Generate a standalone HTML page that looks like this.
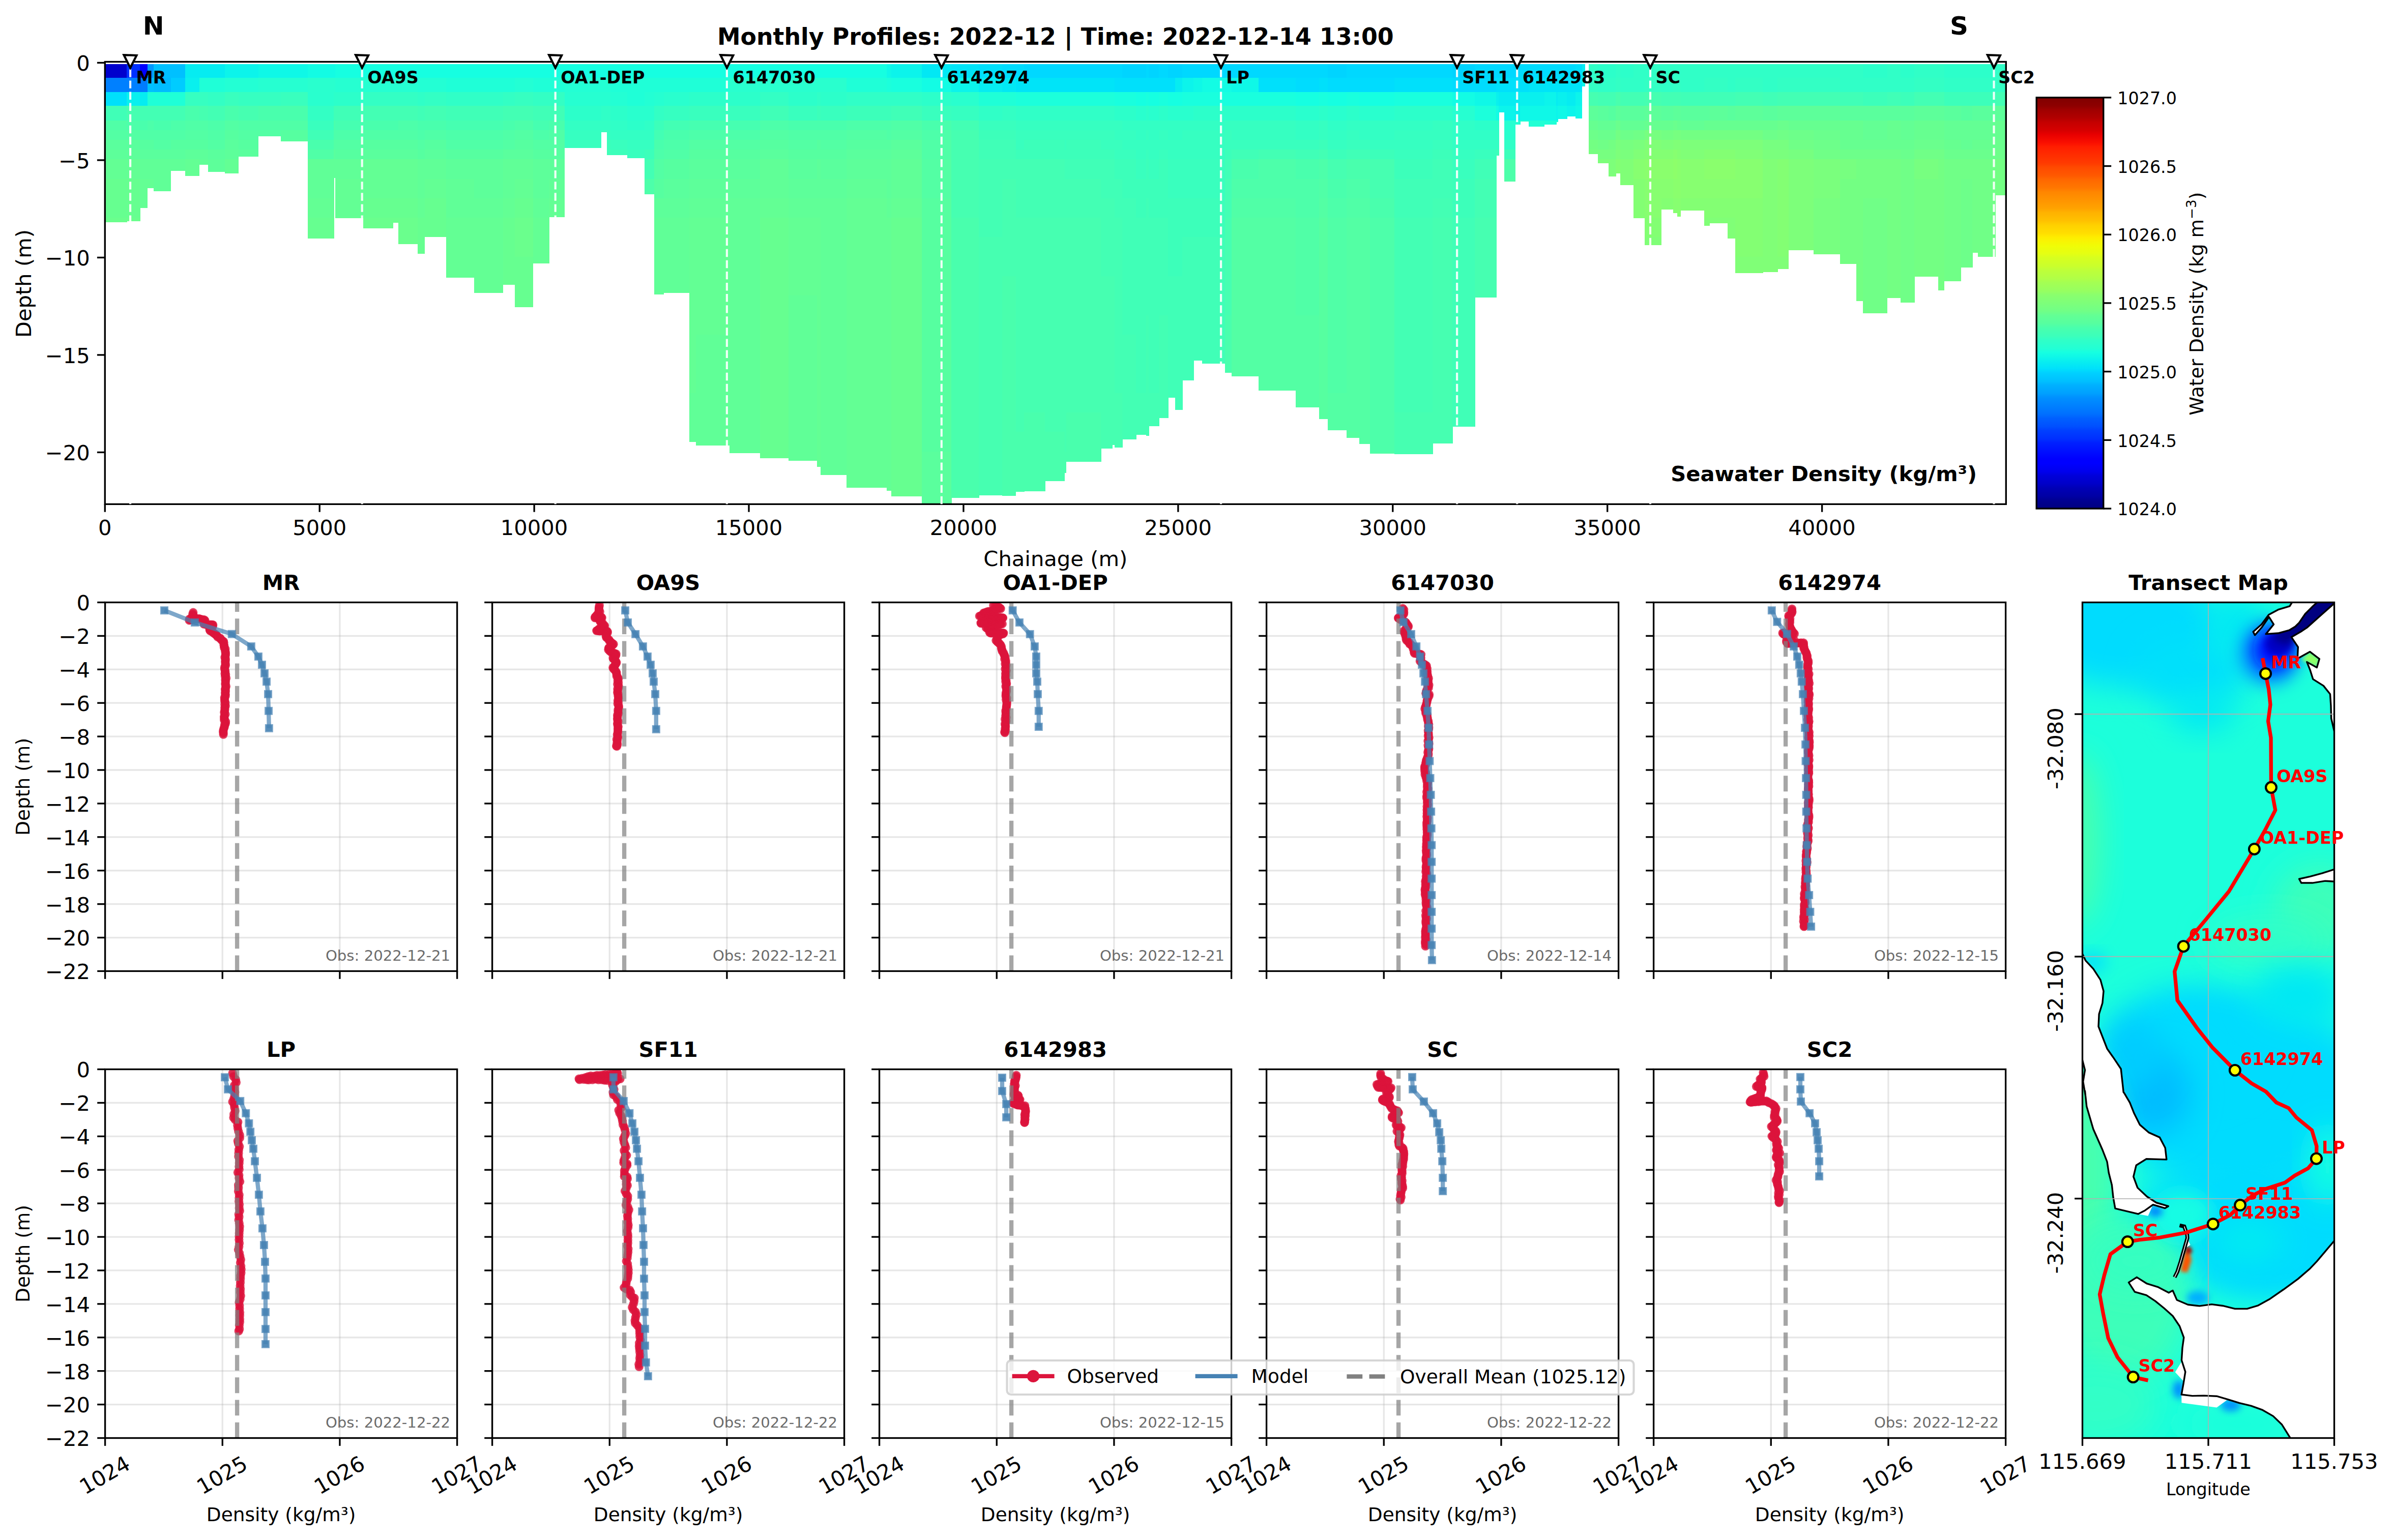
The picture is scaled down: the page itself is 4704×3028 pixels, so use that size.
<!DOCTYPE html>
<html lang="en"><head><meta charset="utf-8"><title>Monthly Profiles: 2022-12</title>
<style>
html,body{margin:0;padding:0;background:#fff;width:4704px;height:3028px;overflow:hidden}
svg{display:block}
text{font-family:"DejaVu Sans","Liberation Sans",sans-serif;white-space:pre}
</style></head><body>
<svg xmlns="http://www.w3.org/2000/svg" width="4704" height="3028" viewBox="0 0 4704 3028">
<rect x="0" y="0" width="4704" height="3028" fill="#fff"/>
<g shape-rendering="crispEdges">
<rect x="207.67" y="125.9" width="42.15" height="27.6" fill="#0000cd" stroke="none" stroke-width="0" />
<rect x="207.67" y="152.9" width="42.15" height="28.4" fill="#0080ff" stroke="none" stroke-width="0" />
<rect x="207.67" y="180.7" width="42.15" height="28.1" fill="#00e0fb" stroke="none" stroke-width="0" />
<rect x="207.67" y="208.2" width="42.15" height="29" fill="#40ffb7" stroke="none" stroke-width="0" />
<rect x="207.67" y="236.6" width="42.15" height="19.7" fill="#50ffa7" stroke="none" stroke-width="0" />
<rect x="207.67" y="255.7" width="42.15" height="19.8" fill="#53ffa4" stroke="none" stroke-width="0" />
<rect x="207.67" y="274.9" width="42.15" height="19.7" fill="#5aff9d" stroke="none" stroke-width="0" />
<rect x="207.67" y="294" width="42.15" height="19.8" fill="#5dff9a" stroke="none" stroke-width="0" />
<rect x="207.67" y="313.2" width="42.15" height="38.9" fill="#63ff94" stroke="none" stroke-width="0" />
<rect x="207.67" y="351.5" width="42.15" height="77.2" fill="#66ff90" stroke="none" stroke-width="0" />
<rect x="207.67" y="428.1" width="42.15" height="8.54" fill="#6aff8d" stroke="none" stroke-width="0" />
<rect x="249.22" y="125.9" width="26.43" height="27.6" fill="#0030ff" stroke="none" stroke-width="0" />
<rect x="249.22" y="152.9" width="26.43" height="28.4" fill="#0080ff" stroke="none" stroke-width="0" />
<rect x="249.22" y="180.7" width="26.43" height="28.1" fill="#09f0ee" stroke="none" stroke-width="0" />
<rect x="249.22" y="208.2" width="26.43" height="29" fill="#46ffb1" stroke="none" stroke-width="0" />
<rect x="249.22" y="236.6" width="26.43" height="19.7" fill="#4dffaa" stroke="none" stroke-width="0" />
<rect x="249.22" y="255.7" width="26.43" height="19.8" fill="#53ffa4" stroke="none" stroke-width="0" />
<rect x="249.22" y="274.9" width="26.43" height="19.7" fill="#5aff9d" stroke="none" stroke-width="0" />
<rect x="249.22" y="294" width="26.43" height="19.8" fill="#5dff9a" stroke="none" stroke-width="0" />
<rect x="249.22" y="313.2" width="26.43" height="38.9" fill="#63ff94" stroke="none" stroke-width="0" />
<rect x="249.22" y="351.5" width="26.43" height="77.2" fill="#66ff90" stroke="none" stroke-width="0" />
<rect x="249.22" y="428.1" width="26.43" height="6.51" fill="#6aff8d" stroke="none" stroke-width="0" />
<rect x="275.05" y="125.9" width="15.29" height="27.6" fill="#0000ff" stroke="none" stroke-width="0" />
<rect x="275.05" y="152.9" width="15.29" height="28.4" fill="#007cff" stroke="none" stroke-width="0" />
<rect x="275.05" y="180.7" width="15.29" height="28.1" fill="#06ecf1" stroke="none" stroke-width="0" />
<rect x="275.05" y="208.2" width="15.29" height="29" fill="#43ffb4" stroke="none" stroke-width="0" />
<rect x="275.05" y="236.6" width="15.29" height="19.7" fill="#49ffad" stroke="none" stroke-width="0" />
<rect x="275.05" y="255.7" width="15.29" height="19.8" fill="#50ffa7" stroke="none" stroke-width="0" />
<rect x="275.05" y="274.9" width="15.29" height="19.7" fill="#56ffa0" stroke="none" stroke-width="0" />
<rect x="275.05" y="294" width="15.29" height="19.8" fill="#5aff9d" stroke="none" stroke-width="0" />
<rect x="275.05" y="313.2" width="15.29" height="38.9" fill="#60ff97" stroke="none" stroke-width="0" />
<rect x="275.05" y="351.5" width="15.29" height="57.28" fill="#63ff94" stroke="none" stroke-width="0" />
<rect x="289.74" y="125.9" width="13.26" height="27.6" fill="#0098ff" stroke="none" stroke-width="0" />
<rect x="289.74" y="152.9" width="13.26" height="28.4" fill="#00c0ff" stroke="none" stroke-width="0" />
<rect x="289.74" y="180.7" width="13.26" height="28.1" fill="#1fffd7" stroke="none" stroke-width="0" />
<rect x="289.74" y="208.2" width="13.26" height="29" fill="#43ffb4" stroke="none" stroke-width="0" />
<rect x="289.74" y="236.6" width="13.26" height="19.7" fill="#4dffaa" stroke="none" stroke-width="0" />
<rect x="289.74" y="255.7" width="13.26" height="19.8" fill="#50ffa7" stroke="none" stroke-width="0" />
<rect x="289.74" y="274.9" width="13.26" height="19.7" fill="#56ffa0" stroke="none" stroke-width="0" />
<rect x="289.74" y="294" width="13.26" height="19.8" fill="#5aff9d" stroke="none" stroke-width="0" />
<rect x="289.74" y="313.2" width="13.26" height="38.9" fill="#60ff97" stroke="none" stroke-width="0" />
<rect x="289.74" y="351.5" width="13.26" height="18.78" fill="#63ff94" stroke="none" stroke-width="0" />
<rect x="302.41" y="125.9" width="34.03" height="27.6" fill="#00c0ff" stroke="none" stroke-width="0" />
<rect x="302.41" y="152.9" width="34.03" height="28.4" fill="#00bcff" stroke="none" stroke-width="0" />
<rect x="302.41" y="180.7" width="34.03" height="28.1" fill="#1fffd7" stroke="none" stroke-width="0" />
<rect x="302.41" y="208.2" width="34.03" height="29" fill="#43ffb4" stroke="none" stroke-width="0" />
<rect x="302.41" y="236.6" width="34.03" height="19.7" fill="#49ffad" stroke="none" stroke-width="0" />
<rect x="302.41" y="255.7" width="34.03" height="19.8" fill="#50ffa7" stroke="none" stroke-width="0" />
<rect x="302.41" y="274.9" width="34.03" height="19.7" fill="#53ffa4" stroke="none" stroke-width="0" />
<rect x="302.41" y="294" width="34.03" height="19.8" fill="#5aff9d" stroke="none" stroke-width="0" />
<rect x="302.41" y="313.2" width="34.03" height="63.16" fill="#60ff97" stroke="none" stroke-width="0" />
<rect x="335.84" y="125.9" width="28.97" height="27.6" fill="#00c0ff" stroke="none" stroke-width="0" />
<rect x="335.84" y="152.9" width="28.97" height="28.4" fill="#00ccff" stroke="none" stroke-width="0" />
<rect x="335.84" y="180.7" width="28.97" height="28.1" fill="#1fffd7" stroke="none" stroke-width="0" />
<rect x="335.84" y="208.2" width="28.97" height="29" fill="#43ffb4" stroke="none" stroke-width="0" />
<rect x="335.84" y="236.6" width="28.97" height="19.7" fill="#4dffaa" stroke="none" stroke-width="0" />
<rect x="335.84" y="255.7" width="28.97" height="19.8" fill="#50ffa7" stroke="none" stroke-width="0" />
<rect x="335.84" y="274.9" width="28.97" height="19.7" fill="#56ffa0" stroke="none" stroke-width="0" />
<rect x="335.84" y="294" width="28.97" height="19.8" fill="#5aff9d" stroke="none" stroke-width="0" />
<rect x="335.84" y="313.2" width="28.97" height="22.64" fill="#60ff97" stroke="none" stroke-width="0" />
<rect x="364.2" y="125.9" width="27.95" height="27.6" fill="#06ecf1" stroke="none" stroke-width="0" />
<rect x="364.2" y="152.9" width="27.95" height="28.4" fill="#09f0ee" stroke="none" stroke-width="0" />
<rect x="364.2" y="180.7" width="27.95" height="28.1" fill="#36ffc1" stroke="none" stroke-width="0" />
<rect x="364.2" y="208.2" width="27.95" height="29" fill="#49ffad" stroke="none" stroke-width="0" />
<rect x="364.2" y="236.6" width="27.95" height="19.7" fill="#50ffa7" stroke="none" stroke-width="0" />
<rect x="364.2" y="255.7" width="27.95" height="19.8" fill="#53ffa4" stroke="none" stroke-width="0" />
<rect x="364.2" y="274.9" width="27.95" height="19.7" fill="#56ffa0" stroke="none" stroke-width="0" />
<rect x="364.2" y="294" width="27.95" height="19.8" fill="#5dff9a" stroke="none" stroke-width="0" />
<rect x="364.2" y="313.2" width="27.95" height="33.28" fill="#63ff94" stroke="none" stroke-width="0" />
<rect x="391.56" y="125.9" width="18.33" height="27.6" fill="#06ecf1" stroke="none" stroke-width="0" />
<rect x="391.56" y="152.9" width="18.33" height="28.4" fill="#1fffd7" stroke="none" stroke-width="0" />
<rect x="391.56" y="180.7" width="18.33" height="28.1" fill="#36ffc1" stroke="none" stroke-width="0" />
<rect x="391.56" y="208.2" width="18.33" height="29" fill="#46ffb1" stroke="none" stroke-width="0" />
<rect x="391.56" y="236.6" width="18.33" height="19.7" fill="#50ffa7" stroke="none" stroke-width="0" />
<rect x="391.56" y="255.7" width="18.33" height="19.8" fill="#53ffa4" stroke="none" stroke-width="0" />
<rect x="391.56" y="274.9" width="18.33" height="19.7" fill="#56ffa0" stroke="none" stroke-width="0" />
<rect x="391.56" y="294" width="18.33" height="19.8" fill="#5dff9a" stroke="none" stroke-width="0" />
<rect x="391.56" y="313.2" width="18.33" height="10.48" fill="#60ff97" stroke="none" stroke-width="0" />
<rect x="409.29" y="125.9" width="33.53" height="27.6" fill="#06ecf1" stroke="none" stroke-width="0" />
<rect x="409.29" y="152.9" width="33.53" height="28.4" fill="#1fffd7" stroke="none" stroke-width="0" />
<rect x="409.29" y="180.7" width="33.53" height="28.1" fill="#33ffc4" stroke="none" stroke-width="0" />
<rect x="409.29" y="208.2" width="33.53" height="29" fill="#43ffb4" stroke="none" stroke-width="0" />
<rect x="409.29" y="236.6" width="33.53" height="19.7" fill="#4dffaa" stroke="none" stroke-width="0" />
<rect x="409.29" y="255.7" width="33.53" height="19.8" fill="#50ffa7" stroke="none" stroke-width="0" />
<rect x="409.29" y="274.9" width="33.53" height="19.7" fill="#53ffa4" stroke="none" stroke-width="0" />
<rect x="409.29" y="294" width="33.53" height="19.8" fill="#5aff9d" stroke="none" stroke-width="0" />
<rect x="409.29" y="313.2" width="33.53" height="25.17" fill="#5dff9a" stroke="none" stroke-width="0" />
<rect x="442.21" y="125.9" width="26.94" height="27.6" fill="#0cf4eb" stroke="none" stroke-width="0" />
<rect x="442.21" y="152.9" width="26.94" height="28.4" fill="#23ffd4" stroke="none" stroke-width="0" />
<rect x="442.21" y="180.7" width="26.94" height="28.1" fill="#39ffbe" stroke="none" stroke-width="0" />
<rect x="442.21" y="208.2" width="26.94" height="29" fill="#49ffad" stroke="none" stroke-width="0" />
<rect x="442.21" y="236.6" width="26.94" height="19.7" fill="#53ffa4" stroke="none" stroke-width="0" />
<rect x="442.21" y="255.7" width="26.94" height="19.8" fill="#56ffa0" stroke="none" stroke-width="0" />
<rect x="442.21" y="274.9" width="26.94" height="19.7" fill="#5aff9d" stroke="none" stroke-width="0" />
<rect x="442.21" y="294" width="26.94" height="19.8" fill="#5dff9a" stroke="none" stroke-width="0" />
<rect x="442.21" y="313.2" width="26.94" height="28.21" fill="#63ff94" stroke="none" stroke-width="0" />
<rect x="468.55" y="125.9" width="39.6" height="27.6" fill="#0cf4eb" stroke="none" stroke-width="0" />
<rect x="468.55" y="152.9" width="39.6" height="28.4" fill="#23ffd4" stroke="none" stroke-width="0" />
<rect x="468.55" y="180.7" width="39.6" height="28.1" fill="#36ffc1" stroke="none" stroke-width="0" />
<rect x="468.55" y="208.2" width="39.6" height="29" fill="#46ffb1" stroke="none" stroke-width="0" />
<rect x="468.55" y="236.6" width="39.6" height="19.7" fill="#50ffa7" stroke="none" stroke-width="0" />
<rect x="468.55" y="255.7" width="39.6" height="19.8" fill="#53ffa4" stroke="none" stroke-width="0" />
<rect x="468.55" y="274.9" width="39.6" height="19.7" fill="#56ffa0" stroke="none" stroke-width="0" />
<rect x="468.55" y="294" width="39.6" height="13.98" fill="#5aff9d" stroke="none" stroke-width="0" />
<rect x="507.56" y="125.9" width="44.67" height="27.6" fill="#0ff8e7" stroke="none" stroke-width="0" />
<rect x="507.56" y="152.9" width="44.67" height="28.4" fill="#26ffd1" stroke="none" stroke-width="0" />
<rect x="507.56" y="180.7" width="44.67" height="28.1" fill="#36ffc1" stroke="none" stroke-width="0" />
<rect x="507.56" y="208.2" width="44.67" height="29" fill="#49ffad" stroke="none" stroke-width="0" />
<rect x="507.56" y="236.6" width="44.67" height="19.7" fill="#50ffa7" stroke="none" stroke-width="0" />
<rect x="507.56" y="255.7" width="44.67" height="12.26" fill="#53ffa4" stroke="none" stroke-width="0" />
<rect x="551.63" y="125.9" width="54.29" height="27.6" fill="#0ff8e7" stroke="none" stroke-width="0" />
<rect x="551.63" y="152.9" width="54.29" height="28.4" fill="#26ffd1" stroke="none" stroke-width="0" />
<rect x="551.63" y="180.7" width="54.29" height="28.1" fill="#39ffbe" stroke="none" stroke-width="0" />
<rect x="551.63" y="208.2" width="54.29" height="29" fill="#49ffad" stroke="none" stroke-width="0" />
<rect x="551.63" y="236.6" width="54.29" height="19.7" fill="#50ffa7" stroke="none" stroke-width="0" />
<rect x="551.63" y="255.7" width="54.29" height="19.8" fill="#56ffa0" stroke="none" stroke-width="0" />
<rect x="551.63" y="274.9" width="54.29" height="2.69" fill="#5aff9d" stroke="none" stroke-width="0" />
<rect x="605.32" y="125.9" width="51.25" height="27.6" fill="#13fce4" stroke="none" stroke-width="0" />
<rect x="605.32" y="152.9" width="51.25" height="55.9" fill="#29ffce" stroke="none" stroke-width="0" />
<rect x="605.32" y="208.2" width="51.25" height="29" fill="#33ffc4" stroke="none" stroke-width="0" />
<rect x="605.32" y="236.6" width="51.25" height="19.7" fill="#39ffbe" stroke="none" stroke-width="0" />
<rect x="605.32" y="255.7" width="51.25" height="19.8" fill="#40ffb7" stroke="none" stroke-width="0" />
<rect x="605.32" y="274.9" width="51.25" height="19.7" fill="#49ffad" stroke="none" stroke-width="0" />
<rect x="605.32" y="294" width="51.25" height="19.8" fill="#50ffa7" stroke="none" stroke-width="0" />
<rect x="605.32" y="313.2" width="51.25" height="77.2" fill="#60ff97" stroke="none" stroke-width="0" />
<rect x="605.32" y="389.8" width="51.25" height="38.9" fill="#63ff94" stroke="none" stroke-width="0" />
<rect x="605.32" y="428.1" width="51.25" height="40.45" fill="#66ff90" stroke="none" stroke-width="0" />
<rect x="655.97" y="125.9" width="3.13" height="27.6" fill="#13fce4" stroke="none" stroke-width="0" />
<rect x="655.97" y="152.9" width="3.13" height="28.4" fill="#29ffce" stroke="none" stroke-width="0" />
<rect x="655.97" y="180.7" width="3.13" height="28.1" fill="#2cffca" stroke="none" stroke-width="0" />
<rect x="655.97" y="208.2" width="3.13" height="29" fill="#40ffb7" stroke="none" stroke-width="0" />
<rect x="655.97" y="236.6" width="3.13" height="19.7" fill="#49ffad" stroke="none" stroke-width="0" />
<rect x="655.97" y="255.7" width="3.13" height="19.8" fill="#4dffaa" stroke="none" stroke-width="0" />
<rect x="655.97" y="274.9" width="3.13" height="19.7" fill="#53ffa4" stroke="none" stroke-width="0" />
<rect x="655.97" y="294" width="3.13" height="19.8" fill="#5aff9d" stroke="none" stroke-width="0" />
<rect x="655.97" y="313.2" width="3.13" height="36.31" fill="#60ff97" stroke="none" stroke-width="0" />
<rect x="658.51" y="125.9" width="56.32" height="27.6" fill="#16ffe1" stroke="none" stroke-width="0" />
<rect x="658.51" y="152.9" width="56.32" height="28.4" fill="#26ffd1" stroke="none" stroke-width="0" />
<rect x="658.51" y="180.7" width="56.32" height="28.1" fill="#2cffca" stroke="none" stroke-width="0" />
<rect x="658.51" y="208.2" width="56.32" height="29" fill="#40ffb7" stroke="none" stroke-width="0" />
<rect x="658.51" y="236.6" width="56.32" height="19.7" fill="#46ffb1" stroke="none" stroke-width="0" />
<rect x="658.51" y="255.7" width="56.32" height="19.8" fill="#4dffaa" stroke="none" stroke-width="0" />
<rect x="658.51" y="274.9" width="56.32" height="19.7" fill="#53ffa4" stroke="none" stroke-width="0" />
<rect x="658.51" y="294" width="56.32" height="19.8" fill="#56ffa0" stroke="none" stroke-width="0" />
<rect x="658.51" y="313.2" width="56.32" height="38.9" fill="#60ff97" stroke="none" stroke-width="0" />
<rect x="658.51" y="351.5" width="56.32" height="77.2" fill="#63ff94" stroke="none" stroke-width="0" />
<rect x="658.51" y="428.1" width="56.32" height="0.44" fill="#66ff90" stroke="none" stroke-width="0" />
<rect x="714.23" y="125.9" width="58.85" height="27.6" fill="#16ffe1" stroke="none" stroke-width="0" />
<rect x="714.23" y="152.9" width="58.85" height="28.4" fill="#26ffd1" stroke="none" stroke-width="0" />
<rect x="714.23" y="180.7" width="58.85" height="28.1" fill="#33ffc4" stroke="none" stroke-width="0" />
<rect x="714.23" y="208.2" width="58.85" height="29" fill="#43ffb4" stroke="none" stroke-width="0" />
<rect x="714.23" y="236.6" width="58.85" height="19.7" fill="#49ffad" stroke="none" stroke-width="0" />
<rect x="714.23" y="255.7" width="58.85" height="19.8" fill="#50ffa7" stroke="none" stroke-width="0" />
<rect x="714.23" y="274.9" width="58.85" height="19.7" fill="#56ffa0" stroke="none" stroke-width="0" />
<rect x="714.23" y="294" width="58.85" height="19.8" fill="#5aff9d" stroke="none" stroke-width="0" />
<rect x="714.23" y="313.2" width="58.85" height="77.2" fill="#63ff94" stroke="none" stroke-width="0" />
<rect x="714.23" y="389.8" width="58.85" height="38.9" fill="#66ff90" stroke="none" stroke-width="0" />
<rect x="714.23" y="428.1" width="58.85" height="21.2" fill="#6aff8d" stroke="none" stroke-width="0" />
<rect x="772.48" y="125.9" width="11.24" height="27.6" fill="#16ffe1" stroke="none" stroke-width="0" />
<rect x="772.48" y="152.9" width="11.24" height="28.4" fill="#26ffd1" stroke="none" stroke-width="0" />
<rect x="772.48" y="180.7" width="11.24" height="28.1" fill="#33ffc4" stroke="none" stroke-width="0" />
<rect x="772.48" y="208.2" width="11.24" height="29" fill="#43ffb4" stroke="none" stroke-width="0" />
<rect x="772.48" y="236.6" width="11.24" height="19.7" fill="#49ffad" stroke="none" stroke-width="0" />
<rect x="772.48" y="255.7" width="11.24" height="19.8" fill="#50ffa7" stroke="none" stroke-width="0" />
<rect x="772.48" y="274.9" width="11.24" height="19.7" fill="#56ffa0" stroke="none" stroke-width="0" />
<rect x="772.48" y="294" width="11.24" height="19.8" fill="#5aff9d" stroke="none" stroke-width="0" />
<rect x="772.48" y="313.2" width="11.24" height="77.2" fill="#63ff94" stroke="none" stroke-width="0" />
<rect x="772.48" y="389.8" width="11.24" height="38.9" fill="#66ff90" stroke="none" stroke-width="0" />
<rect x="772.48" y="428.1" width="11.24" height="9.55" fill="#6aff8d" stroke="none" stroke-width="0" />
<rect x="783.12" y="125.9" width="38.08" height="27.6" fill="#16ffe1" stroke="none" stroke-width="0" />
<rect x="783.12" y="152.9" width="38.08" height="28.4" fill="#26ffd1" stroke="none" stroke-width="0" />
<rect x="783.12" y="180.7" width="38.08" height="28.1" fill="#33ffc4" stroke="none" stroke-width="0" />
<rect x="783.12" y="208.2" width="38.08" height="29" fill="#43ffb4" stroke="none" stroke-width="0" />
<rect x="783.12" y="236.6" width="38.08" height="19.7" fill="#4dffaa" stroke="none" stroke-width="0" />
<rect x="783.12" y="255.7" width="38.08" height="19.8" fill="#50ffa7" stroke="none" stroke-width="0" />
<rect x="783.12" y="274.9" width="38.08" height="19.7" fill="#56ffa0" stroke="none" stroke-width="0" />
<rect x="783.12" y="294" width="38.08" height="19.8" fill="#5aff9d" stroke="none" stroke-width="0" />
<rect x="783.12" y="313.2" width="38.08" height="77.2" fill="#63ff94" stroke="none" stroke-width="0" />
<rect x="783.12" y="389.8" width="38.08" height="38.9" fill="#66ff90" stroke="none" stroke-width="0" />
<rect x="783.12" y="428.1" width="38.08" height="52.1" fill="#6aff8d" stroke="none" stroke-width="0" />
<rect x="820.6" y="125.9" width="14.78" height="27.6" fill="#16ffe1" stroke="none" stroke-width="0" />
<rect x="820.6" y="152.9" width="14.78" height="28.4" fill="#23ffd4" stroke="none" stroke-width="0" />
<rect x="820.6" y="180.7" width="14.78" height="28.1" fill="#30ffc7" stroke="none" stroke-width="0" />
<rect x="820.6" y="208.2" width="14.78" height="29" fill="#40ffb7" stroke="none" stroke-width="0" />
<rect x="820.6" y="236.6" width="14.78" height="19.7" fill="#49ffad" stroke="none" stroke-width="0" />
<rect x="820.6" y="255.7" width="14.78" height="19.8" fill="#4dffaa" stroke="none" stroke-width="0" />
<rect x="820.6" y="274.9" width="14.78" height="19.7" fill="#53ffa4" stroke="none" stroke-width="0" />
<rect x="820.6" y="294" width="14.78" height="19.8" fill="#56ffa0" stroke="none" stroke-width="0" />
<rect x="820.6" y="313.2" width="14.78" height="77.2" fill="#60ff97" stroke="none" stroke-width="0" />
<rect x="820.6" y="389.8" width="14.78" height="38.9" fill="#63ff94" stroke="none" stroke-width="0" />
<rect x="820.6" y="428.1" width="14.78" height="71.35" fill="#66ff90" stroke="none" stroke-width="0" />
<rect x="834.78" y="125.9" width="43.15" height="27.6" fill="#16ffe1" stroke="none" stroke-width="0" />
<rect x="834.78" y="152.9" width="43.15" height="28.4" fill="#23ffd4" stroke="none" stroke-width="0" />
<rect x="834.78" y="180.7" width="43.15" height="28.1" fill="#33ffc4" stroke="none" stroke-width="0" />
<rect x="834.78" y="208.2" width="43.15" height="29" fill="#43ffb4" stroke="none" stroke-width="0" />
<rect x="834.78" y="236.6" width="43.15" height="19.7" fill="#49ffad" stroke="none" stroke-width="0" />
<rect x="834.78" y="255.7" width="43.15" height="19.8" fill="#50ffa7" stroke="none" stroke-width="0" />
<rect x="834.78" y="274.9" width="43.15" height="19.7" fill="#56ffa0" stroke="none" stroke-width="0" />
<rect x="834.78" y="294" width="43.15" height="19.8" fill="#5aff9d" stroke="none" stroke-width="0" />
<rect x="834.78" y="313.2" width="43.15" height="38.9" fill="#60ff97" stroke="none" stroke-width="0" />
<rect x="834.78" y="351.5" width="43.15" height="38.9" fill="#63ff94" stroke="none" stroke-width="0" />
<rect x="834.78" y="389.8" width="43.15" height="75.71" fill="#66ff90" stroke="none" stroke-width="0" />
<rect x="877.33" y="125.9" width="55.31" height="27.6" fill="#16ffe1" stroke="none" stroke-width="0" />
<rect x="877.33" y="152.9" width="55.31" height="28.4" fill="#1fffd7" stroke="none" stroke-width="0" />
<rect x="877.33" y="180.7" width="55.31" height="28.1" fill="#30ffc7" stroke="none" stroke-width="0" />
<rect x="877.33" y="208.2" width="55.31" height="29" fill="#40ffb7" stroke="none" stroke-width="0" />
<rect x="877.33" y="236.6" width="55.31" height="19.7" fill="#46ffb1" stroke="none" stroke-width="0" />
<rect x="877.33" y="255.7" width="55.31" height="19.8" fill="#4dffaa" stroke="none" stroke-width="0" />
<rect x="877.33" y="274.9" width="55.31" height="19.7" fill="#50ffa7" stroke="none" stroke-width="0" />
<rect x="877.33" y="294" width="55.31" height="19.8" fill="#56ffa0" stroke="none" stroke-width="0" />
<rect x="877.33" y="313.2" width="55.31" height="38.9" fill="#5dff9a" stroke="none" stroke-width="0" />
<rect x="877.33" y="351.5" width="55.31" height="77.2" fill="#60ff97" stroke="none" stroke-width="0" />
<rect x="877.33" y="428.1" width="55.31" height="117.45" fill="#63ff94" stroke="none" stroke-width="0" />
<rect x="932.04" y="125.9" width="57.33" height="27.6" fill="#16ffe1" stroke="none" stroke-width="0" />
<rect x="932.04" y="152.9" width="57.33" height="28.4" fill="#1fffd7" stroke="none" stroke-width="0" />
<rect x="932.04" y="180.7" width="57.33" height="28.1" fill="#30ffc7" stroke="none" stroke-width="0" />
<rect x="932.04" y="208.2" width="57.33" height="29" fill="#40ffb7" stroke="none" stroke-width="0" />
<rect x="932.04" y="236.6" width="57.33" height="19.7" fill="#46ffb1" stroke="none" stroke-width="0" />
<rect x="932.04" y="255.7" width="57.33" height="19.8" fill="#4dffaa" stroke="none" stroke-width="0" />
<rect x="932.04" y="274.9" width="57.33" height="19.7" fill="#50ffa7" stroke="none" stroke-width="0" />
<rect x="932.04" y="294" width="57.33" height="19.8" fill="#56ffa0" stroke="none" stroke-width="0" />
<rect x="932.04" y="313.2" width="57.33" height="77.2" fill="#5dff9a" stroke="none" stroke-width="0" />
<rect x="932.04" y="389.8" width="57.33" height="38.9" fill="#60ff97" stroke="none" stroke-width="0" />
<rect x="932.04" y="428.1" width="57.33" height="148.35" fill="#63ff94" stroke="none" stroke-width="0" />
<rect x="988.77" y="125.9" width="23.39" height="27.6" fill="#16ffe1" stroke="none" stroke-width="0" />
<rect x="988.77" y="152.9" width="23.39" height="28.4" fill="#1fffd7" stroke="none" stroke-width="0" />
<rect x="988.77" y="180.7" width="23.39" height="28.1" fill="#33ffc4" stroke="none" stroke-width="0" />
<rect x="988.77" y="208.2" width="23.39" height="29" fill="#43ffb4" stroke="none" stroke-width="0" />
<rect x="988.77" y="236.6" width="23.39" height="19.7" fill="#49ffad" stroke="none" stroke-width="0" />
<rect x="988.77" y="255.7" width="23.39" height="19.8" fill="#50ffa7" stroke="none" stroke-width="0" />
<rect x="988.77" y="274.9" width="23.39" height="19.7" fill="#53ffa4" stroke="none" stroke-width="0" />
<rect x="988.77" y="294" width="23.39" height="19.8" fill="#5aff9d" stroke="none" stroke-width="0" />
<rect x="988.77" y="313.2" width="23.39" height="77.2" fill="#60ff97" stroke="none" stroke-width="0" />
<rect x="988.77" y="389.8" width="23.39" height="38.9" fill="#63ff94" stroke="none" stroke-width="0" />
<rect x="988.77" y="428.1" width="23.39" height="131.63" fill="#66ff90" stroke="none" stroke-width="0" />
<rect x="1011.57" y="125.9" width="36.56" height="27.6" fill="#16ffe1" stroke="none" stroke-width="0" />
<rect x="1011.57" y="152.9" width="36.56" height="28.4" fill="#23ffd4" stroke="none" stroke-width="0" />
<rect x="1011.57" y="180.7" width="36.56" height="28.1" fill="#36ffc1" stroke="none" stroke-width="0" />
<rect x="1011.57" y="208.2" width="36.56" height="29" fill="#43ffb4" stroke="none" stroke-width="0" />
<rect x="1011.57" y="236.6" width="36.56" height="19.7" fill="#4dffaa" stroke="none" stroke-width="0" />
<rect x="1011.57" y="255.7" width="36.56" height="19.8" fill="#53ffa4" stroke="none" stroke-width="0" />
<rect x="1011.57" y="274.9" width="36.56" height="19.7" fill="#56ffa0" stroke="none" stroke-width="0" />
<rect x="1011.57" y="294" width="36.56" height="19.8" fill="#5aff9d" stroke="none" stroke-width="0" />
<rect x="1011.57" y="313.2" width="36.56" height="38.9" fill="#60ff97" stroke="none" stroke-width="0" />
<rect x="1011.57" y="351.5" width="36.56" height="38.9" fill="#63ff94" stroke="none" stroke-width="0" />
<rect x="1011.57" y="389.8" width="36.56" height="38.9" fill="#66ff90" stroke="none" stroke-width="0" />
<rect x="1011.57" y="428.1" width="36.56" height="77.2" fill="#6aff8d" stroke="none" stroke-width="0" />
<rect x="1011.57" y="504.7" width="36.56" height="99.61" fill="#66ff90" stroke="none" stroke-width="0" />
<rect x="1047.53" y="125.9" width="32.01" height="27.6" fill="#16ffe1" stroke="none" stroke-width="0" />
<rect x="1047.53" y="152.9" width="32.01" height="28.4" fill="#1fffd7" stroke="none" stroke-width="0" />
<rect x="1047.53" y="180.7" width="32.01" height="28.1" fill="#33ffc4" stroke="none" stroke-width="0" />
<rect x="1047.53" y="208.2" width="32.01" height="29" fill="#40ffb7" stroke="none" stroke-width="0" />
<rect x="1047.53" y="236.6" width="32.01" height="19.7" fill="#46ffb1" stroke="none" stroke-width="0" />
<rect x="1047.53" y="255.7" width="32.01" height="19.8" fill="#4dffaa" stroke="none" stroke-width="0" />
<rect x="1047.53" y="274.9" width="32.01" height="19.7" fill="#53ffa4" stroke="none" stroke-width="0" />
<rect x="1047.53" y="294" width="32.01" height="19.8" fill="#56ffa0" stroke="none" stroke-width="0" />
<rect x="1047.53" y="313.2" width="32.01" height="77.2" fill="#5dff9a" stroke="none" stroke-width="0" />
<rect x="1047.53" y="389.8" width="32.01" height="38.9" fill="#60ff97" stroke="none" stroke-width="0" />
<rect x="1047.53" y="428.1" width="32.01" height="89.59" fill="#63ff94" stroke="none" stroke-width="0" />
<rect x="1078.94" y="125.9" width="31.5" height="27.6" fill="#16ffe1" stroke="none" stroke-width="0" />
<rect x="1078.94" y="152.9" width="31.5" height="28.4" fill="#1fffd7" stroke="none" stroke-width="0" />
<rect x="1078.94" y="180.7" width="31.5" height="28.1" fill="#33ffc4" stroke="none" stroke-width="0" />
<rect x="1078.94" y="208.2" width="31.5" height="29" fill="#40ffb7" stroke="none" stroke-width="0" />
<rect x="1078.94" y="236.6" width="31.5" height="19.7" fill="#49ffad" stroke="none" stroke-width="0" />
<rect x="1078.94" y="255.7" width="31.5" height="19.8" fill="#50ffa7" stroke="none" stroke-width="0" />
<rect x="1078.94" y="274.9" width="31.5" height="19.7" fill="#53ffa4" stroke="none" stroke-width="0" />
<rect x="1078.94" y="294" width="31.5" height="19.8" fill="#56ffa0" stroke="none" stroke-width="0" />
<rect x="1078.94" y="313.2" width="31.5" height="38.9" fill="#5dff9a" stroke="none" stroke-width="0" />
<rect x="1078.94" y="351.5" width="31.5" height="38.9" fill="#60ff97" stroke="none" stroke-width="0" />
<rect x="1078.94" y="389.8" width="31.5" height="36.71" fill="#63ff94" stroke="none" stroke-width="0" />
<rect x="1109.84" y="125.9" width="72.53" height="27.6" fill="#16ffe1" stroke="none" stroke-width="0" />
<rect x="1109.84" y="152.9" width="72.53" height="28.4" fill="#23ffd4" stroke="none" stroke-width="0" />
<rect x="1109.84" y="180.7" width="72.53" height="28.1" fill="#26ffd1" stroke="none" stroke-width="0" />
<rect x="1109.84" y="208.2" width="72.53" height="29" fill="#2cffca" stroke="none" stroke-width="0" />
<rect x="1109.84" y="236.6" width="72.53" height="19.7" fill="#33ffc4" stroke="none" stroke-width="0" />
<rect x="1109.84" y="255.7" width="72.53" height="19.8" fill="#36ffc1" stroke="none" stroke-width="0" />
<rect x="1109.84" y="274.9" width="72.53" height="15.86" fill="#39ffbe" stroke="none" stroke-width="0" />
<rect x="1181.76" y="125.9" width="11.74" height="27.6" fill="#16ffe1" stroke="none" stroke-width="0" />
<rect x="1181.76" y="152.9" width="11.74" height="28.4" fill="#23ffd4" stroke="none" stroke-width="0" />
<rect x="1181.76" y="180.7" width="11.74" height="28.1" fill="#26ffd1" stroke="none" stroke-width="0" />
<rect x="1181.76" y="208.2" width="11.74" height="29" fill="#30ffc7" stroke="none" stroke-width="0" />
<rect x="1181.76" y="236.6" width="11.74" height="19.7" fill="#33ffc4" stroke="none" stroke-width="0" />
<rect x="1181.76" y="255.7" width="11.74" height="4.16" fill="#39ffbe" stroke="none" stroke-width="0" />
<rect x="1192.91" y="125.9" width="7.69" height="27.6" fill="#16ffe1" stroke="none" stroke-width="0" />
<rect x="1192.91" y="152.9" width="7.69" height="28.4" fill="#23ffd4" stroke="none" stroke-width="0" />
<rect x="1192.91" y="180.7" width="7.69" height="28.1" fill="#26ffd1" stroke="none" stroke-width="0" />
<rect x="1192.91" y="208.2" width="7.69" height="29" fill="#30ffc7" stroke="none" stroke-width="0" />
<rect x="1192.91" y="236.6" width="7.69" height="19.7" fill="#33ffc4" stroke="none" stroke-width="0" />
<rect x="1192.91" y="255.7" width="7.69" height="19.8" fill="#36ffc1" stroke="none" stroke-width="0" />
<rect x="1192.91" y="274.9" width="7.69" height="19.7" fill="#3cffba" stroke="none" stroke-width="0" />
<rect x="1192.91" y="294" width="7.69" height="11.45" fill="#40ffb7" stroke="none" stroke-width="0" />
<rect x="1200" y="125.9" width="33.82" height="27.6" fill="#16ffe1" stroke="none" stroke-width="0" />
<rect x="1200" y="152.9" width="33.82" height="28.4" fill="#1fffd7" stroke="none" stroke-width="0" />
<rect x="1200" y="180.7" width="33.82" height="28.1" fill="#23ffd4" stroke="none" stroke-width="0" />
<rect x="1200" y="208.2" width="33.82" height="29" fill="#2cffca" stroke="none" stroke-width="0" />
<rect x="1200" y="236.6" width="33.82" height="19.7" fill="#30ffc7" stroke="none" stroke-width="0" />
<rect x="1200" y="255.7" width="33.82" height="19.8" fill="#33ffc4" stroke="none" stroke-width="0" />
<rect x="1200" y="274.9" width="33.82" height="19.7" fill="#39ffbe" stroke="none" stroke-width="0" />
<rect x="1200" y="294" width="33.82" height="11.45" fill="#3cffba" stroke="none" stroke-width="0" />
<rect x="1233.22" y="125.9" width="34.54" height="27.6" fill="#16ffe1" stroke="none" stroke-width="0" />
<rect x="1233.22" y="152.9" width="34.54" height="55.9" fill="#1fffd7" stroke="none" stroke-width="0" />
<rect x="1233.22" y="208.2" width="34.54" height="29" fill="#29ffce" stroke="none" stroke-width="0" />
<rect x="1233.22" y="236.6" width="34.54" height="19.7" fill="#2cffca" stroke="none" stroke-width="0" />
<rect x="1233.22" y="255.7" width="34.54" height="19.8" fill="#33ffc4" stroke="none" stroke-width="0" />
<rect x="1233.22" y="274.9" width="34.54" height="19.7" fill="#36ffc1" stroke="none" stroke-width="0" />
<rect x="1233.22" y="294" width="34.54" height="16.51" fill="#39ffbe" stroke="none" stroke-width="0" />
<rect x="1267.16" y="125.9" width="19.34" height="27.6" fill="#16ffe1" stroke="none" stroke-width="0" />
<rect x="1267.16" y="152.9" width="19.34" height="28.4" fill="#1fffd7" stroke="none" stroke-width="0" />
<rect x="1267.16" y="180.7" width="19.34" height="28.1" fill="#23ffd4" stroke="none" stroke-width="0" />
<rect x="1267.16" y="208.2" width="19.34" height="29" fill="#29ffce" stroke="none" stroke-width="0" />
<rect x="1267.16" y="236.6" width="19.34" height="19.7" fill="#30ffc7" stroke="none" stroke-width="0" />
<rect x="1267.16" y="255.7" width="19.34" height="19.8" fill="#33ffc4" stroke="none" stroke-width="0" />
<rect x="1267.16" y="274.9" width="19.34" height="19.7" fill="#36ffc1" stroke="none" stroke-width="0" />
<rect x="1267.16" y="294" width="19.34" height="19.8" fill="#3cffba" stroke="none" stroke-width="0" />
<rect x="1267.16" y="313.2" width="19.34" height="38.9" fill="#43ffb4" stroke="none" stroke-width="0" />
<rect x="1267.16" y="351.5" width="19.34" height="30.94" fill="#4dffaa" stroke="none" stroke-width="0" />
<rect x="1285.9" y="125.9" width="19.34" height="27.6" fill="#16ffe1" stroke="none" stroke-width="0" />
<rect x="1285.9" y="152.9" width="19.34" height="28.4" fill="#1fffd7" stroke="none" stroke-width="0" />
<rect x="1285.9" y="180.7" width="19.34" height="28.1" fill="#26ffd1" stroke="none" stroke-width="0" />
<rect x="1285.9" y="208.2" width="19.34" height="29" fill="#33ffc4" stroke="none" stroke-width="0" />
<rect x="1285.9" y="236.6" width="19.34" height="19.7" fill="#3cffba" stroke="none" stroke-width="0" />
<rect x="1285.9" y="255.7" width="19.34" height="19.8" fill="#43ffb4" stroke="none" stroke-width="0" />
<rect x="1285.9" y="274.9" width="19.34" height="19.7" fill="#49ffad" stroke="none" stroke-width="0" />
<rect x="1285.9" y="294" width="19.34" height="19.8" fill="#4dffaa" stroke="none" stroke-width="0" />
<rect x="1285.9" y="313.2" width="19.34" height="38.9" fill="#53ffa4" stroke="none" stroke-width="0" />
<rect x="1285.9" y="351.5" width="19.34" height="38.9" fill="#56ffa0" stroke="none" stroke-width="0" />
<rect x="1285.9" y="389.8" width="19.34" height="38.9" fill="#5dff9a" stroke="none" stroke-width="0" />
<rect x="1285.9" y="428.1" width="19.34" height="151.39" fill="#60ff97" stroke="none" stroke-width="0" />
<rect x="1304.64" y="125.9" width="50.75" height="27.6" fill="#16ffe1" stroke="none" stroke-width="0" />
<rect x="1304.64" y="152.9" width="50.75" height="28.4" fill="#1fffd7" stroke="none" stroke-width="0" />
<rect x="1304.64" y="180.7" width="50.75" height="28.1" fill="#29ffce" stroke="none" stroke-width="0" />
<rect x="1304.64" y="208.2" width="50.75" height="29" fill="#36ffc1" stroke="none" stroke-width="0" />
<rect x="1304.64" y="236.6" width="50.75" height="19.7" fill="#43ffb4" stroke="none" stroke-width="0" />
<rect x="1304.64" y="255.7" width="50.75" height="19.8" fill="#49ffad" stroke="none" stroke-width="0" />
<rect x="1304.64" y="274.9" width="50.75" height="19.7" fill="#4dffaa" stroke="none" stroke-width="0" />
<rect x="1304.64" y="294" width="50.75" height="19.8" fill="#50ffa7" stroke="none" stroke-width="0" />
<rect x="1304.64" y="313.2" width="50.75" height="38.9" fill="#56ffa0" stroke="none" stroke-width="0" />
<rect x="1304.64" y="351.5" width="50.75" height="38.9" fill="#5aff9d" stroke="none" stroke-width="0" />
<rect x="1304.64" y="389.8" width="50.75" height="38.9" fill="#5dff9a" stroke="none" stroke-width="0" />
<rect x="1304.64" y="428.1" width="50.75" height="148.35" fill="#60ff97" stroke="none" stroke-width="0" />
<rect x="1354.79" y="125.9" width="14.28" height="27.6" fill="#16ffe1" stroke="none" stroke-width="0" />
<rect x="1354.79" y="152.9" width="14.28" height="28.4" fill="#1fffd7" stroke="none" stroke-width="0" />
<rect x="1354.79" y="180.7" width="14.28" height="28.1" fill="#2cffca" stroke="none" stroke-width="0" />
<rect x="1354.79" y="208.2" width="14.28" height="29" fill="#39ffbe" stroke="none" stroke-width="0" />
<rect x="1354.79" y="236.6" width="14.28" height="19.7" fill="#46ffb1" stroke="none" stroke-width="0" />
<rect x="1354.79" y="255.7" width="14.28" height="19.8" fill="#4dffaa" stroke="none" stroke-width="0" />
<rect x="1354.79" y="274.9" width="14.28" height="19.7" fill="#53ffa4" stroke="none" stroke-width="0" />
<rect x="1354.79" y="294" width="14.28" height="19.8" fill="#56ffa0" stroke="none" stroke-width="0" />
<rect x="1354.79" y="313.2" width="14.28" height="38.9" fill="#5aff9d" stroke="none" stroke-width="0" />
<rect x="1354.79" y="351.5" width="14.28" height="38.9" fill="#5dff9a" stroke="none" stroke-width="0" />
<rect x="1354.79" y="389.8" width="14.28" height="38.9" fill="#60ff97" stroke="none" stroke-width="0" />
<rect x="1354.79" y="428.1" width="14.28" height="345.3" fill="#63ff94" stroke="none" stroke-width="0" />
<rect x="1354.79" y="772.8" width="14.28" height="96.17" fill="#60ff97" stroke="none" stroke-width="0" />
<rect x="1368.47" y="125.9" width="66.45" height="27.6" fill="#16ffe1" stroke="none" stroke-width="0" />
<rect x="1368.47" y="152.9" width="66.45" height="28.4" fill="#1fffd7" stroke="none" stroke-width="0" />
<rect x="1368.47" y="180.7" width="66.45" height="28.1" fill="#2cffca" stroke="none" stroke-width="0" />
<rect x="1368.47" y="208.2" width="66.45" height="29" fill="#39ffbe" stroke="none" stroke-width="0" />
<rect x="1368.47" y="236.6" width="66.45" height="19.7" fill="#46ffb1" stroke="none" stroke-width="0" />
<rect x="1368.47" y="255.7" width="66.45" height="19.8" fill="#4dffaa" stroke="none" stroke-width="0" />
<rect x="1368.47" y="274.9" width="66.45" height="19.7" fill="#53ffa4" stroke="none" stroke-width="0" />
<rect x="1368.47" y="294" width="66.45" height="19.8" fill="#56ffa0" stroke="none" stroke-width="0" />
<rect x="1368.47" y="313.2" width="66.45" height="38.9" fill="#5aff9d" stroke="none" stroke-width="0" />
<rect x="1368.47" y="351.5" width="66.45" height="38.9" fill="#5dff9a" stroke="none" stroke-width="0" />
<rect x="1368.47" y="389.8" width="66.45" height="38.9" fill="#60ff97" stroke="none" stroke-width="0" />
<rect x="1368.47" y="428.1" width="66.45" height="230.4" fill="#63ff94" stroke="none" stroke-width="0" />
<rect x="1368.47" y="657.9" width="66.45" height="217.66" fill="#60ff97" stroke="none" stroke-width="0" />
<rect x="1434.32" y="125.9" width="60.37" height="27.6" fill="#16ffe1" stroke="none" stroke-width="0" />
<rect x="1434.32" y="152.9" width="60.37" height="28.4" fill="#29ffce" stroke="none" stroke-width="0" />
<rect x="1434.32" y="180.7" width="60.37" height="28.1" fill="#2cffca" stroke="none" stroke-width="0" />
<rect x="1434.32" y="208.2" width="60.37" height="29" fill="#39ffbe" stroke="none" stroke-width="0" />
<rect x="1434.32" y="236.6" width="60.37" height="19.7" fill="#46ffb1" stroke="none" stroke-width="0" />
<rect x="1434.32" y="255.7" width="60.37" height="19.8" fill="#4dffaa" stroke="none" stroke-width="0" />
<rect x="1434.32" y="274.9" width="60.37" height="19.7" fill="#53ffa4" stroke="none" stroke-width="0" />
<rect x="1434.32" y="294" width="60.37" height="19.8" fill="#56ffa0" stroke="none" stroke-width="0" />
<rect x="1434.32" y="313.2" width="60.37" height="38.9" fill="#5aff9d" stroke="none" stroke-width="0" />
<rect x="1434.32" y="351.5" width="60.37" height="38.9" fill="#5dff9a" stroke="none" stroke-width="0" />
<rect x="1434.32" y="389.8" width="60.37" height="501.46" fill="#60ff97" stroke="none" stroke-width="0" />
<rect x="1494.09" y="125.9" width="56.83" height="27.6" fill="#16ffe1" stroke="none" stroke-width="0" />
<rect x="1494.09" y="152.9" width="56.83" height="28.4" fill="#29ffce" stroke="none" stroke-width="0" />
<rect x="1494.09" y="180.7" width="56.83" height="28.1" fill="#33ffc4" stroke="none" stroke-width="0" />
<rect x="1494.09" y="208.2" width="56.83" height="29" fill="#40ffb7" stroke="none" stroke-width="0" />
<rect x="1494.09" y="236.6" width="56.83" height="19.7" fill="#4dffaa" stroke="none" stroke-width="0" />
<rect x="1494.09" y="255.7" width="56.83" height="19.8" fill="#53ffa4" stroke="none" stroke-width="0" />
<rect x="1494.09" y="274.9" width="56.83" height="19.7" fill="#56ffa0" stroke="none" stroke-width="0" />
<rect x="1494.09" y="294" width="56.83" height="19.8" fill="#5aff9d" stroke="none" stroke-width="0" />
<rect x="1494.09" y="313.2" width="56.83" height="77.2" fill="#60ff97" stroke="none" stroke-width="0" />
<rect x="1494.09" y="389.8" width="56.83" height="38.9" fill="#63ff94" stroke="none" stroke-width="0" />
<rect x="1494.09" y="428.1" width="56.83" height="473.29" fill="#66ff90" stroke="none" stroke-width="0" />
<rect x="1550.32" y="125.9" width="56.32" height="27.6" fill="#16ffe1" stroke="none" stroke-width="0" />
<rect x="1550.32" y="152.9" width="56.32" height="28.4" fill="#29ffce" stroke="none" stroke-width="0" />
<rect x="1550.32" y="180.7" width="56.32" height="28.1" fill="#2cffca" stroke="none" stroke-width="0" />
<rect x="1550.32" y="208.2" width="56.32" height="29" fill="#39ffbe" stroke="none" stroke-width="0" />
<rect x="1550.32" y="236.6" width="56.32" height="19.7" fill="#49ffad" stroke="none" stroke-width="0" />
<rect x="1550.32" y="255.7" width="56.32" height="19.8" fill="#50ffa7" stroke="none" stroke-width="0" />
<rect x="1550.32" y="274.9" width="56.32" height="19.7" fill="#53ffa4" stroke="none" stroke-width="0" />
<rect x="1550.32" y="294" width="56.32" height="19.8" fill="#56ffa0" stroke="none" stroke-width="0" />
<rect x="1550.32" y="313.2" width="56.32" height="38.9" fill="#5aff9d" stroke="none" stroke-width="0" />
<rect x="1550.32" y="351.5" width="56.32" height="38.9" fill="#5dff9a" stroke="none" stroke-width="0" />
<rect x="1550.32" y="389.8" width="56.32" height="38.9" fill="#60ff97" stroke="none" stroke-width="0" />
<rect x="1550.32" y="428.1" width="56.32" height="153.8" fill="#63ff94" stroke="none" stroke-width="0" />
<rect x="1550.32" y="581.3" width="56.32" height="325.16" fill="#60ff97" stroke="none" stroke-width="0" />
<rect x="1606.04" y="125.9" width="7.69" height="27.6" fill="#16ffe1" stroke="none" stroke-width="0" />
<rect x="1606.04" y="152.9" width="7.69" height="28.4" fill="#29ffce" stroke="none" stroke-width="0" />
<rect x="1606.04" y="180.7" width="7.69" height="28.1" fill="#30ffc7" stroke="none" stroke-width="0" />
<rect x="1606.04" y="208.2" width="7.69" height="29" fill="#3cffba" stroke="none" stroke-width="0" />
<rect x="1606.04" y="236.6" width="7.69" height="19.7" fill="#49ffad" stroke="none" stroke-width="0" />
<rect x="1606.04" y="255.7" width="7.69" height="19.8" fill="#50ffa7" stroke="none" stroke-width="0" />
<rect x="1606.04" y="274.9" width="7.69" height="38.9" fill="#56ffa0" stroke="none" stroke-width="0" />
<rect x="1606.04" y="313.2" width="7.69" height="77.2" fill="#5dff9a" stroke="none" stroke-width="0" />
<rect x="1606.04" y="389.8" width="7.69" height="38.9" fill="#60ff97" stroke="none" stroke-width="0" />
<rect x="1606.04" y="428.1" width="7.69" height="489.5" fill="#63ff94" stroke="none" stroke-width="0" />
<rect x="1613.13" y="125.9" width="51.76" height="27.6" fill="#16ffe1" stroke="none" stroke-width="0" />
<rect x="1613.13" y="152.9" width="51.76" height="28.4" fill="#29ffce" stroke="none" stroke-width="0" />
<rect x="1613.13" y="180.7" width="51.76" height="28.1" fill="#2cffca" stroke="none" stroke-width="0" />
<rect x="1613.13" y="208.2" width="51.76" height="29" fill="#39ffbe" stroke="none" stroke-width="0" />
<rect x="1613.13" y="236.6" width="51.76" height="19.7" fill="#49ffad" stroke="none" stroke-width="0" />
<rect x="1613.13" y="255.7" width="51.76" height="19.8" fill="#50ffa7" stroke="none" stroke-width="0" />
<rect x="1613.13" y="274.9" width="51.76" height="19.7" fill="#53ffa4" stroke="none" stroke-width="0" />
<rect x="1613.13" y="294" width="51.76" height="19.8" fill="#56ffa0" stroke="none" stroke-width="0" />
<rect x="1613.13" y="313.2" width="51.76" height="38.9" fill="#5aff9d" stroke="none" stroke-width="0" />
<rect x="1613.13" y="351.5" width="51.76" height="38.9" fill="#5dff9a" stroke="none" stroke-width="0" />
<rect x="1613.13" y="389.8" width="51.76" height="544.52" fill="#60ff97" stroke="none" stroke-width="0" />
<rect x="1664.29" y="125.9" width="79.62" height="27.6" fill="#16ffe1" stroke="none" stroke-width="0" />
<rect x="1664.29" y="152.9" width="79.62" height="28.4" fill="#1fffd7" stroke="none" stroke-width="0" />
<rect x="1664.29" y="180.7" width="79.62" height="28.1" fill="#30ffc7" stroke="none" stroke-width="0" />
<rect x="1664.29" y="208.2" width="79.62" height="29" fill="#3cffba" stroke="none" stroke-width="0" />
<rect x="1664.29" y="236.6" width="79.62" height="19.7" fill="#4dffaa" stroke="none" stroke-width="0" />
<rect x="1664.29" y="255.7" width="79.62" height="19.8" fill="#53ffa4" stroke="none" stroke-width="0" />
<rect x="1664.29" y="274.9" width="79.62" height="19.7" fill="#56ffa0" stroke="none" stroke-width="0" />
<rect x="1664.29" y="294" width="79.62" height="19.8" fill="#5aff9d" stroke="none" stroke-width="0" />
<rect x="1664.29" y="313.2" width="79.62" height="38.9" fill="#5dff9a" stroke="none" stroke-width="0" />
<rect x="1664.29" y="351.5" width="79.62" height="38.9" fill="#60ff97" stroke="none" stroke-width="0" />
<rect x="1664.29" y="389.8" width="79.62" height="569.34" fill="#63ff94" stroke="none" stroke-width="0" />
<rect x="1743.31" y="125.9" width="9.72" height="27.6" fill="#0ff8e7" stroke="none" stroke-width="0" />
<rect x="1743.31" y="152.9" width="9.72" height="28.4" fill="#1cffdb" stroke="none" stroke-width="0" />
<rect x="1743.31" y="180.7" width="9.72" height="28.1" fill="#30ffc7" stroke="none" stroke-width="0" />
<rect x="1743.31" y="208.2" width="9.72" height="29" fill="#3cffba" stroke="none" stroke-width="0" />
<rect x="1743.31" y="236.6" width="9.72" height="19.7" fill="#4dffaa" stroke="none" stroke-width="0" />
<rect x="1743.31" y="255.7" width="9.72" height="19.8" fill="#50ffa7" stroke="none" stroke-width="0" />
<rect x="1743.31" y="274.9" width="9.72" height="19.7" fill="#56ffa0" stroke="none" stroke-width="0" />
<rect x="1743.31" y="294" width="9.72" height="19.8" fill="#5aff9d" stroke="none" stroke-width="0" />
<rect x="1743.31" y="313.2" width="9.72" height="77.2" fill="#5dff9a" stroke="none" stroke-width="0" />
<rect x="1743.31" y="389.8" width="9.72" height="38.9" fill="#60ff97" stroke="none" stroke-width="0" />
<rect x="1743.31" y="428.1" width="9.72" height="536.61" fill="#63ff94" stroke="none" stroke-width="0" />
<rect x="1752.43" y="125.9" width="60.37" height="27.6" fill="#0cf4eb" stroke="none" stroke-width="0" />
<rect x="1752.43" y="152.9" width="60.37" height="28.4" fill="#19ffde" stroke="none" stroke-width="0" />
<rect x="1752.43" y="180.7" width="60.37" height="28.1" fill="#30ffc7" stroke="none" stroke-width="0" />
<rect x="1752.43" y="208.2" width="60.37" height="29" fill="#40ffb7" stroke="none" stroke-width="0" />
<rect x="1752.43" y="236.6" width="60.37" height="19.7" fill="#50ffa7" stroke="none" stroke-width="0" />
<rect x="1752.43" y="255.7" width="60.37" height="19.8" fill="#53ffa4" stroke="none" stroke-width="0" />
<rect x="1752.43" y="274.9" width="60.37" height="19.7" fill="#5aff9d" stroke="none" stroke-width="0" />
<rect x="1752.43" y="294" width="60.37" height="19.8" fill="#5dff9a" stroke="none" stroke-width="0" />
<rect x="1752.43" y="313.2" width="60.37" height="77.2" fill="#60ff97" stroke="none" stroke-width="0" />
<rect x="1752.43" y="389.8" width="60.37" height="38.9" fill="#63ff94" stroke="none" stroke-width="0" />
<rect x="1752.43" y="428.1" width="60.37" height="548.26" fill="#66ff90" stroke="none" stroke-width="0" />
<rect x="1812.2" y="125.9" width="58.35" height="27.6" fill="#02e8f4" stroke="none" stroke-width="0" />
<rect x="1812.2" y="152.9" width="58.35" height="28.4" fill="#13fce4" stroke="none" stroke-width="0" />
<rect x="1812.2" y="180.7" width="58.35" height="28.1" fill="#2cffca" stroke="none" stroke-width="0" />
<rect x="1812.2" y="208.2" width="58.35" height="29" fill="#39ffbe" stroke="none" stroke-width="0" />
<rect x="1812.2" y="236.6" width="58.35" height="19.7" fill="#49ffad" stroke="none" stroke-width="0" />
<rect x="1812.2" y="255.7" width="58.35" height="19.8" fill="#4dffaa" stroke="none" stroke-width="0" />
<rect x="1812.2" y="274.9" width="58.35" height="38.9" fill="#50ffa7" stroke="none" stroke-width="0" />
<rect x="1812.2" y="313.2" width="58.35" height="77.2" fill="#53ffa4" stroke="none" stroke-width="0" />
<rect x="1812.2" y="389.8" width="58.35" height="498.5" fill="#56ffa0" stroke="none" stroke-width="0" />
<rect x="1812.2" y="887.7" width="58.35" height="103.6" fill="#5aff9d" stroke="none" stroke-width="0" />
<rect x="1869.95" y="125.9" width="54.8" height="27.6" fill="#00e4f8" stroke="none" stroke-width="0" />
<rect x="1869.95" y="152.9" width="54.8" height="28.4" fill="#0cf4eb" stroke="none" stroke-width="0" />
<rect x="1869.95" y="180.7" width="54.8" height="28.1" fill="#29ffce" stroke="none" stroke-width="0" />
<rect x="1869.95" y="208.2" width="54.8" height="29" fill="#36ffc1" stroke="none" stroke-width="0" />
<rect x="1869.95" y="236.6" width="54.8" height="19.7" fill="#43ffb4" stroke="none" stroke-width="0" />
<rect x="1869.95" y="255.7" width="54.8" height="173" fill="#46ffb1" stroke="none" stroke-width="0" />
<rect x="1869.95" y="428.1" width="54.8" height="536.8" fill="#49ffad" stroke="none" stroke-width="0" />
<rect x="1869.95" y="964.3" width="54.8" height="15.1" fill="#4dffaa" stroke="none" stroke-width="0" />
<rect x="1924.15" y="125.9" width="46.19" height="27.6" fill="#00e0fb" stroke="none" stroke-width="0" />
<rect x="1924.15" y="152.9" width="46.19" height="28.4" fill="#06ecf1" stroke="none" stroke-width="0" />
<rect x="1924.15" y="180.7" width="46.19" height="28.1" fill="#1fffd7" stroke="none" stroke-width="0" />
<rect x="1924.15" y="208.2" width="46.19" height="29" fill="#30ffc7" stroke="none" stroke-width="0" />
<rect x="1924.15" y="236.6" width="46.19" height="19.7" fill="#39ffbe" stroke="none" stroke-width="0" />
<rect x="1924.15" y="255.7" width="46.19" height="19.8" fill="#3cffba" stroke="none" stroke-width="0" />
<rect x="1924.15" y="274.9" width="46.19" height="38.9" fill="#40ffb7" stroke="none" stroke-width="0" />
<rect x="1924.15" y="313.2" width="46.19" height="153.8" fill="#43ffb4" stroke="none" stroke-width="0" />
<rect x="1924.15" y="466.4" width="46.19" height="507.94" fill="#46ffb1" stroke="none" stroke-width="0" />
<rect x="1969.73" y="125.9" width="27.45" height="27.6" fill="#00dcfe" stroke="none" stroke-width="0" />
<rect x="1969.73" y="152.9" width="27.45" height="28.4" fill="#02e8f4" stroke="none" stroke-width="0" />
<rect x="1969.73" y="180.7" width="27.45" height="28.1" fill="#1fffd7" stroke="none" stroke-width="0" />
<rect x="1969.73" y="208.2" width="27.45" height="29" fill="#33ffc4" stroke="none" stroke-width="0" />
<rect x="1969.73" y="236.6" width="27.45" height="19.7" fill="#39ffbe" stroke="none" stroke-width="0" />
<rect x="1969.73" y="255.7" width="27.45" height="19.8" fill="#3cffba" stroke="none" stroke-width="0" />
<rect x="1969.73" y="274.9" width="27.45" height="38.9" fill="#40ffb7" stroke="none" stroke-width="0" />
<rect x="1969.73" y="313.2" width="27.45" height="38.9" fill="#43ffb4" stroke="none" stroke-width="0" />
<rect x="1969.73" y="351.5" width="27.45" height="192.1" fill="#46ffb1" stroke="none" stroke-width="0" />
<rect x="1969.73" y="543" width="27.45" height="431.84" fill="#49ffad" stroke="none" stroke-width="0" />
<rect x="1996.58" y="125.9" width="17.32" height="27.6" fill="#00dcfe" stroke="none" stroke-width="0" />
<rect x="1996.58" y="152.9" width="17.32" height="28.4" fill="#00e4f8" stroke="none" stroke-width="0" />
<rect x="1996.58" y="180.7" width="17.32" height="28.1" fill="#1cffdb" stroke="none" stroke-width="0" />
<rect x="1996.58" y="208.2" width="17.32" height="29" fill="#30ffc7" stroke="none" stroke-width="0" />
<rect x="1996.58" y="236.6" width="17.32" height="19.7" fill="#36ffc1" stroke="none" stroke-width="0" />
<rect x="1996.58" y="255.7" width="17.32" height="38.9" fill="#39ffbe" stroke="none" stroke-width="0" />
<rect x="1996.58" y="294" width="17.32" height="19.8" fill="#3cffba" stroke="none" stroke-width="0" />
<rect x="1996.58" y="313.2" width="17.32" height="115.5" fill="#43ffb4" stroke="none" stroke-width="0" />
<rect x="1996.58" y="428.1" width="17.32" height="421.9" fill="#46ffb1" stroke="none" stroke-width="0" />
<rect x="1996.58" y="849.4" width="17.32" height="117.84" fill="#49ffad" stroke="none" stroke-width="0" />
<rect x="2013.3" y="125.9" width="41.63" height="27.6" fill="#00d8ff" stroke="none" stroke-width="0" />
<rect x="2013.3" y="152.9" width="41.63" height="28.4" fill="#00e4f8" stroke="none" stroke-width="0" />
<rect x="2013.3" y="180.7" width="41.63" height="28.1" fill="#1cffdb" stroke="none" stroke-width="0" />
<rect x="2013.3" y="208.2" width="41.63" height="29" fill="#30ffc7" stroke="none" stroke-width="0" />
<rect x="2013.3" y="236.6" width="41.63" height="19.7" fill="#36ffc1" stroke="none" stroke-width="0" />
<rect x="2013.3" y="255.7" width="41.63" height="19.8" fill="#39ffbe" stroke="none" stroke-width="0" />
<rect x="2013.3" y="274.9" width="41.63" height="38.9" fill="#3cffba" stroke="none" stroke-width="0" />
<rect x="2013.3" y="313.2" width="41.63" height="115.5" fill="#43ffb4" stroke="none" stroke-width="0" />
<rect x="2013.3" y="428.1" width="41.63" height="383.6" fill="#46ffb1" stroke="none" stroke-width="0" />
<rect x="2013.3" y="811.1" width="41.63" height="154.62" fill="#49ffad" stroke="none" stroke-width="0" />
<rect x="2054.33" y="125.9" width="39.1" height="27.6" fill="#00d8ff" stroke="none" stroke-width="0" />
<rect x="2054.33" y="152.9" width="39.1" height="28.4" fill="#00e4f8" stroke="none" stroke-width="0" />
<rect x="2054.33" y="180.7" width="39.1" height="28.1" fill="#1cffdb" stroke="none" stroke-width="0" />
<rect x="2054.33" y="208.2" width="39.1" height="29" fill="#30ffc7" stroke="none" stroke-width="0" />
<rect x="2054.33" y="236.6" width="39.1" height="19.7" fill="#36ffc1" stroke="none" stroke-width="0" />
<rect x="2054.33" y="255.7" width="39.1" height="19.8" fill="#39ffbe" stroke="none" stroke-width="0" />
<rect x="2054.33" y="274.9" width="39.1" height="38.9" fill="#3cffba" stroke="none" stroke-width="0" />
<rect x="2054.33" y="313.2" width="39.1" height="115.5" fill="#43ffb4" stroke="none" stroke-width="0" />
<rect x="2054.33" y="428.1" width="39.1" height="421.9" fill="#46ffb1" stroke="none" stroke-width="0" />
<rect x="2054.33" y="849.4" width="39.1" height="97.08" fill="#49ffad" stroke="none" stroke-width="0" />
<rect x="2092.82" y="125.9" width="3.64" height="27.6" fill="#00d8ff" stroke="none" stroke-width="0" />
<rect x="2092.82" y="152.9" width="3.64" height="28.4" fill="#00e4f8" stroke="none" stroke-width="0" />
<rect x="2092.82" y="180.7" width="3.64" height="28.1" fill="#1cffdb" stroke="none" stroke-width="0" />
<rect x="2092.82" y="208.2" width="3.64" height="29" fill="#30ffc7" stroke="none" stroke-width="0" />
<rect x="2092.82" y="236.6" width="3.64" height="19.7" fill="#36ffc1" stroke="none" stroke-width="0" />
<rect x="2092.82" y="255.7" width="3.64" height="38.9" fill="#39ffbe" stroke="none" stroke-width="0" />
<rect x="2092.82" y="294" width="3.64" height="19.8" fill="#3cffba" stroke="none" stroke-width="0" />
<rect x="2092.82" y="313.2" width="3.64" height="38.9" fill="#40ffb7" stroke="none" stroke-width="0" />
<rect x="2092.82" y="351.5" width="3.64" height="77.2" fill="#43ffb4" stroke="none" stroke-width="0" />
<rect x="2092.82" y="428.1" width="3.64" height="460.2" fill="#46ffb1" stroke="none" stroke-width="0" />
<rect x="2092.82" y="887.7" width="3.64" height="42.57" fill="#49ffad" stroke="none" stroke-width="0" />
<rect x="2095.86" y="125.9" width="68.98" height="27.6" fill="#00d8ff" stroke="none" stroke-width="0" />
<rect x="2095.86" y="152.9" width="68.98" height="28.4" fill="#00e4f8" stroke="none" stroke-width="0" />
<rect x="2095.86" y="180.7" width="68.98" height="28.1" fill="#1cffdb" stroke="none" stroke-width="0" />
<rect x="2095.86" y="208.2" width="68.98" height="29" fill="#30ffc7" stroke="none" stroke-width="0" />
<rect x="2095.86" y="236.6" width="68.98" height="19.7" fill="#36ffc1" stroke="none" stroke-width="0" />
<rect x="2095.86" y="255.7" width="68.98" height="19.8" fill="#39ffbe" stroke="none" stroke-width="0" />
<rect x="2095.86" y="274.9" width="68.98" height="38.9" fill="#3cffba" stroke="none" stroke-width="0" />
<rect x="2095.86" y="313.2" width="68.98" height="38.9" fill="#40ffb7" stroke="none" stroke-width="0" />
<rect x="2095.86" y="351.5" width="68.98" height="77.2" fill="#43ffb4" stroke="none" stroke-width="0" />
<rect x="2095.86" y="428.1" width="68.98" height="383.6" fill="#46ffb1" stroke="none" stroke-width="0" />
<rect x="2095.86" y="811.1" width="68.98" height="97.38" fill="#49ffad" stroke="none" stroke-width="0" />
<rect x="2164.25" y="125.9" width="22.89" height="27.6" fill="#00d8ff" stroke="none" stroke-width="0" />
<rect x="2164.25" y="152.9" width="22.89" height="28.4" fill="#00e4f8" stroke="none" stroke-width="0" />
<rect x="2164.25" y="180.7" width="22.89" height="28.1" fill="#1cffdb" stroke="none" stroke-width="0" />
<rect x="2164.25" y="208.2" width="22.89" height="29" fill="#30ffc7" stroke="none" stroke-width="0" />
<rect x="2164.25" y="236.6" width="22.89" height="19.7" fill="#36ffc1" stroke="none" stroke-width="0" />
<rect x="2164.25" y="255.7" width="22.89" height="38.9" fill="#39ffbe" stroke="none" stroke-width="0" />
<rect x="2164.25" y="294" width="22.89" height="19.8" fill="#3cffba" stroke="none" stroke-width="0" />
<rect x="2164.25" y="313.2" width="22.89" height="77.2" fill="#40ffb7" stroke="none" stroke-width="0" />
<rect x="2164.25" y="389.8" width="22.89" height="153.8" fill="#43ffb4" stroke="none" stroke-width="0" />
<rect x="2164.25" y="543" width="22.89" height="338.64" fill="#46ffb1" stroke="none" stroke-width="0" />
<rect x="2186.53" y="125.9" width="5.16" height="27.6" fill="#00d8ff" stroke="none" stroke-width="0" />
<rect x="2186.53" y="152.9" width="5.16" height="28.4" fill="#00e4f8" stroke="none" stroke-width="0" />
<rect x="2186.53" y="180.7" width="5.16" height="28.1" fill="#1cffdb" stroke="none" stroke-width="0" />
<rect x="2186.53" y="208.2" width="5.16" height="29" fill="#30ffc7" stroke="none" stroke-width="0" />
<rect x="2186.53" y="236.6" width="5.16" height="19.7" fill="#36ffc1" stroke="none" stroke-width="0" />
<rect x="2186.53" y="255.7" width="5.16" height="38.9" fill="#39ffbe" stroke="none" stroke-width="0" />
<rect x="2186.53" y="294" width="5.16" height="19.8" fill="#3cffba" stroke="none" stroke-width="0" />
<rect x="2186.53" y="313.2" width="5.16" height="77.2" fill="#40ffb7" stroke="none" stroke-width="0" />
<rect x="2186.53" y="389.8" width="5.16" height="153.8" fill="#43ffb4" stroke="none" stroke-width="0" />
<rect x="2186.53" y="543" width="5.16" height="332.05" fill="#46ffb1" stroke="none" stroke-width="0" />
<rect x="2191.09" y="125.9" width="15.29" height="27.6" fill="#00d8ff" stroke="none" stroke-width="0" />
<rect x="2191.09" y="152.9" width="15.29" height="28.4" fill="#00e0fb" stroke="none" stroke-width="0" />
<rect x="2191.09" y="180.7" width="15.29" height="28.1" fill="#19ffde" stroke="none" stroke-width="0" />
<rect x="2191.09" y="208.2" width="15.29" height="29" fill="#2cffca" stroke="none" stroke-width="0" />
<rect x="2191.09" y="236.6" width="15.29" height="38.9" fill="#36ffc1" stroke="none" stroke-width="0" />
<rect x="2191.09" y="274.9" width="15.29" height="38.9" fill="#39ffbe" stroke="none" stroke-width="0" />
<rect x="2191.09" y="313.2" width="15.29" height="38.9" fill="#3cffba" stroke="none" stroke-width="0" />
<rect x="2191.09" y="351.5" width="15.29" height="77.2" fill="#40ffb7" stroke="none" stroke-width="0" />
<rect x="2191.09" y="428.1" width="15.29" height="345.3" fill="#43ffb4" stroke="none" stroke-width="0" />
<rect x="2191.09" y="772.8" width="15.29" height="107.32" fill="#46ffb1" stroke="none" stroke-width="0" />
<rect x="2205.78" y="125.9" width="0.9" height="27.6" fill="#00d8ff" stroke="none" stroke-width="0" />
<rect x="2205.78" y="152.9" width="0.9" height="28.4" fill="#00e4f8" stroke="none" stroke-width="0" />
<rect x="2205.78" y="180.7" width="0.9" height="28.1" fill="#1cffdb" stroke="none" stroke-width="0" />
<rect x="2205.78" y="208.2" width="0.9" height="29" fill="#30ffc7" stroke="none" stroke-width="0" />
<rect x="2205.78" y="236.6" width="0.9" height="19.7" fill="#36ffc1" stroke="none" stroke-width="0" />
<rect x="2205.78" y="255.7" width="0.9" height="38.9" fill="#39ffbe" stroke="none" stroke-width="0" />
<rect x="2205.78" y="294" width="0.9" height="19.8" fill="#3cffba" stroke="none" stroke-width="0" />
<rect x="2205.78" y="313.2" width="0.9" height="115.5" fill="#40ffb7" stroke="none" stroke-width="0" />
<rect x="2205.78" y="428.1" width="0.9" height="230.4" fill="#43ffb4" stroke="none" stroke-width="0" />
<rect x="2205.78" y="657.9" width="0.9" height="222.22" fill="#46ffb1" stroke="none" stroke-width="0" />
<rect x="2206.08" y="125.9" width="27.95" height="27.6" fill="#00d4ff" stroke="none" stroke-width="0" />
<rect x="2206.08" y="152.9" width="27.95" height="28.4" fill="#00e0fb" stroke="none" stroke-width="0" />
<rect x="2206.08" y="180.7" width="27.95" height="28.1" fill="#19ffde" stroke="none" stroke-width="0" />
<rect x="2206.08" y="208.2" width="27.95" height="29" fill="#2cffca" stroke="none" stroke-width="0" />
<rect x="2206.08" y="236.6" width="27.95" height="19.7" fill="#33ffc4" stroke="none" stroke-width="0" />
<rect x="2206.08" y="255.7" width="27.95" height="38.9" fill="#36ffc1" stroke="none" stroke-width="0" />
<rect x="2206.08" y="294" width="27.95" height="19.8" fill="#39ffbe" stroke="none" stroke-width="0" />
<rect x="2206.08" y="313.2" width="27.95" height="77.2" fill="#3cffba" stroke="none" stroke-width="0" />
<rect x="2206.08" y="389.8" width="27.95" height="268.7" fill="#40ffb7" stroke="none" stroke-width="0" />
<rect x="2206.08" y="657.9" width="27.95" height="206.01" fill="#43ffb4" stroke="none" stroke-width="0" />
<rect x="2233.43" y="125.9" width="20.36" height="27.6" fill="#00d4ff" stroke="none" stroke-width="0" />
<rect x="2233.43" y="152.9" width="20.36" height="28.4" fill="#00e0fb" stroke="none" stroke-width="0" />
<rect x="2233.43" y="180.7" width="20.36" height="28.1" fill="#16ffe1" stroke="none" stroke-width="0" />
<rect x="2233.43" y="208.2" width="20.36" height="29" fill="#29ffce" stroke="none" stroke-width="0" />
<rect x="2233.43" y="236.6" width="20.36" height="38.9" fill="#33ffc4" stroke="none" stroke-width="0" />
<rect x="2233.43" y="274.9" width="20.36" height="38.9" fill="#36ffc1" stroke="none" stroke-width="0" />
<rect x="2233.43" y="313.2" width="20.36" height="38.9" fill="#39ffbe" stroke="none" stroke-width="0" />
<rect x="2233.43" y="351.5" width="20.36" height="77.2" fill="#3cffba" stroke="none" stroke-width="0" />
<rect x="2233.43" y="428.1" width="20.36" height="345.3" fill="#40ffb7" stroke="none" stroke-width="0" />
<rect x="2233.43" y="772.8" width="20.36" height="81.99" fill="#43ffb4" stroke="none" stroke-width="0" />
<rect x="2253.19" y="125.9" width="5.67" height="27.6" fill="#00d8ff" stroke="none" stroke-width="0" />
<rect x="2253.19" y="152.9" width="5.67" height="28.4" fill="#00e0fb" stroke="none" stroke-width="0" />
<rect x="2253.19" y="180.7" width="5.67" height="28.1" fill="#19ffde" stroke="none" stroke-width="0" />
<rect x="2253.19" y="208.2" width="5.67" height="29" fill="#2cffca" stroke="none" stroke-width="0" />
<rect x="2253.19" y="236.6" width="5.67" height="19.7" fill="#33ffc4" stroke="none" stroke-width="0" />
<rect x="2253.19" y="255.7" width="5.67" height="38.9" fill="#36ffc1" stroke="none" stroke-width="0" />
<rect x="2253.19" y="294" width="5.67" height="19.8" fill="#39ffbe" stroke="none" stroke-width="0" />
<rect x="2253.19" y="313.2" width="5.67" height="77.2" fill="#3cffba" stroke="none" stroke-width="0" />
<rect x="2253.19" y="389.8" width="5.67" height="230.4" fill="#40ffb7" stroke="none" stroke-width="0" />
<rect x="2253.19" y="619.6" width="5.67" height="237.72" fill="#43ffb4" stroke="none" stroke-width="0" />
<rect x="2258.25" y="125.9" width="20.36" height="27.6" fill="#00d4ff" stroke="none" stroke-width="0" />
<rect x="2258.25" y="152.9" width="20.36" height="28.4" fill="#00e0fb" stroke="none" stroke-width="0" />
<rect x="2258.25" y="180.7" width="20.36" height="28.1" fill="#16ffe1" stroke="none" stroke-width="0" />
<rect x="2258.25" y="208.2" width="20.36" height="29" fill="#29ffce" stroke="none" stroke-width="0" />
<rect x="2258.25" y="236.6" width="20.36" height="38.9" fill="#33ffc4" stroke="none" stroke-width="0" />
<rect x="2258.25" y="274.9" width="20.36" height="38.9" fill="#36ffc1" stroke="none" stroke-width="0" />
<rect x="2258.25" y="313.2" width="20.36" height="38.9" fill="#39ffbe" stroke="none" stroke-width="0" />
<rect x="2258.25" y="351.5" width="20.36" height="77.2" fill="#3cffba" stroke="none" stroke-width="0" />
<rect x="2258.25" y="428.1" width="20.36" height="345.3" fill="#40ffb7" stroke="none" stroke-width="0" />
<rect x="2258.25" y="772.8" width="20.36" height="65.28" fill="#43ffb4" stroke="none" stroke-width="0" />
<rect x="2278.01" y="125.9" width="18.84" height="27.6" fill="#00d8ff" stroke="none" stroke-width="0" />
<rect x="2278.01" y="152.9" width="18.84" height="28.4" fill="#00e0fb" stroke="none" stroke-width="0" />
<rect x="2278.01" y="180.7" width="18.84" height="28.1" fill="#19ffde" stroke="none" stroke-width="0" />
<rect x="2278.01" y="208.2" width="18.84" height="29" fill="#2cffca" stroke="none" stroke-width="0" />
<rect x="2278.01" y="236.6" width="18.84" height="19.7" fill="#33ffc4" stroke="none" stroke-width="0" />
<rect x="2278.01" y="255.7" width="18.84" height="38.9" fill="#36ffc1" stroke="none" stroke-width="0" />
<rect x="2278.01" y="294" width="18.84" height="19.8" fill="#39ffbe" stroke="none" stroke-width="0" />
<rect x="2278.01" y="313.2" width="18.84" height="115.5" fill="#3cffba" stroke="none" stroke-width="0" />
<rect x="2278.01" y="428.1" width="18.84" height="192.1" fill="#40ffb7" stroke="none" stroke-width="0" />
<rect x="2278.01" y="619.6" width="18.84" height="202.27" fill="#43ffb4" stroke="none" stroke-width="0" />
<rect x="2296.24" y="125.9" width="14.78" height="27.6" fill="#00d4ff" stroke="none" stroke-width="0" />
<rect x="2296.24" y="152.9" width="14.78" height="28.4" fill="#00e0fb" stroke="none" stroke-width="0" />
<rect x="2296.24" y="180.7" width="14.78" height="28.1" fill="#16ffe1" stroke="none" stroke-width="0" />
<rect x="2296.24" y="208.2" width="14.78" height="29" fill="#29ffce" stroke="none" stroke-width="0" />
<rect x="2296.24" y="236.6" width="14.78" height="38.9" fill="#33ffc4" stroke="none" stroke-width="0" />
<rect x="2296.24" y="274.9" width="14.78" height="38.9" fill="#36ffc1" stroke="none" stroke-width="0" />
<rect x="2296.24" y="313.2" width="14.78" height="77.2" fill="#39ffbe" stroke="none" stroke-width="0" />
<rect x="2296.24" y="389.8" width="14.78" height="153.8" fill="#3cffba" stroke="none" stroke-width="0" />
<rect x="2296.24" y="543" width="14.78" height="238.85" fill="#40ffb7" stroke="none" stroke-width="0" />
<rect x="2310.43" y="125.9" width="14.28" height="27.6" fill="#00d4ff" stroke="none" stroke-width="0" />
<rect x="2310.43" y="152.9" width="14.28" height="28.4" fill="#06ecf1" stroke="none" stroke-width="0" />
<rect x="2310.43" y="180.7" width="14.28" height="28.1" fill="#16ffe1" stroke="none" stroke-width="0" />
<rect x="2310.43" y="208.2" width="14.28" height="29" fill="#29ffce" stroke="none" stroke-width="0" />
<rect x="2310.43" y="236.6" width="14.28" height="38.9" fill="#33ffc4" stroke="none" stroke-width="0" />
<rect x="2310.43" y="274.9" width="14.28" height="38.9" fill="#36ffc1" stroke="none" stroke-width="0" />
<rect x="2310.43" y="313.2" width="14.28" height="77.2" fill="#39ffbe" stroke="none" stroke-width="0" />
<rect x="2310.43" y="389.8" width="14.28" height="153.8" fill="#3cffba" stroke="none" stroke-width="0" />
<rect x="2310.43" y="543" width="14.28" height="263.16" fill="#40ffb7" stroke="none" stroke-width="0" />
<rect x="2324.1" y="125.9" width="22.89" height="27.6" fill="#00d8ff" stroke="none" stroke-width="0" />
<rect x="2324.1" y="152.9" width="22.89" height="28.4" fill="#0cf4eb" stroke="none" stroke-width="0" />
<rect x="2324.1" y="180.7" width="22.89" height="28.1" fill="#19ffde" stroke="none" stroke-width="0" />
<rect x="2324.1" y="208.2" width="22.89" height="29" fill="#29ffce" stroke="none" stroke-width="0" />
<rect x="2324.1" y="236.6" width="22.89" height="19.7" fill="#33ffc4" stroke="none" stroke-width="0" />
<rect x="2324.1" y="255.7" width="22.89" height="58.1" fill="#36ffc1" stroke="none" stroke-width="0" />
<rect x="2324.1" y="313.2" width="22.89" height="77.2" fill="#39ffbe" stroke="none" stroke-width="0" />
<rect x="2324.1" y="389.8" width="22.89" height="77.2" fill="#3cffba" stroke="none" stroke-width="0" />
<rect x="2324.1" y="466.4" width="22.89" height="282.02" fill="#40ffb7" stroke="none" stroke-width="0" />
<rect x="2346.39" y="125.9" width="17.32" height="27.6" fill="#00d8ff" stroke="none" stroke-width="0" />
<rect x="2346.39" y="152.9" width="17.32" height="28.4" fill="#0ff8e7" stroke="none" stroke-width="0" />
<rect x="2346.39" y="180.7" width="17.32" height="28.1" fill="#19ffde" stroke="none" stroke-width="0" />
<rect x="2346.39" y="208.2" width="17.32" height="29" fill="#2cffca" stroke="none" stroke-width="0" />
<rect x="2346.39" y="236.6" width="17.32" height="19.7" fill="#33ffc4" stroke="none" stroke-width="0" />
<rect x="2346.39" y="255.7" width="17.32" height="58.1" fill="#36ffc1" stroke="none" stroke-width="0" />
<rect x="2346.39" y="313.2" width="17.32" height="77.2" fill="#39ffbe" stroke="none" stroke-width="0" />
<rect x="2346.39" y="389.8" width="17.32" height="77.2" fill="#3cffba" stroke="none" stroke-width="0" />
<rect x="2346.39" y="466.4" width="17.32" height="242.51" fill="#40ffb7" stroke="none" stroke-width="0" />
<rect x="2363.11" y="125.9" width="45.68" height="27.6" fill="#00d8ff" stroke="none" stroke-width="0" />
<rect x="2363.11" y="152.9" width="45.68" height="28.4" fill="#13fce4" stroke="none" stroke-width="0" />
<rect x="2363.11" y="180.7" width="45.68" height="28.1" fill="#19ffde" stroke="none" stroke-width="0" />
<rect x="2363.11" y="208.2" width="45.68" height="29" fill="#2cffca" stroke="none" stroke-width="0" />
<rect x="2363.11" y="236.6" width="45.68" height="19.7" fill="#33ffc4" stroke="none" stroke-width="0" />
<rect x="2363.11" y="255.7" width="45.68" height="58.1" fill="#36ffc1" stroke="none" stroke-width="0" />
<rect x="2363.11" y="313.2" width="45.68" height="77.2" fill="#39ffbe" stroke="none" stroke-width="0" />
<rect x="2363.11" y="389.8" width="45.68" height="77.2" fill="#3cffba" stroke="none" stroke-width="0" />
<rect x="2363.11" y="466.4" width="45.68" height="249.09" fill="#40ffb7" stroke="none" stroke-width="0" />
<rect x="2408.19" y="125.9" width="13.77" height="27.6" fill="#00d8ff" stroke="none" stroke-width="0" />
<rect x="2408.19" y="152.9" width="13.77" height="28.4" fill="#13fce4" stroke="none" stroke-width="0" />
<rect x="2408.19" y="180.7" width="13.77" height="28.1" fill="#19ffde" stroke="none" stroke-width="0" />
<rect x="2408.19" y="208.2" width="13.77" height="29" fill="#2cffca" stroke="none" stroke-width="0" />
<rect x="2408.19" y="236.6" width="13.77" height="19.7" fill="#36ffc1" stroke="none" stroke-width="0" />
<rect x="2408.19" y="255.7" width="13.77" height="38.9" fill="#39ffbe" stroke="none" stroke-width="0" />
<rect x="2408.19" y="294" width="13.77" height="19.8" fill="#3cffba" stroke="none" stroke-width="0" />
<rect x="2408.19" y="313.2" width="13.77" height="38.9" fill="#40ffb7" stroke="none" stroke-width="0" />
<rect x="2408.19" y="351.5" width="13.77" height="77.2" fill="#43ffb4" stroke="none" stroke-width="0" />
<rect x="2408.19" y="428.1" width="13.77" height="192.1" fill="#46ffb1" stroke="none" stroke-width="0" />
<rect x="2408.19" y="619.6" width="13.77" height="113.11" fill="#49ffad" stroke="none" stroke-width="0" />
<rect x="2421.36" y="125.9" width="53.28" height="27.6" fill="#00d8ff" stroke="none" stroke-width="0" />
<rect x="2421.36" y="152.9" width="53.28" height="28.4" fill="#0ff8e7" stroke="none" stroke-width="0" />
<rect x="2421.36" y="180.7" width="53.28" height="28.1" fill="#19ffde" stroke="none" stroke-width="0" />
<rect x="2421.36" y="208.2" width="53.28" height="29" fill="#2cffca" stroke="none" stroke-width="0" />
<rect x="2421.36" y="236.6" width="53.28" height="38.9" fill="#36ffc1" stroke="none" stroke-width="0" />
<rect x="2421.36" y="274.9" width="53.28" height="19.7" fill="#39ffbe" stroke="none" stroke-width="0" />
<rect x="2421.36" y="294" width="53.28" height="19.8" fill="#40ffb7" stroke="none" stroke-width="0" />
<rect x="2421.36" y="313.2" width="53.28" height="38.9" fill="#49ffad" stroke="none" stroke-width="0" />
<rect x="2421.36" y="351.5" width="53.28" height="38.9" fill="#4dffaa" stroke="none" stroke-width="0" />
<rect x="2421.36" y="389.8" width="53.28" height="38.9" fill="#50ffa7" stroke="none" stroke-width="0" />
<rect x="2421.36" y="428.1" width="53.28" height="312.21" fill="#53ffa4" stroke="none" stroke-width="0" />
<rect x="2474.04" y="125.9" width="73.54" height="27.6" fill="#00d8ff" stroke="none" stroke-width="0" />
<rect x="2474.04" y="152.9" width="73.54" height="28.4" fill="#00e0fb" stroke="none" stroke-width="0" />
<rect x="2474.04" y="180.7" width="73.54" height="28.1" fill="#19ffde" stroke="none" stroke-width="0" />
<rect x="2474.04" y="208.2" width="73.54" height="29" fill="#2cffca" stroke="none" stroke-width="0" />
<rect x="2474.04" y="236.6" width="73.54" height="38.9" fill="#36ffc1" stroke="none" stroke-width="0" />
<rect x="2474.04" y="274.9" width="73.54" height="19.7" fill="#39ffbe" stroke="none" stroke-width="0" />
<rect x="2474.04" y="294" width="73.54" height="19.8" fill="#43ffb4" stroke="none" stroke-width="0" />
<rect x="2474.04" y="313.2" width="73.54" height="77.2" fill="#4dffaa" stroke="none" stroke-width="0" />
<rect x="2474.04" y="389.8" width="73.54" height="38.9" fill="#50ffa7" stroke="none" stroke-width="0" />
<rect x="2474.04" y="428.1" width="73.54" height="340.07" fill="#53ffa4" stroke="none" stroke-width="0" />
<rect x="2546.98" y="125.9" width="46.7" height="27.6" fill="#00d8ff" stroke="none" stroke-width="0" />
<rect x="2546.98" y="152.9" width="46.7" height="28.4" fill="#00dcfe" stroke="none" stroke-width="0" />
<rect x="2546.98" y="180.7" width="46.7" height="28.1" fill="#16ffe1" stroke="none" stroke-width="0" />
<rect x="2546.98" y="208.2" width="46.7" height="29" fill="#29ffce" stroke="none" stroke-width="0" />
<rect x="2546.98" y="236.6" width="46.7" height="38.9" fill="#33ffc4" stroke="none" stroke-width="0" />
<rect x="2546.98" y="274.9" width="46.7" height="19.7" fill="#39ffbe" stroke="none" stroke-width="0" />
<rect x="2546.98" y="294" width="46.7" height="19.8" fill="#40ffb7" stroke="none" stroke-width="0" />
<rect x="2546.98" y="313.2" width="46.7" height="38.9" fill="#49ffad" stroke="none" stroke-width="0" />
<rect x="2546.98" y="351.5" width="46.7" height="77.2" fill="#4dffaa" stroke="none" stroke-width="0" />
<rect x="2546.98" y="428.1" width="46.7" height="192.1" fill="#50ffa7" stroke="none" stroke-width="0" />
<rect x="2546.98" y="619.6" width="46.7" height="181.5" fill="#53ffa4" stroke="none" stroke-width="0" />
<rect x="2593.08" y="125.9" width="17.82" height="27.6" fill="#00d8ff" stroke="none" stroke-width="0" />
<rect x="2593.08" y="152.9" width="17.82" height="28.4" fill="#00e0fb" stroke="none" stroke-width="0" />
<rect x="2593.08" y="180.7" width="17.82" height="28.1" fill="#19ffde" stroke="none" stroke-width="0" />
<rect x="2593.08" y="208.2" width="17.82" height="29" fill="#2cffca" stroke="none" stroke-width="0" />
<rect x="2593.08" y="236.6" width="17.82" height="38.9" fill="#36ffc1" stroke="none" stroke-width="0" />
<rect x="2593.08" y="274.9" width="17.82" height="19.7" fill="#3cffba" stroke="none" stroke-width="0" />
<rect x="2593.08" y="294" width="17.82" height="19.8" fill="#43ffb4" stroke="none" stroke-width="0" />
<rect x="2593.08" y="313.2" width="17.82" height="38.9" fill="#4dffaa" stroke="none" stroke-width="0" />
<rect x="2593.08" y="351.5" width="17.82" height="38.9" fill="#50ffa7" stroke="none" stroke-width="0" />
<rect x="2593.08" y="389.8" width="17.82" height="38.9" fill="#53ffa4" stroke="none" stroke-width="0" />
<rect x="2593.08" y="428.1" width="17.82" height="396.3" fill="#56ffa0" stroke="none" stroke-width="0" />
<rect x="2610.3" y="125.9" width="37.58" height="27.6" fill="#00d4ff" stroke="none" stroke-width="0" />
<rect x="2610.3" y="152.9" width="37.58" height="28.4" fill="#00dcfe" stroke="none" stroke-width="0" />
<rect x="2610.3" y="180.7" width="37.58" height="28.1" fill="#16ffe1" stroke="none" stroke-width="0" />
<rect x="2610.3" y="208.2" width="37.58" height="29" fill="#29ffce" stroke="none" stroke-width="0" />
<rect x="2610.3" y="236.6" width="37.58" height="19.7" fill="#30ffc7" stroke="none" stroke-width="0" />
<rect x="2610.3" y="255.7" width="37.58" height="19.8" fill="#33ffc4" stroke="none" stroke-width="0" />
<rect x="2610.3" y="274.9" width="37.58" height="19.7" fill="#36ffc1" stroke="none" stroke-width="0" />
<rect x="2610.3" y="294" width="37.58" height="19.8" fill="#3cffba" stroke="none" stroke-width="0" />
<rect x="2610.3" y="313.2" width="37.58" height="38.9" fill="#46ffb1" stroke="none" stroke-width="0" />
<rect x="2610.3" y="351.5" width="37.58" height="38.9" fill="#49ffad" stroke="none" stroke-width="0" />
<rect x="2610.3" y="389.8" width="37.58" height="38.9" fill="#4dffaa" stroke="none" stroke-width="0" />
<rect x="2610.3" y="428.1" width="37.58" height="345.3" fill="#50ffa7" stroke="none" stroke-width="0" />
<rect x="2610.3" y="772.8" width="37.58" height="73.38" fill="#53ffa4" stroke="none" stroke-width="0" />
<rect x="2647.28" y="125.9" width="24.91" height="27.6" fill="#00d8ff" stroke="none" stroke-width="0" />
<rect x="2647.28" y="152.9" width="24.91" height="28.4" fill="#00dcfe" stroke="none" stroke-width="0" />
<rect x="2647.28" y="180.7" width="24.91" height="28.1" fill="#19ffde" stroke="none" stroke-width="0" />
<rect x="2647.28" y="208.2" width="24.91" height="29" fill="#2cffca" stroke="none" stroke-width="0" />
<rect x="2647.28" y="236.6" width="24.91" height="19.7" fill="#33ffc4" stroke="none" stroke-width="0" />
<rect x="2647.28" y="255.7" width="24.91" height="19.8" fill="#36ffc1" stroke="none" stroke-width="0" />
<rect x="2647.28" y="274.9" width="24.91" height="19.7" fill="#39ffbe" stroke="none" stroke-width="0" />
<rect x="2647.28" y="294" width="24.91" height="19.8" fill="#40ffb7" stroke="none" stroke-width="0" />
<rect x="2647.28" y="313.2" width="24.91" height="38.9" fill="#49ffad" stroke="none" stroke-width="0" />
<rect x="2647.28" y="351.5" width="24.91" height="38.9" fill="#4dffaa" stroke="none" stroke-width="0" />
<rect x="2647.28" y="389.8" width="24.91" height="38.9" fill="#50ffa7" stroke="none" stroke-width="0" />
<rect x="2647.28" y="428.1" width="24.91" height="421.9" fill="#53ffa4" stroke="none" stroke-width="0" />
<rect x="2647.28" y="849.4" width="24.91" height="11.47" fill="#56ffa0" stroke="none" stroke-width="0" />
<rect x="2671.59" y="125.9" width="22.38" height="27.6" fill="#00d8ff" stroke="none" stroke-width="0" />
<rect x="2671.59" y="152.9" width="22.38" height="28.4" fill="#00dcfe" stroke="none" stroke-width="0" />
<rect x="2671.59" y="180.7" width="22.38" height="28.1" fill="#16ffe1" stroke="none" stroke-width="0" />
<rect x="2671.59" y="208.2" width="22.38" height="29" fill="#29ffce" stroke="none" stroke-width="0" />
<rect x="2671.59" y="236.6" width="22.38" height="38.9" fill="#33ffc4" stroke="none" stroke-width="0" />
<rect x="2671.59" y="274.9" width="22.38" height="19.7" fill="#39ffbe" stroke="none" stroke-width="0" />
<rect x="2671.59" y="294" width="22.38" height="19.8" fill="#40ffb7" stroke="none" stroke-width="0" />
<rect x="2671.59" y="313.2" width="22.38" height="38.9" fill="#49ffad" stroke="none" stroke-width="0" />
<rect x="2671.59" y="351.5" width="22.38" height="38.9" fill="#4dffaa" stroke="none" stroke-width="0" />
<rect x="2671.59" y="389.8" width="22.38" height="38.9" fill="#50ffa7" stroke="none" stroke-width="0" />
<rect x="2671.59" y="428.1" width="22.38" height="444.42" fill="#53ffa4" stroke="none" stroke-width="0" />
<rect x="2693.37" y="125.9" width="48.22" height="27.6" fill="#00d8ff" stroke="none" stroke-width="0" />
<rect x="2693.37" y="152.9" width="48.22" height="28.4" fill="#00dcfe" stroke="none" stroke-width="0" />
<rect x="2693.37" y="180.7" width="48.22" height="28.1" fill="#16ffe1" stroke="none" stroke-width="0" />
<rect x="2693.37" y="208.2" width="48.22" height="29" fill="#29ffce" stroke="none" stroke-width="0" />
<rect x="2693.37" y="236.6" width="48.22" height="38.9" fill="#33ffc4" stroke="none" stroke-width="0" />
<rect x="2693.37" y="274.9" width="48.22" height="19.7" fill="#36ffc1" stroke="none" stroke-width="0" />
<rect x="2693.37" y="294" width="48.22" height="19.8" fill="#3cffba" stroke="none" stroke-width="0" />
<rect x="2693.37" y="313.2" width="48.22" height="77.2" fill="#46ffb1" stroke="none" stroke-width="0" />
<rect x="2693.37" y="389.8" width="48.22" height="38.9" fill="#49ffad" stroke="none" stroke-width="0" />
<rect x="2693.37" y="428.1" width="48.22" height="460.2" fill="#4dffaa" stroke="none" stroke-width="0" />
<rect x="2693.37" y="887.7" width="48.22" height="4.58" fill="#50ffa7" stroke="none" stroke-width="0" />
<rect x="2740.99" y="125.9" width="75.57" height="27.6" fill="#00d8ff" stroke="none" stroke-width="0" />
<rect x="2740.99" y="152.9" width="75.57" height="28.4" fill="#00e0fb" stroke="none" stroke-width="0" />
<rect x="2740.99" y="180.7" width="75.57" height="28.1" fill="#19ffde" stroke="none" stroke-width="0" />
<rect x="2740.99" y="208.2" width="75.57" height="29" fill="#2cffca" stroke="none" stroke-width="0" />
<rect x="2740.99" y="236.6" width="75.57" height="19.7" fill="#33ffc4" stroke="none" stroke-width="0" />
<rect x="2740.99" y="255.7" width="75.57" height="38.9" fill="#36ffc1" stroke="none" stroke-width="0" />
<rect x="2740.99" y="294" width="75.57" height="19.8" fill="#39ffbe" stroke="none" stroke-width="0" />
<rect x="2740.99" y="313.2" width="75.57" height="38.9" fill="#3cffba" stroke="none" stroke-width="0" />
<rect x="2740.99" y="351.5" width="75.57" height="77.2" fill="#40ffb7" stroke="none" stroke-width="0" />
<rect x="2740.99" y="428.1" width="75.57" height="383.6" fill="#43ffb4" stroke="none" stroke-width="0" />
<rect x="2740.99" y="811.1" width="75.57" height="82.19" fill="#46ffb1" stroke="none" stroke-width="0" />
<rect x="2815.96" y="125.9" width="39.6" height="27.6" fill="#00d8ff" stroke="none" stroke-width="0" />
<rect x="2815.96" y="152.9" width="39.6" height="28.4" fill="#00e0fb" stroke="none" stroke-width="0" />
<rect x="2815.96" y="180.7" width="39.6" height="28.1" fill="#19ffde" stroke="none" stroke-width="0" />
<rect x="2815.96" y="208.2" width="39.6" height="29" fill="#2cffca" stroke="none" stroke-width="0" />
<rect x="2815.96" y="236.6" width="39.6" height="38.9" fill="#36ffc1" stroke="none" stroke-width="0" />
<rect x="2815.96" y="274.9" width="39.6" height="19.7" fill="#39ffbe" stroke="none" stroke-width="0" />
<rect x="2815.96" y="294" width="39.6" height="19.8" fill="#3cffba" stroke="none" stroke-width="0" />
<rect x="2815.96" y="313.2" width="39.6" height="77.2" fill="#40ffb7" stroke="none" stroke-width="0" />
<rect x="2815.96" y="389.8" width="39.6" height="38.9" fill="#43ffb4" stroke="none" stroke-width="0" />
<rect x="2815.96" y="428.1" width="39.6" height="443.41" fill="#46ffb1" stroke="none" stroke-width="0" />
<rect x="2854.96" y="125.9" width="44.67" height="27.6" fill="#00d4ff" stroke="none" stroke-width="0" />
<rect x="2854.96" y="152.9" width="44.67" height="28.4" fill="#00dcfe" stroke="none" stroke-width="0" />
<rect x="2854.96" y="180.7" width="44.67" height="28.1" fill="#13fce4" stroke="none" stroke-width="0" />
<rect x="2854.96" y="208.2" width="44.67" height="29" fill="#26ffd1" stroke="none" stroke-width="0" />
<rect x="2854.96" y="236.6" width="44.67" height="38.9" fill="#30ffc7" stroke="none" stroke-width="0" />
<rect x="2854.96" y="274.9" width="44.67" height="19.7" fill="#33ffc4" stroke="none" stroke-width="0" />
<rect x="2854.96" y="294" width="44.67" height="19.8" fill="#36ffc1" stroke="none" stroke-width="0" />
<rect x="2854.96" y="313.2" width="44.67" height="38.9" fill="#39ffbe" stroke="none" stroke-width="0" />
<rect x="2854.96" y="351.5" width="44.67" height="77.2" fill="#3cffba" stroke="none" stroke-width="0" />
<rect x="2854.96" y="428.1" width="44.67" height="410.99" fill="#40ffb7" stroke="none" stroke-width="0" />
<rect x="2899.03" y="125.9" width="42.64" height="27.6" fill="#00d8ff" stroke="none" stroke-width="0" />
<rect x="2899.03" y="152.9" width="42.64" height="28.4" fill="#00dcfe" stroke="none" stroke-width="0" />
<rect x="2899.03" y="180.7" width="42.64" height="28.1" fill="#0ff8e7" stroke="none" stroke-width="0" />
<rect x="2899.03" y="208.2" width="42.64" height="29" fill="#1cffdb" stroke="none" stroke-width="0" />
<rect x="2899.03" y="236.6" width="42.64" height="19.7" fill="#2cffca" stroke="none" stroke-width="0" />
<rect x="2899.03" y="255.7" width="42.64" height="19.8" fill="#30ffc7" stroke="none" stroke-width="0" />
<rect x="2899.03" y="274.9" width="42.64" height="19.7" fill="#33ffc4" stroke="none" stroke-width="0" />
<rect x="2899.03" y="294" width="42.64" height="19.8" fill="#39ffbe" stroke="none" stroke-width="0" />
<rect x="2899.03" y="313.2" width="42.64" height="38.9" fill="#40ffb7" stroke="none" stroke-width="0" />
<rect x="2899.03" y="351.5" width="42.64" height="77.2" fill="#43ffb4" stroke="none" stroke-width="0" />
<rect x="2899.03" y="428.1" width="42.64" height="156.45" fill="#46ffb1" stroke="none" stroke-width="0" />
<rect x="2941.07" y="125.9" width="5.67" height="27.6" fill="#00d8ff" stroke="none" stroke-width="0" />
<rect x="2941.07" y="152.9" width="5.67" height="28.4" fill="#00e0fb" stroke="none" stroke-width="0" />
<rect x="2941.07" y="180.7" width="5.67" height="28.1" fill="#09f0ee" stroke="none" stroke-width="0" />
<rect x="2941.07" y="208.2" width="5.67" height="29" fill="#13fce4" stroke="none" stroke-width="0" />
<rect x="2941.07" y="236.6" width="5.67" height="19.7" fill="#2cffca" stroke="none" stroke-width="0" />
<rect x="2941.07" y="255.7" width="5.67" height="19.8" fill="#30ffc7" stroke="none" stroke-width="0" />
<rect x="2941.07" y="274.9" width="5.67" height="19.7" fill="#33ffc4" stroke="none" stroke-width="0" />
<rect x="2941.07" y="294" width="5.67" height="12.46" fill="#3cffba" stroke="none" stroke-width="0" />
<rect x="2946.14" y="125.9" width="11.74" height="27.6" fill="#00d8ff" stroke="none" stroke-width="0" />
<rect x="2946.14" y="152.9" width="11.74" height="28.4" fill="#00e0fb" stroke="none" stroke-width="0" />
<rect x="2946.14" y="180.7" width="11.74" height="28.1" fill="#06ecf1" stroke="none" stroke-width="0" />
<rect x="2946.14" y="208.2" width="11.74" height="13.16" fill="#0cf4eb" stroke="none" stroke-width="0" />
<rect x="2957.28" y="125.9" width="21.37" height="27.6" fill="#00d8ff" stroke="none" stroke-width="0" />
<rect x="2957.28" y="152.9" width="21.37" height="28.4" fill="#00e0fb" stroke="none" stroke-width="0" />
<rect x="2957.28" y="180.7" width="21.37" height="28.1" fill="#06ecf1" stroke="none" stroke-width="0" />
<rect x="2957.28" y="208.2" width="21.37" height="29" fill="#0cf4eb" stroke="none" stroke-width="0" />
<rect x="2957.28" y="236.6" width="21.37" height="19.7" fill="#26ffd1" stroke="none" stroke-width="0" />
<rect x="2957.28" y="255.7" width="21.37" height="19.8" fill="#29ffce" stroke="none" stroke-width="0" />
<rect x="2957.28" y="274.9" width="21.37" height="19.7" fill="#30ffc7" stroke="none" stroke-width="0" />
<rect x="2957.28" y="294" width="21.37" height="19.8" fill="#3cffba" stroke="none" stroke-width="0" />
<rect x="2957.28" y="313.2" width="21.37" height="38.9" fill="#4dffaa" stroke="none" stroke-width="0" />
<rect x="2957.28" y="351.5" width="21.37" height="5.11" fill="#50ffa7" stroke="none" stroke-width="0" />
<rect x="2978.05" y="125.9" width="10.73" height="27.6" fill="#00d8ff" stroke="none" stroke-width="0" />
<rect x="2978.05" y="152.9" width="10.73" height="28.4" fill="#00e0fb" stroke="none" stroke-width="0" />
<rect x="2978.05" y="180.7" width="10.73" height="28.1" fill="#06ecf1" stroke="none" stroke-width="0" />
<rect x="2978.05" y="208.2" width="10.73" height="29" fill="#09f0ee" stroke="none" stroke-width="0" />
<rect x="2978.05" y="236.6" width="10.73" height="8.06" fill="#23ffd4" stroke="none" stroke-width="0" />
<rect x="2988.18" y="125.9" width="17.82" height="27.6" fill="#00dcfe" stroke="none" stroke-width="0" />
<rect x="2988.18" y="152.9" width="17.82" height="28.4" fill="#00e0fb" stroke="none" stroke-width="0" />
<rect x="2988.18" y="180.7" width="17.82" height="28.1" fill="#09f0ee" stroke="none" stroke-width="0" />
<rect x="2988.18" y="208.2" width="17.82" height="29" fill="#0ff8e7" stroke="none" stroke-width="0" />
<rect x="2988.18" y="236.6" width="17.82" height="1.98" fill="#26ffd1" stroke="none" stroke-width="0" />
<rect x="3005.4" y="125.9" width="30.99" height="27.6" fill="#00dcfe" stroke="none" stroke-width="0" />
<rect x="3005.4" y="152.9" width="30.99" height="28.4" fill="#00e4f8" stroke="none" stroke-width="0" />
<rect x="3005.4" y="180.7" width="30.99" height="28.1" fill="#09f0ee" stroke="none" stroke-width="0" />
<rect x="3005.4" y="208.2" width="30.99" height="29" fill="#0ff8e7" stroke="none" stroke-width="0" />
<rect x="3005.4" y="236.6" width="30.99" height="12.62" fill="#23ffd4" stroke="none" stroke-width="0" />
<rect x="3035.8" y="125.9" width="23.9" height="27.6" fill="#00dcfe" stroke="none" stroke-width="0" />
<rect x="3035.8" y="152.9" width="23.9" height="28.4" fill="#00e4f8" stroke="none" stroke-width="0" />
<rect x="3035.8" y="180.7" width="23.9" height="28.1" fill="#0cf4eb" stroke="none" stroke-width="0" />
<rect x="3035.8" y="208.2" width="23.9" height="29" fill="#0ff8e7" stroke="none" stroke-width="0" />
<rect x="3035.8" y="236.6" width="23.9" height="8.06" fill="#1fffd7" stroke="none" stroke-width="0" />
<rect x="3059.1" y="125.9" width="3.64" height="27.6" fill="#00dcfe" stroke="none" stroke-width="0" />
<rect x="3059.1" y="152.9" width="3.64" height="28.4" fill="#00e4f8" stroke="none" stroke-width="0" />
<rect x="3059.1" y="180.7" width="3.64" height="28.1" fill="#06ecf1" stroke="none" stroke-width="0" />
<rect x="3059.1" y="208.2" width="3.64" height="29" fill="#0cf4eb" stroke="none" stroke-width="0" />
<rect x="3059.1" y="236.6" width="3.64" height="2.99" fill="#1cffdb" stroke="none" stroke-width="0" />
<rect x="3062.14" y="125.9" width="18.84" height="27.6" fill="#00dcfe" stroke="none" stroke-width="0" />
<rect x="3062.14" y="152.9" width="18.84" height="28.4" fill="#00e4f8" stroke="none" stroke-width="0" />
<rect x="3062.14" y="180.7" width="18.84" height="28.1" fill="#09f0ee" stroke="none" stroke-width="0" />
<rect x="3062.14" y="208.2" width="18.84" height="25.32" fill="#0ff8e7" stroke="none" stroke-width="0" />
<rect x="3080.37" y="125.9" width="16.81" height="27.6" fill="#00dcfe" stroke="none" stroke-width="0" />
<rect x="3080.37" y="152.9" width="16.81" height="28.4" fill="#00e4f8" stroke="none" stroke-width="0" />
<rect x="3080.37" y="180.7" width="16.81" height="28.1" fill="#06ecf1" stroke="none" stroke-width="0" />
<rect x="3080.37" y="208.2" width="16.81" height="20.76" fill="#0cf4eb" stroke="none" stroke-width="0" />
<rect x="3096.58" y="125.9" width="13.77" height="27.6" fill="#00e0fb" stroke="none" stroke-width="0" />
<rect x="3096.58" y="152.9" width="13.77" height="28.4" fill="#00e4f8" stroke="none" stroke-width="0" />
<rect x="3096.58" y="180.7" width="13.77" height="28.1" fill="#0cf4eb" stroke="none" stroke-width="0" />
<rect x="3096.58" y="208.2" width="13.77" height="24.3" fill="#0ff8e7" stroke="none" stroke-width="0" />
<rect x="3109.75" y="125.9" width="6.68" height="27.6" fill="#06ecf1" stroke="none" stroke-width="0" />
<rect x="3109.75" y="152.9" width="6.68" height="17.3" fill="#0cf4eb" stroke="none" stroke-width="0" />
<rect x="3123.43" y="125.9" width="17.82" height="27.6" fill="#30ffc7" stroke="none" stroke-width="0" />
<rect x="3123.43" y="152.9" width="17.82" height="28.4" fill="#33ffc4" stroke="none" stroke-width="0" />
<rect x="3123.43" y="180.7" width="17.82" height="28.1" fill="#46ffb1" stroke="none" stroke-width="0" />
<rect x="3123.43" y="208.2" width="17.82" height="29" fill="#5dff9a" stroke="none" stroke-width="0" />
<rect x="3123.43" y="236.6" width="17.82" height="19.7" fill="#66ff90" stroke="none" stroke-width="0" />
<rect x="3123.43" y="255.7" width="17.82" height="19.8" fill="#6dff8a" stroke="none" stroke-width="0" />
<rect x="3123.43" y="274.9" width="17.82" height="19.7" fill="#73ff83" stroke="none" stroke-width="0" />
<rect x="3123.43" y="294" width="17.82" height="9.42" fill="#77ff80" stroke="none" stroke-width="0" />
<rect x="3140.65" y="125.9" width="22.38" height="27.6" fill="#2cffca" stroke="none" stroke-width="0" />
<rect x="3140.65" y="152.9" width="22.38" height="28.4" fill="#30ffc7" stroke="none" stroke-width="0" />
<rect x="3140.65" y="180.7" width="22.38" height="28.1" fill="#43ffb4" stroke="none" stroke-width="0" />
<rect x="3140.65" y="208.2" width="22.38" height="29" fill="#5aff9d" stroke="none" stroke-width="0" />
<rect x="3140.65" y="236.6" width="22.38" height="19.7" fill="#63ff94" stroke="none" stroke-width="0" />
<rect x="3140.65" y="255.7" width="22.38" height="19.8" fill="#6aff8d" stroke="none" stroke-width="0" />
<rect x="3140.65" y="274.9" width="22.38" height="19.7" fill="#70ff87" stroke="none" stroke-width="0" />
<rect x="3140.65" y="294" width="22.38" height="19.8" fill="#77ff80" stroke="none" stroke-width="0" />
<rect x="3140.65" y="313.2" width="22.38" height="7.95" fill="#7dff7a" stroke="none" stroke-width="0" />
<rect x="3162.43" y="125.9" width="14.28" height="27.6" fill="#2cffca" stroke="none" stroke-width="0" />
<rect x="3162.43" y="152.9" width="14.28" height="28.4" fill="#30ffc7" stroke="none" stroke-width="0" />
<rect x="3162.43" y="180.7" width="14.28" height="28.1" fill="#43ffb4" stroke="none" stroke-width="0" />
<rect x="3162.43" y="208.2" width="14.28" height="29" fill="#56ffa0" stroke="none" stroke-width="0" />
<rect x="3162.43" y="236.6" width="14.28" height="19.7" fill="#63ff94" stroke="none" stroke-width="0" />
<rect x="3162.43" y="255.7" width="14.28" height="19.8" fill="#6aff8d" stroke="none" stroke-width="0" />
<rect x="3162.43" y="274.9" width="14.28" height="19.7" fill="#73ff83" stroke="none" stroke-width="0" />
<rect x="3162.43" y="294" width="14.28" height="19.8" fill="#77ff80" stroke="none" stroke-width="0" />
<rect x="3162.43" y="313.2" width="14.28" height="34.29" fill="#7dff7a" stroke="none" stroke-width="0" />
<rect x="3176.11" y="125.9" width="9.72" height="27.6" fill="#30ffc7" stroke="none" stroke-width="0" />
<rect x="3176.11" y="152.9" width="9.72" height="28.4" fill="#33ffc4" stroke="none" stroke-width="0" />
<rect x="3176.11" y="180.7" width="9.72" height="28.1" fill="#49ffad" stroke="none" stroke-width="0" />
<rect x="3176.11" y="208.2" width="9.72" height="29" fill="#5dff9a" stroke="none" stroke-width="0" />
<rect x="3176.11" y="236.6" width="9.72" height="19.7" fill="#6aff8d" stroke="none" stroke-width="0" />
<rect x="3176.11" y="255.7" width="9.72" height="19.8" fill="#73ff83" stroke="none" stroke-width="0" />
<rect x="3176.11" y="274.9" width="9.72" height="19.7" fill="#7aff7d" stroke="none" stroke-width="0" />
<rect x="3176.11" y="294" width="9.72" height="19.8" fill="#7dff7a" stroke="none" stroke-width="0" />
<rect x="3176.11" y="313.2" width="9.72" height="27.7" fill="#83ff73" stroke="none" stroke-width="0" />
<rect x="3185.23" y="125.9" width="25.93" height="27.6" fill="#2cffca" stroke="none" stroke-width="0" />
<rect x="3185.23" y="152.9" width="25.93" height="28.4" fill="#30ffc7" stroke="none" stroke-width="0" />
<rect x="3185.23" y="180.7" width="25.93" height="28.1" fill="#43ffb4" stroke="none" stroke-width="0" />
<rect x="3185.23" y="208.2" width="25.93" height="29" fill="#5aff9d" stroke="none" stroke-width="0" />
<rect x="3185.23" y="236.6" width="25.93" height="19.7" fill="#63ff94" stroke="none" stroke-width="0" />
<rect x="3185.23" y="255.7" width="25.93" height="19.8" fill="#6dff8a" stroke="none" stroke-width="0" />
<rect x="3185.23" y="274.9" width="25.93" height="19.7" fill="#77ff80" stroke="none" stroke-width="0" />
<rect x="3185.23" y="294" width="25.93" height="19.8" fill="#7aff7d" stroke="none" stroke-width="0" />
<rect x="3185.23" y="313.2" width="25.93" height="50.5" fill="#80ff77" stroke="none" stroke-width="0" />
<rect x="3210.55" y="125.9" width="23.39" height="55.4" fill="#30ffc7" stroke="none" stroke-width="0" />
<rect x="3210.55" y="180.7" width="23.39" height="28.1" fill="#43ffb4" stroke="none" stroke-width="0" />
<rect x="3210.55" y="208.2" width="23.39" height="29" fill="#5aff9d" stroke="none" stroke-width="0" />
<rect x="3210.55" y="236.6" width="23.39" height="19.7" fill="#63ff94" stroke="none" stroke-width="0" />
<rect x="3210.55" y="255.7" width="23.39" height="19.8" fill="#70ff87" stroke="none" stroke-width="0" />
<rect x="3210.55" y="274.9" width="23.39" height="19.7" fill="#7aff7d" stroke="none" stroke-width="0" />
<rect x="3210.55" y="294" width="23.39" height="19.8" fill="#80ff77" stroke="none" stroke-width="0" />
<rect x="3210.55" y="313.2" width="23.39" height="38.9" fill="#87ff70" stroke="none" stroke-width="0" />
<rect x="3210.55" y="351.5" width="23.39" height="77.2" fill="#83ff73" stroke="none" stroke-width="0" />
<rect x="3210.55" y="428.1" width="23.39" height="0.44" fill="#80ff77" stroke="none" stroke-width="0" />
<rect x="3233.35" y="125.9" width="33.02" height="27.6" fill="#30ffc7" stroke="none" stroke-width="0" />
<rect x="3233.35" y="152.9" width="33.02" height="28.4" fill="#33ffc4" stroke="none" stroke-width="0" />
<rect x="3233.35" y="180.7" width="33.02" height="28.1" fill="#46ffb1" stroke="none" stroke-width="0" />
<rect x="3233.35" y="208.2" width="33.02" height="29" fill="#5dff9a" stroke="none" stroke-width="0" />
<rect x="3233.35" y="236.6" width="33.02" height="19.7" fill="#66ff90" stroke="none" stroke-width="0" />
<rect x="3233.35" y="255.7" width="33.02" height="19.8" fill="#77ff80" stroke="none" stroke-width="0" />
<rect x="3233.35" y="274.9" width="33.02" height="19.7" fill="#80ff77" stroke="none" stroke-width="0" />
<rect x="3233.35" y="294" width="33.02" height="19.8" fill="#83ff73" stroke="none" stroke-width="0" />
<rect x="3233.35" y="313.2" width="33.02" height="38.9" fill="#8aff6d" stroke="none" stroke-width="0" />
<rect x="3233.35" y="351.5" width="33.02" height="77.2" fill="#87ff70" stroke="none" stroke-width="0" />
<rect x="3233.35" y="428.1" width="33.02" height="38.9" fill="#83ff73" stroke="none" stroke-width="0" />
<rect x="3233.35" y="466.4" width="33.02" height="15.83" fill="#80ff77" stroke="none" stroke-width="0" />
<rect x="3265.77" y="125.9" width="23.9" height="55.4" fill="#30ffc7" stroke="none" stroke-width="0" />
<rect x="3265.77" y="180.7" width="23.9" height="28.1" fill="#43ffb4" stroke="none" stroke-width="0" />
<rect x="3265.77" y="208.2" width="23.9" height="29" fill="#5aff9d" stroke="none" stroke-width="0" />
<rect x="3265.77" y="236.6" width="23.9" height="19.7" fill="#66ff90" stroke="none" stroke-width="0" />
<rect x="3265.77" y="255.7" width="23.9" height="19.8" fill="#73ff83" stroke="none" stroke-width="0" />
<rect x="3265.77" y="274.9" width="23.9" height="19.7" fill="#7dff7a" stroke="none" stroke-width="0" />
<rect x="3265.77" y="294" width="23.9" height="19.8" fill="#83ff73" stroke="none" stroke-width="0" />
<rect x="3265.77" y="313.2" width="23.9" height="38.9" fill="#8aff6d" stroke="none" stroke-width="0" />
<rect x="3265.77" y="351.5" width="23.9" height="38.9" fill="#87ff70" stroke="none" stroke-width="0" />
<rect x="3265.77" y="389.8" width="23.9" height="22.02" fill="#83ff73" stroke="none" stroke-width="0" />
<rect x="3289.07" y="125.9" width="8.2" height="27.6" fill="#30ffc7" stroke="none" stroke-width="0" />
<rect x="3289.07" y="152.9" width="8.2" height="28.4" fill="#33ffc4" stroke="none" stroke-width="0" />
<rect x="3289.07" y="180.7" width="8.2" height="28.1" fill="#43ffb4" stroke="none" stroke-width="0" />
<rect x="3289.07" y="208.2" width="8.2" height="29" fill="#5dff9a" stroke="none" stroke-width="0" />
<rect x="3289.07" y="236.6" width="8.2" height="19.7" fill="#6aff8d" stroke="none" stroke-width="0" />
<rect x="3289.07" y="255.7" width="8.2" height="19.8" fill="#77ff80" stroke="none" stroke-width="0" />
<rect x="3289.07" y="274.9" width="8.2" height="19.7" fill="#80ff77" stroke="none" stroke-width="0" />
<rect x="3289.07" y="294" width="8.2" height="19.8" fill="#87ff70" stroke="none" stroke-width="0" />
<rect x="3289.07" y="313.2" width="8.2" height="38.9" fill="#8dff6a" stroke="none" stroke-width="0" />
<rect x="3289.07" y="351.5" width="8.2" height="38.9" fill="#8aff6d" stroke="none" stroke-width="0" />
<rect x="3289.07" y="389.8" width="8.2" height="29.11" fill="#87ff70" stroke="none" stroke-width="0" />
<rect x="3296.67" y="125.9" width="7.69" height="27.6" fill="#30ffc7" stroke="none" stroke-width="0" />
<rect x="3296.67" y="152.9" width="7.69" height="28.4" fill="#33ffc4" stroke="none" stroke-width="0" />
<rect x="3296.67" y="180.7" width="7.69" height="28.1" fill="#43ffb4" stroke="none" stroke-width="0" />
<rect x="3296.67" y="208.2" width="7.69" height="29" fill="#5dff9a" stroke="none" stroke-width="0" />
<rect x="3296.67" y="236.6" width="7.69" height="19.7" fill="#66ff90" stroke="none" stroke-width="0" />
<rect x="3296.67" y="255.7" width="7.69" height="19.8" fill="#77ff80" stroke="none" stroke-width="0" />
<rect x="3296.67" y="274.9" width="7.69" height="19.7" fill="#80ff77" stroke="none" stroke-width="0" />
<rect x="3296.67" y="294" width="7.69" height="19.8" fill="#83ff73" stroke="none" stroke-width="0" />
<rect x="3296.67" y="313.2" width="7.69" height="77.2" fill="#8aff6d" stroke="none" stroke-width="0" />
<rect x="3296.67" y="389.8" width="7.69" height="35.7" fill="#87ff70" stroke="none" stroke-width="0" />
<rect x="3303.76" y="125.9" width="46.99" height="55.4" fill="#30ffc7" stroke="none" stroke-width="0" />
<rect x="3303.76" y="180.7" width="46.99" height="28.1" fill="#40ffb7" stroke="none" stroke-width="0" />
<rect x="3303.76" y="208.2" width="46.99" height="29" fill="#5aff9d" stroke="none" stroke-width="0" />
<rect x="3303.76" y="236.6" width="46.99" height="19.7" fill="#63ff94" stroke="none" stroke-width="0" />
<rect x="3303.76" y="255.7" width="46.99" height="19.8" fill="#73ff83" stroke="none" stroke-width="0" />
<rect x="3303.76" y="274.9" width="46.99" height="19.7" fill="#7dff7a" stroke="none" stroke-width="0" />
<rect x="3303.76" y="294" width="46.99" height="19.8" fill="#80ff77" stroke="none" stroke-width="0" />
<rect x="3303.76" y="313.2" width="46.99" height="77.2" fill="#87ff70" stroke="none" stroke-width="0" />
<rect x="3303.76" y="389.8" width="46.99" height="24.05" fill="#83ff73" stroke="none" stroke-width="0" />
<rect x="3350.15" y="125.9" width="11.24" height="27.6" fill="#30ffc7" stroke="none" stroke-width="0" />
<rect x="3350.15" y="152.9" width="11.24" height="28.4" fill="#33ffc4" stroke="none" stroke-width="0" />
<rect x="3350.15" y="180.7" width="11.24" height="28.1" fill="#40ffb7" stroke="none" stroke-width="0" />
<rect x="3350.15" y="208.2" width="11.24" height="29" fill="#5aff9d" stroke="none" stroke-width="0" />
<rect x="3350.15" y="236.6" width="11.24" height="19.7" fill="#66ff90" stroke="none" stroke-width="0" />
<rect x="3350.15" y="255.7" width="11.24" height="19.8" fill="#73ff83" stroke="none" stroke-width="0" />
<rect x="3350.15" y="274.9" width="11.24" height="19.7" fill="#7dff7a" stroke="none" stroke-width="0" />
<rect x="3350.15" y="294" width="11.24" height="19.8" fill="#83ff73" stroke="none" stroke-width="0" />
<rect x="3350.15" y="313.2" width="11.24" height="38.9" fill="#8aff6d" stroke="none" stroke-width="0" />
<rect x="3350.15" y="351.5" width="11.24" height="38.9" fill="#87ff70" stroke="none" stroke-width="0" />
<rect x="3350.15" y="389.8" width="11.24" height="38.9" fill="#83ff73" stroke="none" stroke-width="0" />
<rect x="3350.15" y="428.1" width="11.24" height="16.14" fill="#80ff77" stroke="none" stroke-width="0" />
<rect x="3360.79" y="125.9" width="36.06" height="27.6" fill="#30ffc7" stroke="none" stroke-width="0" />
<rect x="3360.79" y="152.9" width="36.06" height="28.4" fill="#33ffc4" stroke="none" stroke-width="0" />
<rect x="3360.79" y="180.7" width="36.06" height="28.1" fill="#40ffb7" stroke="none" stroke-width="0" />
<rect x="3360.79" y="208.2" width="36.06" height="29" fill="#5dff9a" stroke="none" stroke-width="0" />
<rect x="3360.79" y="236.6" width="36.06" height="19.7" fill="#66ff90" stroke="none" stroke-width="0" />
<rect x="3360.79" y="255.7" width="36.06" height="19.8" fill="#73ff83" stroke="none" stroke-width="0" />
<rect x="3360.79" y="274.9" width="36.06" height="19.7" fill="#7dff7a" stroke="none" stroke-width="0" />
<rect x="3360.79" y="294" width="36.06" height="19.8" fill="#83ff73" stroke="none" stroke-width="0" />
<rect x="3360.79" y="313.2" width="36.06" height="38.9" fill="#8aff6d" stroke="none" stroke-width="0" />
<rect x="3360.79" y="351.5" width="36.06" height="38.9" fill="#87ff70" stroke="none" stroke-width="0" />
<rect x="3360.79" y="389.8" width="36.06" height="38.9" fill="#83ff73" stroke="none" stroke-width="0" />
<rect x="3360.79" y="428.1" width="36.06" height="10.57" fill="#80ff77" stroke="none" stroke-width="0" />
<rect x="3396.24" y="125.9" width="15.29" height="55.4" fill="#30ffc7" stroke="none" stroke-width="0" />
<rect x="3396.24" y="180.7" width="15.29" height="28.1" fill="#40ffb7" stroke="none" stroke-width="0" />
<rect x="3396.24" y="208.2" width="15.29" height="29" fill="#5aff9d" stroke="none" stroke-width="0" />
<rect x="3396.24" y="236.6" width="15.29" height="19.7" fill="#66ff90" stroke="none" stroke-width="0" />
<rect x="3396.24" y="255.7" width="15.29" height="19.8" fill="#73ff83" stroke="none" stroke-width="0" />
<rect x="3396.24" y="274.9" width="15.29" height="19.7" fill="#7dff7a" stroke="none" stroke-width="0" />
<rect x="3396.24" y="294" width="15.29" height="19.8" fill="#83ff73" stroke="none" stroke-width="0" />
<rect x="3396.24" y="313.2" width="15.29" height="38.9" fill="#8aff6d" stroke="none" stroke-width="0" />
<rect x="3396.24" y="351.5" width="15.29" height="38.9" fill="#87ff70" stroke="none" stroke-width="0" />
<rect x="3396.24" y="389.8" width="15.29" height="38.9" fill="#83ff73" stroke="none" stroke-width="0" />
<rect x="3396.24" y="428.1" width="15.29" height="40.96" fill="#80ff77" stroke="none" stroke-width="0" />
<rect x="3410.93" y="125.9" width="54.8" height="27.6" fill="#30ffc7" stroke="none" stroke-width="0" />
<rect x="3410.93" y="152.9" width="54.8" height="28.4" fill="#33ffc4" stroke="none" stroke-width="0" />
<rect x="3410.93" y="180.7" width="54.8" height="28.1" fill="#43ffb4" stroke="none" stroke-width="0" />
<rect x="3410.93" y="208.2" width="54.8" height="29" fill="#5dff9a" stroke="none" stroke-width="0" />
<rect x="3410.93" y="236.6" width="54.8" height="19.7" fill="#66ff90" stroke="none" stroke-width="0" />
<rect x="3410.93" y="255.7" width="54.8" height="19.8" fill="#73ff83" stroke="none" stroke-width="0" />
<rect x="3410.93" y="274.9" width="54.8" height="19.7" fill="#7dff7a" stroke="none" stroke-width="0" />
<rect x="3410.93" y="294" width="54.8" height="19.8" fill="#80ff77" stroke="none" stroke-width="0" />
<rect x="3410.93" y="313.2" width="54.8" height="77.2" fill="#87ff70" stroke="none" stroke-width="0" />
<rect x="3410.93" y="389.8" width="54.8" height="115.5" fill="#83ff73" stroke="none" stroke-width="0" />
<rect x="3410.93" y="504.7" width="54.8" height="32.24" fill="#80ff77" stroke="none" stroke-width="0" />
<rect x="3465.13" y="125.9" width="29.47" height="55.4" fill="#30ffc7" stroke="none" stroke-width="0" />
<rect x="3465.13" y="180.7" width="29.47" height="28.1" fill="#40ffb7" stroke="none" stroke-width="0" />
<rect x="3465.13" y="208.2" width="29.47" height="29" fill="#5aff9d" stroke="none" stroke-width="0" />
<rect x="3465.13" y="236.6" width="29.47" height="19.7" fill="#66ff90" stroke="none" stroke-width="0" />
<rect x="3465.13" y="255.7" width="29.47" height="19.8" fill="#6dff8a" stroke="none" stroke-width="0" />
<rect x="3465.13" y="274.9" width="29.47" height="19.7" fill="#77ff80" stroke="none" stroke-width="0" />
<rect x="3465.13" y="294" width="29.47" height="19.8" fill="#7aff7d" stroke="none" stroke-width="0" />
<rect x="3465.13" y="313.2" width="29.47" height="222.22" fill="#80ff77" stroke="none" stroke-width="0" />
<rect x="3494.01" y="125.9" width="22.38" height="27.6" fill="#30ffc7" stroke="none" stroke-width="0" />
<rect x="3494.01" y="152.9" width="22.38" height="28.4" fill="#33ffc4" stroke="none" stroke-width="0" />
<rect x="3494.01" y="180.7" width="22.38" height="28.1" fill="#43ffb4" stroke="none" stroke-width="0" />
<rect x="3494.01" y="208.2" width="22.38" height="29" fill="#5dff9a" stroke="none" stroke-width="0" />
<rect x="3494.01" y="236.6" width="22.38" height="19.7" fill="#6aff8d" stroke="none" stroke-width="0" />
<rect x="3494.01" y="255.7" width="22.38" height="19.8" fill="#70ff87" stroke="none" stroke-width="0" />
<rect x="3494.01" y="274.9" width="22.38" height="19.7" fill="#77ff80" stroke="none" stroke-width="0" />
<rect x="3494.01" y="294" width="22.38" height="19.8" fill="#7aff7d" stroke="none" stroke-width="0" />
<rect x="3494.01" y="313.2" width="22.38" height="192.1" fill="#83ff73" stroke="none" stroke-width="0" />
<rect x="3494.01" y="504.7" width="22.38" height="24.64" fill="#80ff77" stroke="none" stroke-width="0" />
<rect x="3515.79" y="125.9" width="49.73" height="27.6" fill="#30ffc7" stroke="none" stroke-width="0" />
<rect x="3515.79" y="152.9" width="49.73" height="28.4" fill="#33ffc4" stroke="none" stroke-width="0" />
<rect x="3515.79" y="180.7" width="49.73" height="28.1" fill="#43ffb4" stroke="none" stroke-width="0" />
<rect x="3515.79" y="208.2" width="49.73" height="29" fill="#5dff9a" stroke="none" stroke-width="0" />
<rect x="3515.79" y="236.6" width="49.73" height="19.7" fill="#66ff90" stroke="none" stroke-width="0" />
<rect x="3515.79" y="255.7" width="49.73" height="19.8" fill="#6dff8a" stroke="none" stroke-width="0" />
<rect x="3515.79" y="274.9" width="49.73" height="19.7" fill="#70ff87" stroke="none" stroke-width="0" />
<rect x="3515.79" y="294" width="49.73" height="19.8" fill="#77ff80" stroke="none" stroke-width="0" />
<rect x="3515.79" y="313.2" width="49.73" height="179.16" fill="#7dff7a" stroke="none" stroke-width="0" />
<rect x="3564.92" y="125.9" width="52.27" height="27.6" fill="#30ffc7" stroke="none" stroke-width="0" />
<rect x="3564.92" y="152.9" width="52.27" height="28.4" fill="#33ffc4" stroke="none" stroke-width="0" />
<rect x="3564.92" y="180.7" width="52.27" height="28.1" fill="#43ffb4" stroke="none" stroke-width="0" />
<rect x="3564.92" y="208.2" width="52.27" height="29" fill="#5dff9a" stroke="none" stroke-width="0" />
<rect x="3564.92" y="236.6" width="52.27" height="19.7" fill="#66ff90" stroke="none" stroke-width="0" />
<rect x="3564.92" y="255.7" width="52.27" height="19.8" fill="#6aff8d" stroke="none" stroke-width="0" />
<rect x="3564.92" y="274.9" width="52.27" height="19.7" fill="#6dff8a" stroke="none" stroke-width="0" />
<rect x="3564.92" y="294" width="52.27" height="19.8" fill="#70ff87" stroke="none" stroke-width="0" />
<rect x="3564.92" y="313.2" width="52.27" height="77.2" fill="#7aff7d" stroke="none" stroke-width="0" />
<rect x="3564.92" y="389.8" width="52.27" height="110.66" fill="#77ff80" stroke="none" stroke-width="0" />
<rect x="3616.59" y="125.9" width="33.02" height="55.4" fill="#30ffc7" stroke="none" stroke-width="0" />
<rect x="3616.59" y="180.7" width="33.02" height="28.1" fill="#40ffb7" stroke="none" stroke-width="0" />
<rect x="3616.59" y="208.2" width="33.02" height="29" fill="#5aff9d" stroke="none" stroke-width="0" />
<rect x="3616.59" y="236.6" width="33.02" height="58" fill="#66ff90" stroke="none" stroke-width="0" />
<rect x="3616.59" y="294" width="33.02" height="19.8" fill="#6dff8a" stroke="none" stroke-width="0" />
<rect x="3616.59" y="313.2" width="33.02" height="38.9" fill="#77ff80" stroke="none" stroke-width="0" />
<rect x="3616.59" y="351.5" width="33.02" height="167.71" fill="#73ff83" stroke="none" stroke-width="0" />
<rect x="3649.01" y="125.9" width="13.77" height="55.4" fill="#30ffc7" stroke="none" stroke-width="0" />
<rect x="3649.01" y="180.7" width="13.77" height="28.1" fill="#40ffb7" stroke="none" stroke-width="0" />
<rect x="3649.01" y="208.2" width="13.77" height="29" fill="#5aff9d" stroke="none" stroke-width="0" />
<rect x="3649.01" y="236.6" width="13.77" height="58" fill="#66ff90" stroke="none" stroke-width="0" />
<rect x="3649.01" y="294" width="13.77" height="19.8" fill="#6dff8a" stroke="none" stroke-width="0" />
<rect x="3649.01" y="313.2" width="13.77" height="278.95" fill="#73ff83" stroke="none" stroke-width="0" />
<rect x="3662.18" y="125.9" width="48.22" height="27.6" fill="#2cffca" stroke="none" stroke-width="0" />
<rect x="3662.18" y="152.9" width="48.22" height="28.4" fill="#30ffc7" stroke="none" stroke-width="0" />
<rect x="3662.18" y="180.7" width="48.22" height="28.1" fill="#3cffba" stroke="none" stroke-width="0" />
<rect x="3662.18" y="208.2" width="48.22" height="29" fill="#5aff9d" stroke="none" stroke-width="0" />
<rect x="3662.18" y="236.6" width="48.22" height="38.9" fill="#63ff94" stroke="none" stroke-width="0" />
<rect x="3662.18" y="274.9" width="48.22" height="19.7" fill="#66ff90" stroke="none" stroke-width="0" />
<rect x="3662.18" y="294" width="48.22" height="19.8" fill="#6dff8a" stroke="none" stroke-width="0" />
<rect x="3662.18" y="313.2" width="48.22" height="77.2" fill="#73ff83" stroke="none" stroke-width="0" />
<rect x="3662.18" y="389.8" width="48.22" height="226.66" fill="#70ff87" stroke="none" stroke-width="0" />
<rect x="3709.79" y="125.9" width="26.94" height="55.4" fill="#30ffc7" stroke="none" stroke-width="0" />
<rect x="3709.79" y="180.7" width="26.94" height="28.1" fill="#40ffb7" stroke="none" stroke-width="0" />
<rect x="3709.79" y="208.2" width="26.94" height="29" fill="#5aff9d" stroke="none" stroke-width="0" />
<rect x="3709.79" y="236.6" width="26.94" height="58" fill="#66ff90" stroke="none" stroke-width="0" />
<rect x="3709.79" y="294" width="26.94" height="19.8" fill="#6dff8a" stroke="none" stroke-width="0" />
<rect x="3709.79" y="313.2" width="26.94" height="272.87" fill="#73ff83" stroke="none" stroke-width="0" />
<rect x="3736.13" y="125.9" width="27.45" height="27.6" fill="#2cffca" stroke="none" stroke-width="0" />
<rect x="3736.13" y="152.9" width="27.45" height="28.4" fill="#30ffc7" stroke="none" stroke-width="0" />
<rect x="3736.13" y="180.7" width="27.45" height="28.1" fill="#3cffba" stroke="none" stroke-width="0" />
<rect x="3736.13" y="208.2" width="27.45" height="29" fill="#5aff9d" stroke="none" stroke-width="0" />
<rect x="3736.13" y="236.6" width="27.45" height="38.9" fill="#63ff94" stroke="none" stroke-width="0" />
<rect x="3736.13" y="274.9" width="27.45" height="19.7" fill="#66ff90" stroke="none" stroke-width="0" />
<rect x="3736.13" y="294" width="27.45" height="19.8" fill="#6aff8d" stroke="none" stroke-width="0" />
<rect x="3736.13" y="313.2" width="27.45" height="281.99" fill="#70ff87" stroke="none" stroke-width="0" />
<rect x="3762.98" y="125.9" width="47.2" height="27.6" fill="#30ffc7" stroke="none" stroke-width="0" />
<rect x="3762.98" y="152.9" width="47.2" height="28.4" fill="#33ffc4" stroke="none" stroke-width="0" />
<rect x="3762.98" y="180.7" width="47.2" height="28.1" fill="#43ffb4" stroke="none" stroke-width="0" />
<rect x="3762.98" y="208.2" width="47.2" height="29" fill="#5dff9a" stroke="none" stroke-width="0" />
<rect x="3762.98" y="236.6" width="47.2" height="38.9" fill="#66ff90" stroke="none" stroke-width="0" />
<rect x="3762.98" y="274.9" width="47.2" height="19.7" fill="#6aff8d" stroke="none" stroke-width="0" />
<rect x="3762.98" y="294" width="47.2" height="19.8" fill="#70ff87" stroke="none" stroke-width="0" />
<rect x="3762.98" y="313.2" width="47.2" height="38.9" fill="#77ff80" stroke="none" stroke-width="0" />
<rect x="3762.98" y="351.5" width="47.2" height="192.53" fill="#73ff83" stroke="none" stroke-width="0" />
<rect x="3809.58" y="125.9" width="12.76" height="27.6" fill="#30ffc7" stroke="none" stroke-width="0" />
<rect x="3809.58" y="152.9" width="12.76" height="28.4" fill="#33ffc4" stroke="none" stroke-width="0" />
<rect x="3809.58" y="180.7" width="12.76" height="28.1" fill="#43ffb4" stroke="none" stroke-width="0" />
<rect x="3809.58" y="208.2" width="12.76" height="29" fill="#5dff9a" stroke="none" stroke-width="0" />
<rect x="3809.58" y="236.6" width="12.76" height="38.9" fill="#66ff90" stroke="none" stroke-width="0" />
<rect x="3809.58" y="274.9" width="12.76" height="19.7" fill="#6aff8d" stroke="none" stroke-width="0" />
<rect x="3809.58" y="294" width="12.76" height="19.8" fill="#70ff87" stroke="none" stroke-width="0" />
<rect x="3809.58" y="313.2" width="12.76" height="258.18" fill="#73ff83" stroke="none" stroke-width="0" />
<rect x="3821.74" y="125.9" width="33.53" height="27.6" fill="#2cffca" stroke="none" stroke-width="0" />
<rect x="3821.74" y="152.9" width="33.53" height="28.4" fill="#30ffc7" stroke="none" stroke-width="0" />
<rect x="3821.74" y="180.7" width="33.53" height="28.1" fill="#3cffba" stroke="none" stroke-width="0" />
<rect x="3821.74" y="208.2" width="33.53" height="29" fill="#5aff9d" stroke="none" stroke-width="0" />
<rect x="3821.74" y="236.6" width="33.53" height="38.9" fill="#63ff94" stroke="none" stroke-width="0" />
<rect x="3821.74" y="274.9" width="33.53" height="19.7" fill="#66ff90" stroke="none" stroke-width="0" />
<rect x="3821.74" y="294" width="33.53" height="19.8" fill="#6aff8d" stroke="none" stroke-width="0" />
<rect x="3821.74" y="313.2" width="33.53" height="239.94" fill="#70ff87" stroke="none" stroke-width="0" />
<rect x="3854.66" y="125.9" width="22.89" height="27.6" fill="#2cffca" stroke="none" stroke-width="0" />
<rect x="3854.66" y="152.9" width="22.89" height="28.4" fill="#30ffc7" stroke="none" stroke-width="0" />
<rect x="3854.66" y="180.7" width="22.89" height="28.1" fill="#3cffba" stroke="none" stroke-width="0" />
<rect x="3854.66" y="208.2" width="22.89" height="29" fill="#56ffa0" stroke="none" stroke-width="0" />
<rect x="3854.66" y="236.6" width="22.89" height="58" fill="#63ff94" stroke="none" stroke-width="0" />
<rect x="3854.66" y="294" width="22.89" height="19.8" fill="#6aff8d" stroke="none" stroke-width="0" />
<rect x="3854.66" y="313.2" width="22.89" height="38.9" fill="#70ff87" stroke="none" stroke-width="0" />
<rect x="3854.66" y="351.5" width="22.89" height="174.8" fill="#6dff8a" stroke="none" stroke-width="0" />
<rect x="3876.95" y="125.9" width="11.74" height="27.6" fill="#2cffca" stroke="none" stroke-width="0" />
<rect x="3876.95" y="152.9" width="11.74" height="28.4" fill="#30ffc7" stroke="none" stroke-width="0" />
<rect x="3876.95" y="180.7" width="11.74" height="28.1" fill="#3cffba" stroke="none" stroke-width="0" />
<rect x="3876.95" y="208.2" width="11.74" height="29" fill="#5aff9d" stroke="none" stroke-width="0" />
<rect x="3876.95" y="236.6" width="11.74" height="38.9" fill="#63ff94" stroke="none" stroke-width="0" />
<rect x="3876.95" y="274.9" width="11.74" height="19.7" fill="#66ff90" stroke="none" stroke-width="0" />
<rect x="3876.95" y="294" width="11.74" height="19.8" fill="#6aff8d" stroke="none" stroke-width="0" />
<rect x="3876.95" y="313.2" width="11.74" height="184.23" fill="#70ff87" stroke="none" stroke-width="0" />
<rect x="3888.1" y="125.9" width="35.04" height="27.6" fill="#2cffca" stroke="none" stroke-width="0" />
<rect x="3888.1" y="152.9" width="35.04" height="28.4" fill="#30ffc7" stroke="none" stroke-width="0" />
<rect x="3888.1" y="180.7" width="35.04" height="28.1" fill="#3cffba" stroke="none" stroke-width="0" />
<rect x="3888.1" y="208.2" width="35.04" height="29" fill="#5aff9d" stroke="none" stroke-width="0" />
<rect x="3888.1" y="236.6" width="35.04" height="38.9" fill="#63ff94" stroke="none" stroke-width="0" />
<rect x="3888.1" y="274.9" width="35.04" height="19.7" fill="#66ff90" stroke="none" stroke-width="0" />
<rect x="3888.1" y="294" width="35.04" height="19.8" fill="#6aff8d" stroke="none" stroke-width="0" />
<rect x="3888.1" y="313.2" width="35.04" height="191.82" fill="#70ff87" stroke="none" stroke-width="0" />
<rect x="3922.54" y="125.9" width="19.99" height="27.6" fill="#30ffc7" stroke="none" stroke-width="0" />
<rect x="3922.54" y="152.9" width="19.99" height="28.4" fill="#33ffc4" stroke="none" stroke-width="0" />
<rect x="3922.54" y="180.7" width="19.99" height="28.1" fill="#43ffb4" stroke="none" stroke-width="0" />
<rect x="3922.54" y="208.2" width="19.99" height="29" fill="#5dff9a" stroke="none" stroke-width="0" />
<rect x="3922.54" y="236.6" width="19.99" height="38.9" fill="#66ff90" stroke="none" stroke-width="0" />
<rect x="3922.54" y="274.9" width="19.99" height="19.7" fill="#6aff8d" stroke="none" stroke-width="0" />
<rect x="3922.54" y="294" width="19.99" height="19.8" fill="#6dff8a" stroke="none" stroke-width="0" />
<rect x="3922.54" y="313.2" width="19.99" height="71.27" fill="#73ff83" stroke="none" stroke-width="0" />
</g>
<rect x="206.3" y="121.5" width="3737" height="869.8" fill="none" stroke="#000" stroke-width="3.33" />
<line x1="256.1" y1="121.5" x2="256.1" y2="991.3" stroke="#fff" stroke-opacity="0.9" stroke-width="4.17" stroke-dasharray="15.42 6.67" stroke-dashoffset="7.29"/>
<line x1="711.7" y1="121.5" x2="711.7" y2="991.3" stroke="#fff" stroke-opacity="0.9" stroke-width="4.17" stroke-dasharray="15.42 6.67" stroke-dashoffset="7.29"/>
<line x1="1091.7" y1="121.5" x2="1091.7" y2="991.3" stroke="#fff" stroke-opacity="0.9" stroke-width="4.17" stroke-dasharray="15.42 6.67" stroke-dashoffset="7.29"/>
<line x1="1428.9" y1="121.5" x2="1428.9" y2="991.3" stroke="#fff" stroke-opacity="0.9" stroke-width="4.17" stroke-dasharray="15.42 6.67" stroke-dashoffset="7.29"/>
<line x1="1850.8" y1="121.5" x2="1850.8" y2="991.3" stroke="#fff" stroke-opacity="0.9" stroke-width="4.17" stroke-dasharray="15.42 6.67" stroke-dashoffset="7.29"/>
<line x1="2400.1" y1="121.5" x2="2400.1" y2="991.3" stroke="#fff" stroke-opacity="0.9" stroke-width="4.17" stroke-dasharray="15.42 6.67" stroke-dashoffset="7.29"/>
<line x1="2864.1" y1="121.5" x2="2864.1" y2="991.3" stroke="#fff" stroke-opacity="0.9" stroke-width="4.17" stroke-dasharray="15.42 6.67" stroke-dashoffset="7.29"/>
<line x1="2982.2" y1="121.5" x2="2982.2" y2="991.3" stroke="#fff" stroke-opacity="0.9" stroke-width="4.17" stroke-dasharray="15.42 6.67" stroke-dashoffset="7.29"/>
<line x1="3244" y1="121.5" x2="3244" y2="991.3" stroke="#fff" stroke-opacity="0.9" stroke-width="4.17" stroke-dasharray="15.42 6.67" stroke-dashoffset="7.29"/>
<line x1="3919.5" y1="121.5" x2="3919.5" y2="991.3" stroke="#fff" stroke-opacity="0.9" stroke-width="4.17" stroke-dasharray="15.42 6.67" stroke-dashoffset="7.29"/>
<line x1="206.3" y1="991.3" x2="206.3" y2="1006.7" stroke="#000" stroke-width="3.33" />
<text x="206.3" y="1052.3" font-size="41.67" text-anchor="middle" fill="#000" >0</text>
<line x1="628.22" y1="991.3" x2="628.22" y2="1006.7" stroke="#000" stroke-width="3.33" />
<text x="628.22" y="1052.3" font-size="41.67" text-anchor="middle" fill="#000" >5000</text>
<line x1="1050.13" y1="991.3" x2="1050.13" y2="1006.7" stroke="#000" stroke-width="3.33" />
<text x="1050.13" y="1052.3" font-size="41.67" text-anchor="middle" fill="#000" >10000</text>
<line x1="1472.04" y1="991.3" x2="1472.04" y2="1006.7" stroke="#000" stroke-width="3.33" />
<text x="1472.04" y="1052.3" font-size="41.67" text-anchor="middle" fill="#000" >15000</text>
<line x1="1893.96" y1="991.3" x2="1893.96" y2="1006.7" stroke="#000" stroke-width="3.33" />
<text x="1893.96" y="1052.3" font-size="41.67" text-anchor="middle" fill="#000" >20000</text>
<line x1="2315.88" y1="991.3" x2="2315.88" y2="1006.7" stroke="#000" stroke-width="3.33" />
<text x="2315.88" y="1052.3" font-size="41.67" text-anchor="middle" fill="#000" >25000</text>
<line x1="2737.79" y1="991.3" x2="2737.79" y2="1006.7" stroke="#000" stroke-width="3.33" />
<text x="2737.79" y="1052.3" font-size="41.67" text-anchor="middle" fill="#000" >30000</text>
<line x1="3159.71" y1="991.3" x2="3159.71" y2="1006.7" stroke="#000" stroke-width="3.33" />
<text x="3159.71" y="1052.3" font-size="41.67" text-anchor="middle" fill="#000" >35000</text>
<line x1="3581.62" y1="991.3" x2="3581.62" y2="1006.7" stroke="#000" stroke-width="3.33" />
<text x="3581.62" y="1052.3" font-size="41.67" text-anchor="middle" fill="#000" >40000</text>
<line x1="190.9" y1="123.4" x2="206.3" y2="123.4" stroke="#000" stroke-width="3.33" />
<text x="176.73" y="139.3" font-size="41.67" text-anchor="end" fill="#000" >0</text>
<line x1="190.9" y1="314.9" x2="206.3" y2="314.9" stroke="#000" stroke-width="3.33" />
<text x="176.73" y="330.8" font-size="41.67" text-anchor="end" fill="#000" >−5</text>
<line x1="190.9" y1="506.4" x2="206.3" y2="506.4" stroke="#000" stroke-width="3.33" />
<text x="176.73" y="522.3" font-size="41.67" text-anchor="end" fill="#000" >−10</text>
<line x1="190.9" y1="697.9" x2="206.3" y2="697.9" stroke="#000" stroke-width="3.33" />
<text x="176.73" y="713.8" font-size="41.67" text-anchor="end" fill="#000" >−15</text>
<line x1="190.9" y1="889.4" x2="206.3" y2="889.4" stroke="#000" stroke-width="3.33" />
<text x="176.73" y="905.3" font-size="41.67" text-anchor="end" fill="#000" >−20</text>
<text x="2074.8" y="1112.5" font-size="41.67" text-anchor="middle" fill="#000" >Chainage (m)</text>
<text x="61" y="557.5" font-size="41.67" text-anchor="middle" fill="#000" transform="rotate(-90 61 557.5)" >Depth (m)</text>
<path d="M243.5 108.1 L268.5 108.9 L256.1 133.3 Z" fill="#fff" stroke="#000" stroke-width="4.17" stroke-linejoin="miter" stroke-miterlimit="10"/>
<text x="267.6" y="164" font-size="33.33" text-anchor="start" font-weight="bold" fill="#000" >MR</text>
<path d="M699.1 108.1 L724.1 108.9 L711.7 133.3 Z" fill="#fff" stroke="#000" stroke-width="4.17" stroke-linejoin="miter" stroke-miterlimit="10"/>
<text x="722.3" y="164" font-size="33.33" text-anchor="start" font-weight="bold" fill="#000" >OA9S</text>
<path d="M1079.1 108.1 L1104.1 108.9 L1091.7 133.3 Z" fill="#fff" stroke="#000" stroke-width="4.17" stroke-linejoin="miter" stroke-miterlimit="10"/>
<text x="1102.3" y="164" font-size="33.33" text-anchor="start" font-weight="bold" fill="#000" >OA1-DEP</text>
<path d="M1416.3 108.1 L1441.3 108.9 L1428.9 133.3 Z" fill="#fff" stroke="#000" stroke-width="4.17" stroke-linejoin="miter" stroke-miterlimit="10"/>
<text x="1440.6" y="164" font-size="33.33" text-anchor="start" font-weight="bold" fill="#000" >6147030</text>
<path d="M1838.2 108.1 L1863.2 108.9 L1850.8 133.3 Z" fill="#fff" stroke="#000" stroke-width="4.17" stroke-linejoin="miter" stroke-miterlimit="10"/>
<text x="1861.4" y="164" font-size="33.33" text-anchor="start" font-weight="bold" fill="#000" >6142974</text>
<path d="M2387.5 108.1 L2412.5 108.9 L2400.1 133.3 Z" fill="#fff" stroke="#000" stroke-width="4.17" stroke-linejoin="miter" stroke-miterlimit="10"/>
<text x="2410.3" y="164" font-size="33.33" text-anchor="start" font-weight="bold" fill="#000" >LP</text>
<path d="M2851.5 108.1 L2876.5 108.9 L2864.1 133.3 Z" fill="#fff" stroke="#000" stroke-width="4.17" stroke-linejoin="miter" stroke-miterlimit="10"/>
<text x="2874.3" y="164" font-size="33.33" text-anchor="start" font-weight="bold" fill="#000" >SF11</text>
<path d="M2969.6 108.1 L2994.6 108.9 L2982.2 133.3 Z" fill="#fff" stroke="#000" stroke-width="4.17" stroke-linejoin="miter" stroke-miterlimit="10"/>
<text x="2992.8" y="164" font-size="33.33" text-anchor="start" font-weight="bold" fill="#000" >6142983</text>
<path d="M3231.4 108.1 L3256.4 108.9 L3244 133.3 Z" fill="#fff" stroke="#000" stroke-width="4.17" stroke-linejoin="miter" stroke-miterlimit="10"/>
<text x="3254.6" y="164" font-size="33.33" text-anchor="start" font-weight="bold" fill="#000" >SC</text>
<path d="M3906.9 108.1 L3931.9 108.9 L3919.5 133.3 Z" fill="#fff" stroke="#000" stroke-width="4.17" stroke-linejoin="miter" stroke-miterlimit="10"/>
<text x="3928.3" y="164" font-size="33.33" text-anchor="start" font-weight="bold" fill="#000" >SC2</text>
<text x="2074.8" y="88.2" font-size="45.83" text-anchor="middle" font-weight="bold" fill="#000" >Monthly Profiles: 2022-12 | Time: 2022-12-14 13:00</text>
<text x="301.8" y="67.9" font-size="50" text-anchor="middle" font-weight="bold" fill="#000" >N</text>
<text x="3851" y="67.9" font-size="50" text-anchor="middle" font-weight="bold" fill="#000" >S</text>
<text x="3886" y="945.6" font-size="41.67" text-anchor="end" font-weight="bold" fill="#000" >Seawater Density (kg/m³)</text>
<defs><linearGradient id="jetg" x1="0" y1="0" x2="0" y2="1"><stop offset="0" stop-color="#800000"/><stop offset="0.02" stop-color="#8d0000"/><stop offset="0.03" stop-color="#9f0000"/><stop offset="0.05" stop-color="#b20000"/><stop offset="0.06" stop-color="#c40000"/><stop offset="0.08" stop-color="#d60000"/><stop offset="0.09" stop-color="#e80000"/><stop offset="0.11" stop-color="#fa0f00"/><stop offset="0.12" stop-color="#ff1e00"/><stop offset="0.14" stop-color="#ff2d00"/><stop offset="0.16" stop-color="#ff3b00"/><stop offset="0.17" stop-color="#ff4a00"/><stop offset="0.19" stop-color="#ff5900"/><stop offset="0.2" stop-color="#ff6800"/><stop offset="0.22" stop-color="#ff7700"/><stop offset="0.23" stop-color="#ff8600"/><stop offset="0.25" stop-color="#ff9400"/><stop offset="0.27" stop-color="#ffa300"/><stop offset="0.28" stop-color="#ffb200"/><stop offset="0.3" stop-color="#ffc100"/><stop offset="0.31" stop-color="#ffd000"/><stop offset="0.33" stop-color="#ffde00"/><stop offset="0.34" stop-color="#feed00"/><stop offset="0.36" stop-color="#f1fc06"/><stop offset="0.38" stop-color="#e4ff13"/><stop offset="0.39" stop-color="#d7ff1f"/><stop offset="0.41" stop-color="#caff2c"/><stop offset="0.42" stop-color="#beff39"/><stop offset="0.44" stop-color="#b1ff46"/><stop offset="0.45" stop-color="#a4ff53"/><stop offset="0.47" stop-color="#97ff60"/><stop offset="0.48" stop-color="#8aff6d"/><stop offset="0.5" stop-color="#7dff7a"/><stop offset="0.52" stop-color="#70ff87"/><stop offset="0.53" stop-color="#63ff94"/><stop offset="0.55" stop-color="#56ffa0"/><stop offset="0.56" stop-color="#49ffad"/><stop offset="0.58" stop-color="#3cffba"/><stop offset="0.59" stop-color="#30ffc7"/><stop offset="0.61" stop-color="#23ffd4"/><stop offset="0.62" stop-color="#16ffe1"/><stop offset="0.64" stop-color="#09f0ee"/><stop offset="0.66" stop-color="#00e0fb"/><stop offset="0.67" stop-color="#00d0ff"/><stop offset="0.69" stop-color="#00c0ff"/><stop offset="0.7" stop-color="#00b0ff"/><stop offset="0.72" stop-color="#00a0ff"/><stop offset="0.73" stop-color="#0090ff"/><stop offset="0.75" stop-color="#0080ff"/><stop offset="0.77" stop-color="#0070ff"/><stop offset="0.78" stop-color="#0060ff"/><stop offset="0.8" stop-color="#0050ff"/><stop offset="0.81" stop-color="#0040ff"/><stop offset="0.83" stop-color="#0030ff"/><stop offset="0.84" stop-color="#0020ff"/><stop offset="0.86" stop-color="#0010ff"/><stop offset="0.88" stop-color="#0000ff"/><stop offset="0.89" stop-color="#0000ff"/><stop offset="0.91" stop-color="#0000ed"/><stop offset="0.92" stop-color="#0000da"/><stop offset="0.94" stop-color="#0000c8"/><stop offset="0.95" stop-color="#0000b6"/><stop offset="0.97" stop-color="#0000a4"/><stop offset="0.98" stop-color="#000092"/><stop offset="1" stop-color="#000080"/></linearGradient></defs>
<rect x="4003.2" y="191.8" width="131.6" height="808.2" fill="url(#jetg)" stroke="#000" stroke-width="3.33" />
<line x1="4134.8" y1="1000" x2="4150.2" y2="1000" stroke="#000" stroke-width="3.33" />
<text x="4162.27" y="1013.2" font-size="33.33" text-anchor="start" fill="#000" >1024.0</text>
<line x1="4134.8" y1="865.3" x2="4150.2" y2="865.3" stroke="#000" stroke-width="3.33" />
<text x="4162.27" y="878.5" font-size="33.33" text-anchor="start" fill="#000" >1024.5</text>
<line x1="4134.8" y1="730.6" x2="4150.2" y2="730.6" stroke="#000" stroke-width="3.33" />
<text x="4162.27" y="743.8" font-size="33.33" text-anchor="start" fill="#000" >1025.0</text>
<line x1="4134.8" y1="595.9" x2="4150.2" y2="595.9" stroke="#000" stroke-width="3.33" />
<text x="4162.27" y="609.1" font-size="33.33" text-anchor="start" fill="#000" >1025.5</text>
<line x1="4134.8" y1="461.2" x2="4150.2" y2="461.2" stroke="#000" stroke-width="3.33" />
<text x="4162.27" y="474.4" font-size="33.33" text-anchor="start" fill="#000" >1026.0</text>
<line x1="4134.8" y1="326.5" x2="4150.2" y2="326.5" stroke="#000" stroke-width="3.33" />
<text x="4162.27" y="339.7" font-size="33.33" text-anchor="start" fill="#000" >1026.5</text>
<line x1="4134.8" y1="191.8" x2="4150.2" y2="191.8" stroke="#000" stroke-width="3.33" />
<text x="4162.27" y="205" font-size="33.33" text-anchor="start" fill="#000" >1027.0</text>
<text x="0" y="0" font-size="37.5" text-anchor="middle" transform="translate(4331 597.2) rotate(-90)">Water Density (kg m<tspan font-size="26.25" dy="-14.2">−3</tspan><tspan dy="14.2">)</tspan></text>
<defs>
<marker id="mo" markerUnits="userSpaceOnUse" markerWidth="24" markerHeight="24" refX="12" refY="12" overflow="visible"><circle cx="12" cy="12" r="8.6" fill="#dc143c" fill-opacity="0.8"/><circle cx="12" cy="12" r="6.5" fill="#dc143c" fill-opacity="0.5"/></marker>
<marker id="ms" markerUnits="userSpaceOnUse" markerWidth="24" markerHeight="24" refX="12" refY="12" overflow="visible"><rect x="4" y="4" width="16" height="16" fill="#4682b4" fill-opacity="0.7"/><rect x="5.8" y="5.8" width="12.4" height="12.4" fill="#4682b4" fill-opacity="0.7"/></marker>
</defs>
<g>
<line x1="437.27" y1="1184.45" x2="437.27" y2="1909.45" stroke="#b0b0b0" stroke-width="3.33" stroke-opacity="0.3"/>
<line x1="667.93" y1="1184.45" x2="667.93" y2="1909.45" stroke="#b0b0b0" stroke-width="3.33" stroke-opacity="0.3"/>
<line x1="206.6" y1="1250.36" x2="898.6" y2="1250.36" stroke="#b0b0b0" stroke-width="3.33" stroke-opacity="0.3"/>
<line x1="206.6" y1="1316.27" x2="898.6" y2="1316.27" stroke="#b0b0b0" stroke-width="3.33" stroke-opacity="0.3"/>
<line x1="206.6" y1="1382.18" x2="898.6" y2="1382.18" stroke="#b0b0b0" stroke-width="3.33" stroke-opacity="0.3"/>
<line x1="206.6" y1="1448.09" x2="898.6" y2="1448.09" stroke="#b0b0b0" stroke-width="3.33" stroke-opacity="0.3"/>
<line x1="206.6" y1="1514" x2="898.6" y2="1514" stroke="#b0b0b0" stroke-width="3.33" stroke-opacity="0.3"/>
<line x1="206.6" y1="1579.9" x2="898.6" y2="1579.9" stroke="#b0b0b0" stroke-width="3.33" stroke-opacity="0.3"/>
<line x1="206.6" y1="1645.81" x2="898.6" y2="1645.81" stroke="#b0b0b0" stroke-width="3.33" stroke-opacity="0.3"/>
<line x1="206.6" y1="1711.72" x2="898.6" y2="1711.72" stroke="#b0b0b0" stroke-width="3.33" stroke-opacity="0.3"/>
<line x1="206.6" y1="1777.63" x2="898.6" y2="1777.63" stroke="#b0b0b0" stroke-width="3.33" stroke-opacity="0.3"/>
<line x1="206.6" y1="1843.54" x2="898.6" y2="1843.54" stroke="#b0b0b0" stroke-width="3.33" stroke-opacity="0.3"/>
<clipPath id="pc0"><rect x="206.6" y="1184.45" width="692" height="725"/></clipPath>
<polyline clip-path="url(#pc0)" points="379.72,1204.21 378.77,1207.76 380.41,1210.37 377.9,1213.01 376.05,1215.62 372.33,1217.12 372,1219.79 374.78,1218.66 377.06,1218.6 379.6,1218.05 384.45,1216.36 385.28,1216.09 390.78,1216.26 392.04,1216.93 394.69,1217.36 398.89,1218.26 401.5,1218.62 402.98,1220.18 401.46,1222.46 401.19,1225.7 400.8,1227.1 404.9,1227.94 405.83,1227.57 410.59,1228.11 414.34,1227.98 417.26,1228.39 418.72,1228.63 418.22,1231.39 415.24,1233.63 412.02,1235.78 412.21,1238.42 413.21,1240.39 417.21,1242.36 418.98,1243.95 421.9,1246.19 424.31,1247.95 426.61,1249.72 427.82,1252.54 432.65,1254.57 433.54,1256.23 436.25,1259.13 439.25,1260.85 440.15,1263.67 439.92,1267.52 440.76,1270.15 440.62,1273.37 442.88,1275.99 442.75,1279.99 443.33,1283.09 443.45,1286.05 443.13,1289.14 441.97,1292.78 443.3,1295.31 443.13,1298.8 442.75,1301.86 443.22,1305.33 443.41,1308.37 441.73,1311.32 441.4,1314.8 442.47,1318.13 442.85,1321.29 442.02,1324.47 443.69,1326.85 442.56,1329.93 444.59,1333.36 442.91,1336.93 443.52,1339.58 443.04,1343.24 443.06,1346.18 444.47,1349.56 443.41,1352.78 442.52,1355.89 443.45,1358.89 442.53,1362.8 443.25,1365.29 443.1,1369.08 441.27,1371.46 441.6,1375.36 441.63,1378.54 442.98,1381.58 441.79,1385.21 443.29,1387.96 441.8,1391.29 442.06,1394.41 441.67,1397.66 440.78,1400.52 442.95,1404.29 441.03,1407.47 440.62,1410.72 441.29,1413.36 440.7,1415.97 443.6,1418.94 443.3,1422.84 441.58,1425.07 441.29,1428.89 440.32,1431.54 439.3,1434.58 438.67,1438.1 439.09,1440.81 439.09,1444.11" fill="none" stroke="#dc143c" stroke-opacity="0.8" stroke-width="8.33" stroke-linejoin="round" marker-start="url(#mo)" marker-mid="url(#mo)" marker-end="url(#mo)"/>
<line clip-path="url(#pc0)" x1="466.1" y1="1909.45" x2="466.1" y2="1184.45" stroke="#808080" stroke-opacity="0.7" stroke-width="8.33" stroke-dasharray="30.83 13.33"/>
<polyline clip-path="url(#pc0)" points="322.97,1200.19 382.94,1223.94 455.8,1246.68 493.84,1271.03 507.92,1290.96 514.97,1307.06 520,1323.96 524.03,1340.26 527.04,1364.82 528.05,1397.82 528.86,1431.84" fill="none" stroke="#4682b4" stroke-opacity="0.7" stroke-width="8.33" stroke-linejoin="round" marker-start="url(#ms)" marker-mid="url(#ms)" marker-end="url(#ms)"/>
<rect x="206.6" y="1184.45" width="692" height="725" fill="none" stroke="#000" stroke-width="3.33" />
<line x1="206.6" y1="1909.45" x2="206.6" y2="1924.85" stroke="#000" stroke-width="3.33" />
<line x1="437.27" y1="1909.45" x2="437.27" y2="1924.85" stroke="#000" stroke-width="3.33" />
<line x1="667.93" y1="1909.45" x2="667.93" y2="1924.85" stroke="#000" stroke-width="3.33" />
<line x1="898.6" y1="1909.45" x2="898.6" y2="1924.85" stroke="#000" stroke-width="3.33" />
<line x1="191.2" y1="1184.45" x2="206.6" y2="1184.45" stroke="#000" stroke-width="3.33" />
<text x="177.03" y="1200.35" font-size="41.67" text-anchor="end" fill="#000" >0</text>
<line x1="191.2" y1="1250.36" x2="206.6" y2="1250.36" stroke="#000" stroke-width="3.33" />
<text x="177.03" y="1266.26" font-size="41.67" text-anchor="end" fill="#000" >−2</text>
<line x1="191.2" y1="1316.27" x2="206.6" y2="1316.27" stroke="#000" stroke-width="3.33" />
<text x="177.03" y="1332.17" font-size="41.67" text-anchor="end" fill="#000" >−4</text>
<line x1="191.2" y1="1382.18" x2="206.6" y2="1382.18" stroke="#000" stroke-width="3.33" />
<text x="177.03" y="1398.08" font-size="41.67" text-anchor="end" fill="#000" >−6</text>
<line x1="191.2" y1="1448.09" x2="206.6" y2="1448.09" stroke="#000" stroke-width="3.33" />
<text x="177.03" y="1463.99" font-size="41.67" text-anchor="end" fill="#000" >−8</text>
<line x1="191.2" y1="1514" x2="206.6" y2="1514" stroke="#000" stroke-width="3.33" />
<text x="177.03" y="1529.9" font-size="41.67" text-anchor="end" fill="#000" >−10</text>
<line x1="191.2" y1="1579.9" x2="206.6" y2="1579.9" stroke="#000" stroke-width="3.33" />
<text x="177.03" y="1595.8" font-size="41.67" text-anchor="end" fill="#000" >−12</text>
<line x1="191.2" y1="1645.81" x2="206.6" y2="1645.81" stroke="#000" stroke-width="3.33" />
<text x="177.03" y="1661.71" font-size="41.67" text-anchor="end" fill="#000" >−14</text>
<line x1="191.2" y1="1711.72" x2="206.6" y2="1711.72" stroke="#000" stroke-width="3.33" />
<text x="177.03" y="1727.62" font-size="41.67" text-anchor="end" fill="#000" >−16</text>
<line x1="191.2" y1="1777.63" x2="206.6" y2="1777.63" stroke="#000" stroke-width="3.33" />
<text x="177.03" y="1793.53" font-size="41.67" text-anchor="end" fill="#000" >−18</text>
<line x1="191.2" y1="1843.54" x2="206.6" y2="1843.54" stroke="#000" stroke-width="3.33" />
<text x="177.03" y="1859.44" font-size="41.67" text-anchor="end" fill="#000" >−20</text>
<line x1="191.2" y1="1909.45" x2="206.6" y2="1909.45" stroke="#000" stroke-width="3.33" />
<text x="177.03" y="1925.35" font-size="41.67" text-anchor="end" fill="#000" >−22</text>
<text x="552.6" y="1160.15" font-size="41.67" text-anchor="middle" font-weight="bold" fill="#000" >MR</text>
<text x="885.1" y="1888.65" font-size="29.17" text-anchor="end" fill="#6b6b6b" >Obs: 2022-12-21</text>
<text x="58" y="1546.95" font-size="37.5" text-anchor="middle" fill="#000" transform="rotate(-90 58 1546.95)" >Depth (m)</text>
</g>
<g>
<line x1="1198.27" y1="1184.45" x2="1198.27" y2="1909.45" stroke="#b0b0b0" stroke-width="3.33" stroke-opacity="0.3"/>
<line x1="1428.93" y1="1184.45" x2="1428.93" y2="1909.45" stroke="#b0b0b0" stroke-width="3.33" stroke-opacity="0.3"/>
<line x1="967.6" y1="1250.36" x2="1659.6" y2="1250.36" stroke="#b0b0b0" stroke-width="3.33" stroke-opacity="0.3"/>
<line x1="967.6" y1="1316.27" x2="1659.6" y2="1316.27" stroke="#b0b0b0" stroke-width="3.33" stroke-opacity="0.3"/>
<line x1="967.6" y1="1382.18" x2="1659.6" y2="1382.18" stroke="#b0b0b0" stroke-width="3.33" stroke-opacity="0.3"/>
<line x1="967.6" y1="1448.09" x2="1659.6" y2="1448.09" stroke="#b0b0b0" stroke-width="3.33" stroke-opacity="0.3"/>
<line x1="967.6" y1="1514" x2="1659.6" y2="1514" stroke="#b0b0b0" stroke-width="3.33" stroke-opacity="0.3"/>
<line x1="967.6" y1="1579.9" x2="1659.6" y2="1579.9" stroke="#b0b0b0" stroke-width="3.33" stroke-opacity="0.3"/>
<line x1="967.6" y1="1645.81" x2="1659.6" y2="1645.81" stroke="#b0b0b0" stroke-width="3.33" stroke-opacity="0.3"/>
<line x1="967.6" y1="1711.72" x2="1659.6" y2="1711.72" stroke="#b0b0b0" stroke-width="3.33" stroke-opacity="0.3"/>
<line x1="967.6" y1="1777.63" x2="1659.6" y2="1777.63" stroke="#b0b0b0" stroke-width="3.33" stroke-opacity="0.3"/>
<line x1="967.6" y1="1843.54" x2="1659.6" y2="1843.54" stroke="#b0b0b0" stroke-width="3.33" stroke-opacity="0.3"/>
<clipPath id="pc1"><rect x="967.6" y="1184.45" width="692" height="725"/></clipPath>
<polyline clip-path="url(#pc1)" points="1178.34,1190.13 1177.63,1193.79 1177.37,1196.73 1177.26,1199.47 1179.24,1202.51 1176.54,1205.43 1174.29,1208.14 1171.84,1211.14 1169.81,1213.22 1169.47,1214.91 1173.65,1215.12 1176.75,1213.91 1179.6,1214.37 1182.27,1213.57 1183.18,1214.71 1180.82,1217.01 1178.97,1219.23 1179.85,1221.37 1180.25,1223.01 1184.7,1225.58 1185.12,1228.19 1188.49,1230.13 1187.65,1231.43 1183.53,1233.64 1180.19,1235.15 1177.34,1236.7 1176.15,1238.58 1173.76,1239.76 1172.75,1240.09 1176.82,1240.45 1178.83,1240.84 1183.16,1240.64 1185.61,1240.18 1188.27,1240.28 1192.13,1240.36 1194.11,1241.79 1194.26,1244.11 1191.79,1247.07 1191.29,1250.85 1191.88,1253.22 1194.05,1255.02 1197.18,1257.91 1197.93,1260.23 1200.47,1262.34 1203.4,1264.49 1206.15,1266.5 1204.26,1268.13 1201.53,1270.18 1199.42,1272.08 1197.03,1273.59 1196.5,1274.76 1195.91,1277.4 1198.79,1280.39 1201.72,1282.63 1205.3,1283.36 1207.98,1284.66 1211.09,1285.56 1210.8,1288.48 1209.01,1290.9 1205.04,1293.89 1205.84,1295.45 1208.53,1298.12 1210.45,1300.04 1211.8,1302.73 1210.99,1304.76 1208.96,1307.86 1207.68,1310.1 1204.84,1312.49 1205.91,1314.88 1208.4,1317.35 1211.05,1320.51 1211.89,1322.77 1212.13,1326.26 1212.3,1329.87 1214.9,1332.48 1215.5,1335.28 1214.27,1338.8 1215.6,1342.13 1213.69,1345.29 1216.03,1348.62 1216.04,1352.06 1213.89,1354.56 1214.41,1358.42 1213.63,1361.57 1215.19,1364.33 1214.92,1367.95 1215.65,1370.48 1215.76,1373.57 1214.4,1377.53 1215.51,1380.08 1214.19,1383.58 1215.88,1386.84 1216.38,1390.07 1216.14,1393.14 1214.82,1396.16 1215.02,1399.46 1215.8,1402.4 1213.67,1406.06 1214.07,1408.94 1213.55,1412.55 1213.86,1415.21 1215.14,1418.62 1213.68,1422.21 1213.93,1424.88 1215.28,1428.5 1214.61,1431.16 1214.69,1434.71 1214.63,1437.68 1214.41,1441.3 1213.29,1444.36 1214.22,1447.9 1214.49,1450.89 1212.31,1453.91 1213.57,1456.58 1212.83,1460.56 1213.82,1463.81 1211.54,1466.69 1212.55,1467.46" fill="none" stroke="#dc143c" stroke-opacity="0.8" stroke-width="8.33" stroke-linejoin="round" marker-start="url(#mo)" marker-mid="url(#mo)" marker-end="url(#mo)"/>
<line clip-path="url(#pc1)" x1="1227.1" y1="1909.45" x2="1227.1" y2="1184.45" stroke="#808080" stroke-opacity="0.7" stroke-width="8.33" stroke-dasharray="30.83 13.33"/>
<polyline clip-path="url(#pc1)" points="1229.06,1200.19 1234.09,1223.94 1249.18,1246.88 1263.87,1271.03 1272.93,1290.96 1278.97,1307.06 1282.99,1323.96 1285.01,1340.26 1288.03,1364.82 1289.84,1397.82 1289.84,1433.85" fill="none" stroke="#4682b4" stroke-opacity="0.7" stroke-width="8.33" stroke-linejoin="round" marker-start="url(#ms)" marker-mid="url(#ms)" marker-end="url(#ms)"/>
<rect x="967.6" y="1184.45" width="692" height="725" fill="none" stroke="#000" stroke-width="3.33" />
<line x1="967.6" y1="1909.45" x2="967.6" y2="1924.85" stroke="#000" stroke-width="3.33" />
<line x1="1198.27" y1="1909.45" x2="1198.27" y2="1924.85" stroke="#000" stroke-width="3.33" />
<line x1="1428.93" y1="1909.45" x2="1428.93" y2="1924.85" stroke="#000" stroke-width="3.33" />
<line x1="1659.6" y1="1909.45" x2="1659.6" y2="1924.85" stroke="#000" stroke-width="3.33" />
<line x1="952.2" y1="1184.45" x2="967.6" y2="1184.45" stroke="#000" stroke-width="3.33" />
<line x1="952.2" y1="1250.36" x2="967.6" y2="1250.36" stroke="#000" stroke-width="3.33" />
<line x1="952.2" y1="1316.27" x2="967.6" y2="1316.27" stroke="#000" stroke-width="3.33" />
<line x1="952.2" y1="1382.18" x2="967.6" y2="1382.18" stroke="#000" stroke-width="3.33" />
<line x1="952.2" y1="1448.09" x2="967.6" y2="1448.09" stroke="#000" stroke-width="3.33" />
<line x1="952.2" y1="1514" x2="967.6" y2="1514" stroke="#000" stroke-width="3.33" />
<line x1="952.2" y1="1579.9" x2="967.6" y2="1579.9" stroke="#000" stroke-width="3.33" />
<line x1="952.2" y1="1645.81" x2="967.6" y2="1645.81" stroke="#000" stroke-width="3.33" />
<line x1="952.2" y1="1711.72" x2="967.6" y2="1711.72" stroke="#000" stroke-width="3.33" />
<line x1="952.2" y1="1777.63" x2="967.6" y2="1777.63" stroke="#000" stroke-width="3.33" />
<line x1="952.2" y1="1843.54" x2="967.6" y2="1843.54" stroke="#000" stroke-width="3.33" />
<line x1="952.2" y1="1909.45" x2="967.6" y2="1909.45" stroke="#000" stroke-width="3.33" />
<text x="1313.6" y="1160.15" font-size="41.67" text-anchor="middle" font-weight="bold" fill="#000" >OA9S</text>
<text x="1646.1" y="1888.65" font-size="29.17" text-anchor="end" fill="#6b6b6b" >Obs: 2022-12-21</text>
</g>
<g>
<line x1="1959.27" y1="1184.45" x2="1959.27" y2="1909.45" stroke="#b0b0b0" stroke-width="3.33" stroke-opacity="0.3"/>
<line x1="2189.93" y1="1184.45" x2="2189.93" y2="1909.45" stroke="#b0b0b0" stroke-width="3.33" stroke-opacity="0.3"/>
<line x1="1728.6" y1="1250.36" x2="2420.6" y2="1250.36" stroke="#b0b0b0" stroke-width="3.33" stroke-opacity="0.3"/>
<line x1="1728.6" y1="1316.27" x2="2420.6" y2="1316.27" stroke="#b0b0b0" stroke-width="3.33" stroke-opacity="0.3"/>
<line x1="1728.6" y1="1382.18" x2="2420.6" y2="1382.18" stroke="#b0b0b0" stroke-width="3.33" stroke-opacity="0.3"/>
<line x1="1728.6" y1="1448.09" x2="2420.6" y2="1448.09" stroke="#b0b0b0" stroke-width="3.33" stroke-opacity="0.3"/>
<line x1="1728.6" y1="1514" x2="2420.6" y2="1514" stroke="#b0b0b0" stroke-width="3.33" stroke-opacity="0.3"/>
<line x1="1728.6" y1="1579.9" x2="2420.6" y2="1579.9" stroke="#b0b0b0" stroke-width="3.33" stroke-opacity="0.3"/>
<line x1="1728.6" y1="1645.81" x2="2420.6" y2="1645.81" stroke="#b0b0b0" stroke-width="3.33" stroke-opacity="0.3"/>
<line x1="1728.6" y1="1711.72" x2="2420.6" y2="1711.72" stroke="#b0b0b0" stroke-width="3.33" stroke-opacity="0.3"/>
<line x1="1728.6" y1="1777.63" x2="2420.6" y2="1777.63" stroke="#b0b0b0" stroke-width="3.33" stroke-opacity="0.3"/>
<line x1="1728.6" y1="1843.54" x2="2420.6" y2="1843.54" stroke="#b0b0b0" stroke-width="3.33" stroke-opacity="0.3"/>
<clipPath id="pc2"><rect x="1728.6" y="1184.45" width="692" height="725"/></clipPath>
<polyline clip-path="url(#pc2)" points="1952.83,1190.13 1956.98,1190.9 1959.33,1192.3 1962.92,1193.42 1965.58,1195.35 1967.2,1196.84 1962.51,1197.02 1960.64,1197.81 1956.39,1198.6 1954.85,1200.08 1951.61,1200.27 1948.85,1201.4 1943.96,1202.19 1941.35,1202.59 1938.62,1203.64 1935.53,1204.99 1933.56,1205.18 1937.3,1206.17 1939.5,1206.52 1941.45,1206.11 1945.03,1207.31 1949.05,1207.49 1944.84,1207.8 1943.25,1207.93 1938.09,1208.4 1935.85,1209.72 1932.92,1209.81 1929.62,1210.11 1927.63,1210.81 1925.32,1211.24 1930.03,1211.64 1933.42,1212.06 1935.39,1212.19 1939.77,1213.31 1941.83,1212.94 1945.07,1213.34 1949.17,1214.03 1952.11,1213.54 1953.49,1214.29 1959.04,1213.69 1961.08,1214.16 1965.51,1213.86 1966.33,1214.81 1970.85,1214.57 1971.58,1215.02 1968.2,1215.22 1963.47,1215.5 1960.96,1216.67 1957.92,1216.9 1955.39,1217.79 1952.17,1217.93 1949.6,1218.9 1946.62,1219.44 1941.17,1219.67 1938.86,1219.84 1936.2,1220.25 1932.64,1222.52 1929.99,1223.88 1928.05,1224.71 1928.39,1225.57 1932.58,1225.49 1934.1,1225.49 1939.38,1226.23 1940.62,1226.51 1945.03,1226.19 1949.06,1225.98 1950.19,1226.2 1955.05,1226.4 1957.59,1226.76 1960.56,1226.64 1962.75,1226.64 1966.34,1226.51 1970.34,1226.65 1966.61,1227.49 1964,1228.25 1959.59,1229.38 1957.28,1229.88 1954.19,1230.95 1950.1,1231.89 1948.59,1232.21 1945.69,1233.56 1942.04,1233.67 1938.39,1234.13 1941.36,1236.18 1943.78,1237.29 1948.4,1238.35 1946.53,1240.42 1945.03,1243.11 1946.9,1244.69 1949.43,1244.85 1951.84,1244.12 1956.69,1244.02 1958.73,1244.39 1963.12,1244.34 1965.52,1244.47 1968.48,1244.44 1971.66,1244.56 1972.9,1244.8 1971.27,1246.69 1966.61,1248 1963.12,1248.73 1962.49,1249.91 1960.82,1253.52 1960.04,1256.12 1957.9,1259.25 1960.36,1261.91 1962.83,1263.7 1965.01,1265.72 1967.01,1268.26 1968.59,1271.56 1968.43,1275.09 1969.75,1277.66 1970,1280.33 1972.65,1283.57 1973.62,1286.71 1974.91,1289.29 1976.14,1292.5 1974.75,1296.09 1977.03,1298.52 1977.25,1302.28 1975.92,1305.35 1977.88,1308.12 1977.38,1311.4 1975.99,1315.31 1978.13,1318.21 1977.53,1321.15 1976.52,1324.57 1977.46,1327.86 1976.5,1330.98 1976.54,1334.36 1977.97,1337.51 1976.77,1340.31 1978.71,1343.5 1978.11,1346.41 1976.95,1349.74 1978.44,1352.93 1978.4,1355.98 1978.49,1359.81 1977.35,1362.55 1977.34,1366 1977.17,1368.94 1978.89,1372.84 1977.54,1375.6 1979.15,1379.22 1979.05,1381.98 1979.09,1385.4 1978.43,1388.39 1978.19,1390.97 1978.01,1394.35 1976.87,1397.72 1977.24,1401.12 1977.35,1404.04 1976.7,1407.58 1978.12,1410.51 1975.64,1414.18 1977.85,1417.36 1977.12,1420.14 1975.55,1423.84 1976.44,1426.24 1976.7,1429.35 1975.79,1433.1 1976.57,1436.04 1974.7,1439.21 1975.37,1440.69" fill="none" stroke="#dc143c" stroke-opacity="0.8" stroke-width="8.33" stroke-linejoin="round" marker-start="url(#mo)" marker-mid="url(#mo)" marker-end="url(#mo)"/>
<line clip-path="url(#pc2)" x1="1988.1" y1="1909.45" x2="1988.1" y2="1184.45" stroke="#808080" stroke-opacity="0.7" stroke-width="8.33" stroke-dasharray="30.83 13.33"/>
<polyline clip-path="url(#pc2)" points="1990.67,1200.19 2003.95,1223.94 2024.68,1246.88 2033.94,1271.03 2036.96,1290.96 2036.96,1307.06 2036.96,1323.96 2038.97,1340.26 2039.97,1364.82 2041.79,1397.82 2041.79,1429.02" fill="none" stroke="#4682b4" stroke-opacity="0.7" stroke-width="8.33" stroke-linejoin="round" marker-start="url(#ms)" marker-mid="url(#ms)" marker-end="url(#ms)"/>
<rect x="1728.6" y="1184.45" width="692" height="725" fill="none" stroke="#000" stroke-width="3.33" />
<line x1="1728.6" y1="1909.45" x2="1728.6" y2="1924.85" stroke="#000" stroke-width="3.33" />
<line x1="1959.27" y1="1909.45" x2="1959.27" y2="1924.85" stroke="#000" stroke-width="3.33" />
<line x1="2189.93" y1="1909.45" x2="2189.93" y2="1924.85" stroke="#000" stroke-width="3.33" />
<line x1="2420.6" y1="1909.45" x2="2420.6" y2="1924.85" stroke="#000" stroke-width="3.33" />
<line x1="1713.2" y1="1184.45" x2="1728.6" y2="1184.45" stroke="#000" stroke-width="3.33" />
<line x1="1713.2" y1="1250.36" x2="1728.6" y2="1250.36" stroke="#000" stroke-width="3.33" />
<line x1="1713.2" y1="1316.27" x2="1728.6" y2="1316.27" stroke="#000" stroke-width="3.33" />
<line x1="1713.2" y1="1382.18" x2="1728.6" y2="1382.18" stroke="#000" stroke-width="3.33" />
<line x1="1713.2" y1="1448.09" x2="1728.6" y2="1448.09" stroke="#000" stroke-width="3.33" />
<line x1="1713.2" y1="1514" x2="1728.6" y2="1514" stroke="#000" stroke-width="3.33" />
<line x1="1713.2" y1="1579.9" x2="1728.6" y2="1579.9" stroke="#000" stroke-width="3.33" />
<line x1="1713.2" y1="1645.81" x2="1728.6" y2="1645.81" stroke="#000" stroke-width="3.33" />
<line x1="1713.2" y1="1711.72" x2="1728.6" y2="1711.72" stroke="#000" stroke-width="3.33" />
<line x1="1713.2" y1="1777.63" x2="1728.6" y2="1777.63" stroke="#000" stroke-width="3.33" />
<line x1="1713.2" y1="1843.54" x2="1728.6" y2="1843.54" stroke="#000" stroke-width="3.33" />
<line x1="1713.2" y1="1909.45" x2="1728.6" y2="1909.45" stroke="#000" stroke-width="3.33" />
<text x="2074.6" y="1160.15" font-size="41.67" text-anchor="middle" font-weight="bold" fill="#000" >OA1-DEP</text>
<text x="2407.1" y="1888.65" font-size="29.17" text-anchor="end" fill="#6b6b6b" >Obs: 2022-12-21</text>
</g>
<g>
<line x1="2720.27" y1="1184.45" x2="2720.27" y2="1909.45" stroke="#b0b0b0" stroke-width="3.33" stroke-opacity="0.3"/>
<line x1="2950.93" y1="1184.45" x2="2950.93" y2="1909.45" stroke="#b0b0b0" stroke-width="3.33" stroke-opacity="0.3"/>
<line x1="2489.6" y1="1250.36" x2="3181.6" y2="1250.36" stroke="#b0b0b0" stroke-width="3.33" stroke-opacity="0.3"/>
<line x1="2489.6" y1="1316.27" x2="3181.6" y2="1316.27" stroke="#b0b0b0" stroke-width="3.33" stroke-opacity="0.3"/>
<line x1="2489.6" y1="1382.18" x2="3181.6" y2="1382.18" stroke="#b0b0b0" stroke-width="3.33" stroke-opacity="0.3"/>
<line x1="2489.6" y1="1448.09" x2="3181.6" y2="1448.09" stroke="#b0b0b0" stroke-width="3.33" stroke-opacity="0.3"/>
<line x1="2489.6" y1="1514" x2="3181.6" y2="1514" stroke="#b0b0b0" stroke-width="3.33" stroke-opacity="0.3"/>
<line x1="2489.6" y1="1579.9" x2="3181.6" y2="1579.9" stroke="#b0b0b0" stroke-width="3.33" stroke-opacity="0.3"/>
<line x1="2489.6" y1="1645.81" x2="3181.6" y2="1645.81" stroke="#b0b0b0" stroke-width="3.33" stroke-opacity="0.3"/>
<line x1="2489.6" y1="1711.72" x2="3181.6" y2="1711.72" stroke="#b0b0b0" stroke-width="3.33" stroke-opacity="0.3"/>
<line x1="2489.6" y1="1777.63" x2="3181.6" y2="1777.63" stroke="#b0b0b0" stroke-width="3.33" stroke-opacity="0.3"/>
<line x1="2489.6" y1="1843.54" x2="3181.6" y2="1843.54" stroke="#b0b0b0" stroke-width="3.33" stroke-opacity="0.3"/>
<clipPath id="pc3"><rect x="2489.6" y="1184.45" width="692" height="725"/></clipPath>
<polyline clip-path="url(#pc3)" points="2757.46,1196.16 2759.68,1198.83 2758.28,1202.72 2759.73,1204.87 2759.45,1207.25 2757.38,1208.86 2754.87,1210.68 2751.24,1213.02 2748.77,1214.75 2748.61,1215.47 2751.92,1217.44 2753.3,1218.47 2757.56,1220.3 2760.65,1221.92 2763.26,1223.58 2764.84,1225.88 2765.96,1228.49 2768.36,1230.58 2768.18,1232.94 2764.07,1235.61 2763.44,1237.47 2759.83,1240.32 2760.32,1243.79 2762.24,1246.51 2762.68,1249.78 2764.7,1252.55 2763.98,1255.95 2764.69,1258.96 2767.6,1261.06 2770.2,1263.42 2770.94,1266.15 2773.9,1267.85 2776.28,1270.61 2778.69,1273.15 2777.93,1275.87 2779.89,1279.07 2779.65,1282.38 2780.5,1284.72 2783.31,1284.89 2787.37,1286.13 2790.82,1286.02 2793.51,1286.8 2792.32,1290.75 2793.2,1293.55 2792.55,1296.75 2791.26,1300.01 2794.3,1302.26 2795.68,1303.92 2798.85,1305.23 2801.94,1307.37 2804.21,1309.17 2803.29,1311.77 2805.33,1314.79 2804.56,1318.31 2805.67,1321.06 2805.09,1324.92 2806.33,1327.25 2806.4,1330.55 2808.27,1333.67 2806.9,1336.79 2807.56,1340.09 2807.39,1343.82 2809.06,1347.11 2806.92,1349.85 2808.17,1352.49 2805.06,1355.81 2804.1,1358.93 2803.54,1361.51 2802.77,1363.31 2805.89,1364.02 2809.49,1365.27 2809.12,1368.81 2806,1371.72 2806.47,1374.32 2805.21,1377.36 2804.98,1380.39 2803.83,1384.47 2803.61,1386.82 2802.02,1389.83 2800.75,1393.66 2802.79,1395.89 2802.51,1399.6 2802.83,1402.85 2805.55,1405.68 2805.03,1409.06 2806.23,1411.49 2805.93,1414.65 2807.71,1418.18 2807.66,1421.68 2808.7,1424.23 2807.54,1428.1 2808.78,1430.8 2808.58,1433.8 2807.3,1436.86 2807.86,1440.24 2808.22,1444.18 2807.27,1446.96 2809.12,1450.21 2808.25,1453.57 2806.93,1456.96 2808.66,1460.01 2809.02,1462.51 2807.05,1465.79 2808.05,1469.74 2808.79,1472.4 2807.73,1475.91 2806.66,1479.32 2807.93,1482.27 2807.51,1485.52 2806.55,1488.23 2805.15,1491.31 2803.72,1495.08 2803.5,1497.26 2802.7,1500.43 2802.18,1503.74 2800.63,1506.97 2800.41,1509.94 2800.59,1512.97 2800.73,1516.63 2802.66,1519.21 2801.12,1522.87 2803.2,1525.23 2803.05,1528.33 2804.37,1531.32 2804.54,1535.26 2806.73,1537.55 2805.82,1541.44 2805.86,1543.91 2805.4,1547.42 2806.87,1550.82 2805.66,1554.07 2804.56,1557.32 2806.51,1560.51 2805.32,1563.32 2804.38,1566.32 2804.73,1569.89 2806.33,1572.85 2805.51,1576.47 2805.89,1579.06 2806.62,1582.82 2804.99,1585.68 2805.96,1589.57 2805.02,1592.23 2805.57,1595.21 2805.15,1599.15 2805.51,1602.26 2804.71,1605.5 2806.04,1608.06 2805.35,1611.72 2805.43,1614.84 2804.53,1617.99 2804.8,1621.43 2804.81,1624.81 2805.32,1627.26 2804.86,1630.36 2805.66,1633.48 2805.29,1636.94 2805.7,1639.96 2805.42,1643.75 2804.22,1646.36 2804.55,1650.08 2804.23,1652.64 2804.67,1656.64 2803.89,1659.97 2804.74,1662.39 2803.61,1665.8 2804.52,1668.81 2803.44,1672.33 2803.82,1675.47 2804.27,1678.93 2804.53,1681.66 2803.43,1685.49 2803.03,1687.95 2803.02,1691.85 2804.18,1695.15 2804.34,1697.76 2803.77,1701.36 2803.18,1704.63 2803.58,1707.07 2803.35,1710.78 2802.77,1714.33 2804.67,1717.13 2804.47,1720.51 2803.38,1723.17 2804.33,1727.13 2802.89,1729.79 2801.77,1733.22 2803.66,1736.19 2802.05,1739.61 2803.23,1742.37 2801.76,1746.04 2801,1749.41 2801.57,1752.62 2802.11,1755.14 2801.3,1758.27 2802.24,1762.1 2803.95,1765.16 2803,1768.38 2804.43,1771.26 2803.05,1774.55 2803.47,1777.46 2803.84,1780.55 2805.09,1783.95 2805.02,1787.61 2802.64,1790.97 2804.64,1793.8 2804.77,1796.95 2802.46,1799.82 2803.13,1803.73 2804.41,1806.18 2803.09,1809.38 2802.71,1812.82 2803.12,1815.81 2803.68,1819.11 2804.21,1822.54 2802.95,1826.03 2802.62,1828.72 2801.94,1831.95 2802.13,1835.59 2802.34,1838.76 2802.03,1841.32 2802,1844.84 2803.47,1847.85 2801.55,1851 2801.56,1855.01 2803.22,1857.47 2802.01,1860.47" fill="none" stroke="#dc143c" stroke-opacity="0.8" stroke-width="8.33" stroke-linejoin="round" marker-start="url(#mo)" marker-mid="url(#mo)" marker-end="url(#mo)"/>
<line clip-path="url(#pc3)" x1="2749.1" y1="1909.45" x2="2749.1" y2="1184.45" stroke="#808080" stroke-opacity="0.7" stroke-width="8.33" stroke-dasharray="30.83 13.33"/>
<polyline clip-path="url(#pc3)" points="2752.83,1200.19 2758.87,1223.33 2773.96,1246.88 2784.23,1271.03 2791.47,1290.96 2795.09,1307.06 2798.11,1323.96 2801.13,1340.26 2803.14,1364.82 2806.16,1397.82 2808.18,1431.03 2809.18,1463.84 2810.39,1496.43 2811.5,1529.93 2812.62,1562.87 2813.18,1595.81 2813.74,1628.75 2814.29,1661.7 2814.29,1694.64 2814.29,1727.58 2814.29,1759.97 2814.29,1792.91 2814.29,1825.85 2814.29,1858.24 2814.85,1887.83" fill="none" stroke="#4682b4" stroke-opacity="0.7" stroke-width="8.33" stroke-linejoin="round" marker-start="url(#ms)" marker-mid="url(#ms)" marker-end="url(#ms)"/>
<rect x="2489.6" y="1184.45" width="692" height="725" fill="none" stroke="#000" stroke-width="3.33" />
<line x1="2489.6" y1="1909.45" x2="2489.6" y2="1924.85" stroke="#000" stroke-width="3.33" />
<line x1="2720.27" y1="1909.45" x2="2720.27" y2="1924.85" stroke="#000" stroke-width="3.33" />
<line x1="2950.93" y1="1909.45" x2="2950.93" y2="1924.85" stroke="#000" stroke-width="3.33" />
<line x1="3181.6" y1="1909.45" x2="3181.6" y2="1924.85" stroke="#000" stroke-width="3.33" />
<line x1="2474.2" y1="1184.45" x2="2489.6" y2="1184.45" stroke="#000" stroke-width="3.33" />
<line x1="2474.2" y1="1250.36" x2="2489.6" y2="1250.36" stroke="#000" stroke-width="3.33" />
<line x1="2474.2" y1="1316.27" x2="2489.6" y2="1316.27" stroke="#000" stroke-width="3.33" />
<line x1="2474.2" y1="1382.18" x2="2489.6" y2="1382.18" stroke="#000" stroke-width="3.33" />
<line x1="2474.2" y1="1448.09" x2="2489.6" y2="1448.09" stroke="#000" stroke-width="3.33" />
<line x1="2474.2" y1="1514" x2="2489.6" y2="1514" stroke="#000" stroke-width="3.33" />
<line x1="2474.2" y1="1579.9" x2="2489.6" y2="1579.9" stroke="#000" stroke-width="3.33" />
<line x1="2474.2" y1="1645.81" x2="2489.6" y2="1645.81" stroke="#000" stroke-width="3.33" />
<line x1="2474.2" y1="1711.72" x2="2489.6" y2="1711.72" stroke="#000" stroke-width="3.33" />
<line x1="2474.2" y1="1777.63" x2="2489.6" y2="1777.63" stroke="#000" stroke-width="3.33" />
<line x1="2474.2" y1="1843.54" x2="2489.6" y2="1843.54" stroke="#000" stroke-width="3.33" />
<line x1="2474.2" y1="1909.45" x2="2489.6" y2="1909.45" stroke="#000" stroke-width="3.33" />
<text x="2835.6" y="1160.15" font-size="41.67" text-anchor="middle" font-weight="bold" fill="#000" >6147030</text>
<text x="3168.1" y="1888.65" font-size="29.17" text-anchor="end" fill="#6b6b6b" >Obs: 2022-12-14</text>
</g>
<g>
<line x1="3481.27" y1="1184.45" x2="3481.27" y2="1909.45" stroke="#b0b0b0" stroke-width="3.33" stroke-opacity="0.3"/>
<line x1="3711.93" y1="1184.45" x2="3711.93" y2="1909.45" stroke="#b0b0b0" stroke-width="3.33" stroke-opacity="0.3"/>
<line x1="3250.6" y1="1250.36" x2="3942.6" y2="1250.36" stroke="#b0b0b0" stroke-width="3.33" stroke-opacity="0.3"/>
<line x1="3250.6" y1="1316.27" x2="3942.6" y2="1316.27" stroke="#b0b0b0" stroke-width="3.33" stroke-opacity="0.3"/>
<line x1="3250.6" y1="1382.18" x2="3942.6" y2="1382.18" stroke="#b0b0b0" stroke-width="3.33" stroke-opacity="0.3"/>
<line x1="3250.6" y1="1448.09" x2="3942.6" y2="1448.09" stroke="#b0b0b0" stroke-width="3.33" stroke-opacity="0.3"/>
<line x1="3250.6" y1="1514" x2="3942.6" y2="1514" stroke="#b0b0b0" stroke-width="3.33" stroke-opacity="0.3"/>
<line x1="3250.6" y1="1579.9" x2="3942.6" y2="1579.9" stroke="#b0b0b0" stroke-width="3.33" stroke-opacity="0.3"/>
<line x1="3250.6" y1="1645.81" x2="3942.6" y2="1645.81" stroke="#b0b0b0" stroke-width="3.33" stroke-opacity="0.3"/>
<line x1="3250.6" y1="1711.72" x2="3942.6" y2="1711.72" stroke="#b0b0b0" stroke-width="3.33" stroke-opacity="0.3"/>
<line x1="3250.6" y1="1777.63" x2="3942.6" y2="1777.63" stroke="#b0b0b0" stroke-width="3.33" stroke-opacity="0.3"/>
<line x1="3250.6" y1="1843.54" x2="3942.6" y2="1843.54" stroke="#b0b0b0" stroke-width="3.33" stroke-opacity="0.3"/>
<clipPath id="pc4"><rect x="3250.6" y="1184.45" width="692" height="725"/></clipPath>
<polyline clip-path="url(#pc4)" points="3522.49,1197.17 3522.4,1200.21 3522.96,1203.34 3521.51,1206.4 3518.76,1209.03 3515.86,1210.67 3516.45,1213.77 3518.72,1216.94 3517.97,1220.22 3518.52,1223.44 3517.22,1226.62 3518,1230.17 3518.56,1232.77 3520.02,1235.72 3521.47,1238.23 3523.08,1241.39 3525.23,1243.95 3527.33,1246.14 3523.84,1245.73 3520.58,1245.89 3516.04,1245.83 3513.54,1244.81 3509.79,1244.79 3506.39,1244.62 3504.09,1244.66 3505.71,1246.63 3508.64,1248.1 3511.63,1250.56 3514.7,1252.07 3517.56,1252.97 3518.63,1255.17 3520.83,1256.55 3525.94,1257.19 3520.84,1258.64 3519.81,1259.26 3516.07,1259.82 3511.86,1259.74 3511.75,1262.46 3513.78,1265.06 3514.15,1265.14 3518.49,1265.04 3520.59,1264.84 3525.02,1264.61 3527.21,1264.49 3530.2,1264.95 3535.55,1264.16 3538.14,1264.56 3540.31,1263.76 3545.16,1263.92 3545.35,1266.21 3545.22,1268.94 3546.18,1272.47 3545.8,1274.95 3547.68,1278.45 3548.93,1281.18 3550.57,1283.83 3551.53,1287.43 3552.57,1290.06 3551.88,1293.16 3553.11,1296.62 3554.68,1299.5 3554.73,1303.28 3553.64,1305.78 3553.29,1309.68 3553.32,1312.6 3554.72,1315.31 3553.27,1318.98 3553.48,1322.09 3556.03,1325.2 3554.48,1328.03 3554.6,1331.45 3554.23,1335.03 3555.59,1338.24 3554.41,1340.97 3556.54,1343.93 3554.93,1347.93 3554.41,1350.53 3555.53,1353.76 3554.84,1357.1 3554.84,1360.56 3556.06,1363.86 3556.67,1366.37 3554.63,1370.48 3555.87,1373.45 3554.22,1376.02 3554.19,1379.98 3555.34,1382.65 3555.1,1386.22 3554.14,1388.79 3555.5,1392.59 3555.49,1395.83 3554.34,1398.94 3554.35,1402.39 3553.71,1405.38 3554.29,1408.79 3555.48,1411.26 3553.52,1414.52 3556.06,1418.25 3555.49,1420.89 3554.29,1424.32 3555.21,1427.69 3554.06,1431.12 3554.63,1434.19 3554.9,1436.97 3556.43,1440.09 3555.55,1443.95 3556.47,1446.99 3555.02,1450.1 3555.69,1452.97 3556.54,1456.54 3556.93,1459.49 3555.06,1462.54 3556.68,1466.17 3556.41,1469.06 3556.1,1471.93 3554.69,1475.86 3554.59,1478.88 3554.94,1481.62 3556.05,1485.53 3554.69,1488 3554.95,1491.15 3556.25,1494.27 3555.08,1497.6 3553.76,1501.64 3555.52,1504.55 3555.75,1507.83 3555.34,1510.91 3554.57,1513.54 3555.64,1517.38 3555.67,1520.49 3553.97,1523.69 3553.98,1527.11 3553.78,1529.71 3555.14,1533.51 3555.46,1535.97 3555.64,1539.25 3554.63,1542.6 3555.83,1545.65 3554.59,1548.92 3554.38,1552.06 3554.75,1555.22 3554.43,1558.36 3555.26,1562.14 3554.37,1565.09 3555.32,1568.82 3556.27,1571.15 3556.21,1575.05 3554.34,1577.64 3555.06,1580.93 3554.56,1584.25 3555.16,1587.58 3553.85,1590.67 3554.33,1594.36 3554.13,1596.77 3554.67,1600.09 3555.86,1603.08 3556,1606.84 3555.38,1609.69 3554.67,1612.85 3555.18,1616.37 3553.75,1619.34 3552.99,1622.31 3554.35,1626.42 3555.03,1628.95 3553.46,1632.47 3553.7,1635.81 3552.83,1638.59 3554.62,1641.7 3553.83,1645.05 3553.21,1648.64 3554.32,1651.57 3554.24,1654.47 3552.38,1657.75 3552.27,1661.58 3551.62,1664.64 3552.92,1667.6 3552.17,1671.03 3550.81,1674.31 3551.54,1676.81 3550.42,1680.56 3550.33,1683.8 3550.7,1687.14 3551.54,1690.34 3549.91,1692.89 3552.22,1695.79 3550.25,1699.3 3550.55,1702.82 3550.14,1705.7 3549.85,1708.91 3550.62,1712.62 3550.1,1715.2 3551.02,1718.41 3550.16,1722.06 3549.51,1724.79 3548.87,1728.44 3550.38,1731.83 3548.88,1734.74 3548.75,1737.56 3549.58,1741.11 3548.08,1743.83 3548.86,1746.91 3548.93,1750.13 3549.04,1753.34 3546.7,1757.38 3548.15,1760.13 3546.9,1763.59 3546.51,1766.99 3547.97,1770.03 3548.43,1773.43 3548.11,1775.67 3546.65,1778.98 3546.76,1782.91 3547.75,1785.82 3546.37,1788.51 3547.19,1791.97 3546.48,1794.89 3547.47,1798.2 3545.76,1801.71 3545.52,1804.84 3547.45,1808.16 3545.08,1811.36 3546.82,1814.96 3546.64,1818.24 3546.79,1821.01 3546.12,1821.94" fill="none" stroke="#dc143c" stroke-opacity="0.8" stroke-width="8.33" stroke-linejoin="round" marker-start="url(#mo)" marker-mid="url(#mo)" marker-end="url(#mo)"/>
<line clip-path="url(#pc4)" x1="3510.1" y1="1909.45" x2="3510.1" y2="1184.45" stroke="#808080" stroke-opacity="0.7" stroke-width="8.33" stroke-dasharray="30.83 13.33"/>
<polyline clip-path="url(#pc4)" points="3482.84,1200.19 3493.31,1222.73 3512.83,1246.48 3526.11,1271.03 3532.96,1290.96 3536.78,1307.06 3539.8,1323.96 3541.81,1340.26 3544.03,1364.82 3546.04,1397.82 3548.05,1431.03 3549.06,1463.84 3549.47,1496.43 3550.03,1529.93 3550.59,1562.87 3550.59,1595.81 3551.14,1628.75 3551.7,1661.7 3552.26,1694.64 3553.38,1727.58 3556.17,1759.97 3558.4,1792.91 3560.08,1821.94" fill="none" stroke="#4682b4" stroke-opacity="0.7" stroke-width="8.33" stroke-linejoin="round" marker-start="url(#ms)" marker-mid="url(#ms)" marker-end="url(#ms)"/>
<rect x="3250.6" y="1184.45" width="692" height="725" fill="none" stroke="#000" stroke-width="3.33" />
<line x1="3250.6" y1="1909.45" x2="3250.6" y2="1924.85" stroke="#000" stroke-width="3.33" />
<line x1="3481.27" y1="1909.45" x2="3481.27" y2="1924.85" stroke="#000" stroke-width="3.33" />
<line x1="3711.93" y1="1909.45" x2="3711.93" y2="1924.85" stroke="#000" stroke-width="3.33" />
<line x1="3942.6" y1="1909.45" x2="3942.6" y2="1924.85" stroke="#000" stroke-width="3.33" />
<line x1="3235.2" y1="1184.45" x2="3250.6" y2="1184.45" stroke="#000" stroke-width="3.33" />
<line x1="3235.2" y1="1250.36" x2="3250.6" y2="1250.36" stroke="#000" stroke-width="3.33" />
<line x1="3235.2" y1="1316.27" x2="3250.6" y2="1316.27" stroke="#000" stroke-width="3.33" />
<line x1="3235.2" y1="1382.18" x2="3250.6" y2="1382.18" stroke="#000" stroke-width="3.33" />
<line x1="3235.2" y1="1448.09" x2="3250.6" y2="1448.09" stroke="#000" stroke-width="3.33" />
<line x1="3235.2" y1="1514" x2="3250.6" y2="1514" stroke="#000" stroke-width="3.33" />
<line x1="3235.2" y1="1579.9" x2="3250.6" y2="1579.9" stroke="#000" stroke-width="3.33" />
<line x1="3235.2" y1="1645.81" x2="3250.6" y2="1645.81" stroke="#000" stroke-width="3.33" />
<line x1="3235.2" y1="1711.72" x2="3250.6" y2="1711.72" stroke="#000" stroke-width="3.33" />
<line x1="3235.2" y1="1777.63" x2="3250.6" y2="1777.63" stroke="#000" stroke-width="3.33" />
<line x1="3235.2" y1="1843.54" x2="3250.6" y2="1843.54" stroke="#000" stroke-width="3.33" />
<line x1="3235.2" y1="1909.45" x2="3250.6" y2="1909.45" stroke="#000" stroke-width="3.33" />
<text x="3596.6" y="1160.15" font-size="41.67" text-anchor="middle" font-weight="bold" fill="#000" >6142974</text>
<text x="3929.1" y="1888.65" font-size="29.17" text-anchor="end" fill="#6b6b6b" >Obs: 2022-12-15</text>
</g>
<g>
<line x1="437.27" y1="2102.5" x2="437.27" y2="2827.5" stroke="#b0b0b0" stroke-width="3.33" stroke-opacity="0.3"/>
<line x1="667.93" y1="2102.5" x2="667.93" y2="2827.5" stroke="#b0b0b0" stroke-width="3.33" stroke-opacity="0.3"/>
<line x1="206.6" y1="2168.41" x2="898.6" y2="2168.41" stroke="#b0b0b0" stroke-width="3.33" stroke-opacity="0.3"/>
<line x1="206.6" y1="2234.32" x2="898.6" y2="2234.32" stroke="#b0b0b0" stroke-width="3.33" stroke-opacity="0.3"/>
<line x1="206.6" y1="2300.23" x2="898.6" y2="2300.23" stroke="#b0b0b0" stroke-width="3.33" stroke-opacity="0.3"/>
<line x1="206.6" y1="2366.14" x2="898.6" y2="2366.14" stroke="#b0b0b0" stroke-width="3.33" stroke-opacity="0.3"/>
<line x1="206.6" y1="2432.05" x2="898.6" y2="2432.05" stroke="#b0b0b0" stroke-width="3.33" stroke-opacity="0.3"/>
<line x1="206.6" y1="2497.95" x2="898.6" y2="2497.95" stroke="#b0b0b0" stroke-width="3.33" stroke-opacity="0.3"/>
<line x1="206.6" y1="2563.86" x2="898.6" y2="2563.86" stroke="#b0b0b0" stroke-width="3.33" stroke-opacity="0.3"/>
<line x1="206.6" y1="2629.77" x2="898.6" y2="2629.77" stroke="#b0b0b0" stroke-width="3.33" stroke-opacity="0.3"/>
<line x1="206.6" y1="2695.68" x2="898.6" y2="2695.68" stroke="#b0b0b0" stroke-width="3.33" stroke-opacity="0.3"/>
<line x1="206.6" y1="2761.59" x2="898.6" y2="2761.59" stroke="#b0b0b0" stroke-width="3.33" stroke-opacity="0.3"/>
<clipPath id="pc5"><rect x="206.6" y="2102.5" width="692" height="725"/></clipPath>
<polyline clip-path="url(#pc5)" points="457.15,2110.13 458.99,2116.7 463.33,2122.54 464.41,2128.43 460.49,2134.41 460.83,2140.91 461.78,2147.22 461.15,2153.52 459.76,2160.06 457.1,2166.23 460.18,2171.84 460.88,2177.86 462.16,2184.28 459.68,2190.88 458.98,2197.47 462.14,2201.78 467.83,2206.17 466.71,2212.49 467.51,2218.39 468.83,2224.74 471.35,2231.65 471.38,2237.76 467.31,2243.23 468.38,2248.36 470.8,2254.34 469.39,2260.93 469.04,2267.28 468.77,2274.07 470.62,2280.72 470.26,2287.01 469.84,2293.67 470.3,2299.3 467.41,2305.35 469.92,2310.49 469.85,2316.41 471.66,2323.25 468.55,2329.99 468.87,2335.82 468.48,2342.33 470.26,2349.42 469.9,2355.51 469.66,2362.19 470.56,2368.37 470.27,2375.29 471.34,2381.06 469.19,2387.49 470.04,2392.88 469.13,2399.12 470.31,2405.34 471.19,2411.74 470.81,2418.16 470.23,2424.68 470.04,2430.97 469.87,2437.44 470.55,2444.24 469.83,2451.21 468.44,2457.28 470.54,2463.81 471.85,2469.97 473.44,2476.68 472.41,2483.01 473.7,2489.82 474.25,2496.06 473.99,2502.59 472.87,2508.86 472.78,2514.87 472.51,2521.77 472.08,2528.41 472.64,2534.74 472.44,2541.08 473.31,2548.01 472.19,2554.57 470.03,2560.49 470.93,2567.25 470.98,2573.83 471.57,2580.56 471.38,2586.71 471.43,2593.61 471.43,2599.3 470.44,2605.96 470.75,2613.2 469.23,2617.14" fill="none" stroke="#dc143c" stroke-opacity="0.8" stroke-width="8.33" stroke-linejoin="round" marker-start="url(#mo)" marker-mid="url(#mo)" marker-end="url(#mo)"/>
<line clip-path="url(#pc5)" x1="466.1" y1="2827.5" x2="466.1" y2="2102.5" stroke="#808080" stroke-opacity="0.7" stroke-width="8.33" stroke-dasharray="30.83 13.33"/>
<polyline clip-path="url(#pc5)" points="442.05,2118.18 448.09,2141.94 472.25,2164.89 483.32,2188.84 489.36,2208.77 492.18,2225.28 495,2241.99 498.02,2258.7 501.04,2283.26 505.06,2315.87 508.89,2349.08 511.91,2381.9 515.93,2415.23 518.95,2448.04 520.97,2481.06 521.97,2513.87 521.97,2547.09 521.97,2579.9 521.97,2613.12 521.97,2642.91" fill="none" stroke="#4682b4" stroke-opacity="0.7" stroke-width="8.33" stroke-linejoin="round" marker-start="url(#ms)" marker-mid="url(#ms)" marker-end="url(#ms)"/>
<rect x="206.6" y="2102.5" width="692" height="725" fill="none" stroke="#000" stroke-width="3.33" />
<line x1="206.6" y1="2827.5" x2="206.6" y2="2842.9" stroke="#000" stroke-width="3.33" />
<text font-size="41.667" text-anchor="middle" transform="translate(205.6 2900) rotate(-30)" y="15">1024</text>
<line x1="437.27" y1="2827.5" x2="437.27" y2="2842.9" stroke="#000" stroke-width="3.33" />
<text font-size="41.667" text-anchor="middle" transform="translate(436.27 2900) rotate(-30)" y="15">1025</text>
<line x1="667.93" y1="2827.5" x2="667.93" y2="2842.9" stroke="#000" stroke-width="3.33" />
<text font-size="41.667" text-anchor="middle" transform="translate(666.93 2900) rotate(-30)" y="15">1026</text>
<line x1="898.6" y1="2827.5" x2="898.6" y2="2842.9" stroke="#000" stroke-width="3.33" />
<text font-size="41.667" text-anchor="middle" transform="translate(897.6 2900) rotate(-30)" y="15">1027</text>
<line x1="191.2" y1="2102.5" x2="206.6" y2="2102.5" stroke="#000" stroke-width="3.33" />
<text x="177.03" y="2118.4" font-size="41.67" text-anchor="end" fill="#000" >0</text>
<line x1="191.2" y1="2168.41" x2="206.6" y2="2168.41" stroke="#000" stroke-width="3.33" />
<text x="177.03" y="2184.31" font-size="41.67" text-anchor="end" fill="#000" >−2</text>
<line x1="191.2" y1="2234.32" x2="206.6" y2="2234.32" stroke="#000" stroke-width="3.33" />
<text x="177.03" y="2250.22" font-size="41.67" text-anchor="end" fill="#000" >−4</text>
<line x1="191.2" y1="2300.23" x2="206.6" y2="2300.23" stroke="#000" stroke-width="3.33" />
<text x="177.03" y="2316.13" font-size="41.67" text-anchor="end" fill="#000" >−6</text>
<line x1="191.2" y1="2366.14" x2="206.6" y2="2366.14" stroke="#000" stroke-width="3.33" />
<text x="177.03" y="2382.04" font-size="41.67" text-anchor="end" fill="#000" >−8</text>
<line x1="191.2" y1="2432.05" x2="206.6" y2="2432.05" stroke="#000" stroke-width="3.33" />
<text x="177.03" y="2447.95" font-size="41.67" text-anchor="end" fill="#000" >−10</text>
<line x1="191.2" y1="2497.95" x2="206.6" y2="2497.95" stroke="#000" stroke-width="3.33" />
<text x="177.03" y="2513.85" font-size="41.67" text-anchor="end" fill="#000" >−12</text>
<line x1="191.2" y1="2563.86" x2="206.6" y2="2563.86" stroke="#000" stroke-width="3.33" />
<text x="177.03" y="2579.76" font-size="41.67" text-anchor="end" fill="#000" >−14</text>
<line x1="191.2" y1="2629.77" x2="206.6" y2="2629.77" stroke="#000" stroke-width="3.33" />
<text x="177.03" y="2645.67" font-size="41.67" text-anchor="end" fill="#000" >−16</text>
<line x1="191.2" y1="2695.68" x2="206.6" y2="2695.68" stroke="#000" stroke-width="3.33" />
<text x="177.03" y="2711.58" font-size="41.67" text-anchor="end" fill="#000" >−18</text>
<line x1="191.2" y1="2761.59" x2="206.6" y2="2761.59" stroke="#000" stroke-width="3.33" />
<text x="177.03" y="2777.49" font-size="41.67" text-anchor="end" fill="#000" >−20</text>
<line x1="191.2" y1="2827.5" x2="206.6" y2="2827.5" stroke="#000" stroke-width="3.33" />
<text x="177.03" y="2843.4" font-size="41.67" text-anchor="end" fill="#000" >−22</text>
<text x="552.6" y="2078.2" font-size="41.67" text-anchor="middle" font-weight="bold" fill="#000" >LP</text>
<text x="885.1" y="2806.7" font-size="29.17" text-anchor="end" fill="#6b6b6b" >Obs: 2022-12-22</text>
<text x="552.6" y="2990.6" font-size="37.5" text-anchor="middle" fill="#000" >Density (kg/m³)</text>
<text x="58" y="2465" font-size="37.5" text-anchor="middle" fill="#000" transform="rotate(-90 58 2465)" >Depth (m)</text>
</g>
<g>
<line x1="1198.27" y1="2102.5" x2="1198.27" y2="2827.5" stroke="#b0b0b0" stroke-width="3.33" stroke-opacity="0.3"/>
<line x1="1428.93" y1="2102.5" x2="1428.93" y2="2827.5" stroke="#b0b0b0" stroke-width="3.33" stroke-opacity="0.3"/>
<line x1="967.6" y1="2168.41" x2="1659.6" y2="2168.41" stroke="#b0b0b0" stroke-width="3.33" stroke-opacity="0.3"/>
<line x1="967.6" y1="2234.32" x2="1659.6" y2="2234.32" stroke="#b0b0b0" stroke-width="3.33" stroke-opacity="0.3"/>
<line x1="967.6" y1="2300.23" x2="1659.6" y2="2300.23" stroke="#b0b0b0" stroke-width="3.33" stroke-opacity="0.3"/>
<line x1="967.6" y1="2366.14" x2="1659.6" y2="2366.14" stroke="#b0b0b0" stroke-width="3.33" stroke-opacity="0.3"/>
<line x1="967.6" y1="2432.05" x2="1659.6" y2="2432.05" stroke="#b0b0b0" stroke-width="3.33" stroke-opacity="0.3"/>
<line x1="967.6" y1="2497.95" x2="1659.6" y2="2497.95" stroke="#b0b0b0" stroke-width="3.33" stroke-opacity="0.3"/>
<line x1="967.6" y1="2563.86" x2="1659.6" y2="2563.86" stroke="#b0b0b0" stroke-width="3.33" stroke-opacity="0.3"/>
<line x1="967.6" y1="2629.77" x2="1659.6" y2="2629.77" stroke="#b0b0b0" stroke-width="3.33" stroke-opacity="0.3"/>
<line x1="967.6" y1="2695.68" x2="1659.6" y2="2695.68" stroke="#b0b0b0" stroke-width="3.33" stroke-opacity="0.3"/>
<line x1="967.6" y1="2761.59" x2="1659.6" y2="2761.59" stroke="#b0b0b0" stroke-width="3.33" stroke-opacity="0.3"/>
<clipPath id="pc6"><rect x="967.6" y="2102.5" width="692" height="725"/></clipPath>
<polyline clip-path="url(#pc6)" points="1212.86,2108.12 1214.2,2110.48 1208.51,2110.86 1203.91,2111.81 1197.37,2112.14 1190.28,2112.69 1185.23,2113.72 1179.71,2114.24 1173.45,2114.28 1168.57,2115.54 1161.36,2115.44 1155.83,2116.9 1150.72,2118.58 1144.24,2120.14 1138.12,2121.19 1139.08,2122.82 1147.09,2122.43 1153.22,2122.92 1157.17,2123.51 1164.4,2123.22 1170.62,2121.84 1176.45,2123.05 1183.14,2123.17 1188.15,2124.04 1193.19,2124.42 1200.74,2122.93 1206.21,2122.56 1211.12,2122.11 1219.11,2121.37 1213.44,2123.43 1209.8,2126.57 1204.27,2128.34 1203.7,2132.49 1205.16,2136.7 1207.08,2142.2 1205.03,2147.91 1205.91,2152.55 1211.03,2156.29 1213.43,2161.94 1219.05,2166.31 1220.45,2172.76 1221.05,2178.23 1216.09,2182.94 1217.91,2188.52 1220.93,2193.89 1222.78,2199.23 1223.66,2204.79 1224.57,2211.2 1227.05,2216.61 1228.75,2222.05 1230.04,2228.57 1227.77,2233.68 1225.38,2239.16 1226.42,2245.38 1228.42,2251.12 1230.06,2256.44 1226.79,2262.25 1229,2267.97 1231.86,2271.79 1228.19,2276.4 1226.21,2282.04 1225.9,2286.27 1232.56,2288.03 1232.75,2291.25 1229.1,2297.21 1227.37,2302.14 1227.53,2308.13 1227.2,2313.26 1232.65,2313.73 1233.4,2317.89 1231.08,2323.35 1231.02,2328.91 1233.45,2330.65 1230.95,2336.67 1228.49,2341.98 1231.06,2347.18 1233.95,2351.89 1233.87,2357.93 1232.03,2363.52 1230.5,2369.31 1234.29,2373.4 1236.34,2378.85 1234.21,2384.83 1233.34,2390.59 1233.95,2396.39 1234.01,2402.68 1235.11,2408.54 1234.65,2413.74 1232.98,2420.58 1234.18,2426.6 1234.35,2431.91 1234.26,2438.28 1234.25,2444.15 1233.68,2450.09 1234.88,2455.86 1234.6,2462 1233.84,2467.6 1233.19,2473.46 1231.15,2479.56 1233.71,2484.98 1234.39,2491.08 1235.2,2496.59 1235.19,2503.11 1234.46,2508.69 1233.96,2513.98 1231.34,2520.56 1230.67,2525.45 1226.78,2531.72 1231.18,2534.62 1237.61,2536.32 1239.83,2540.56 1238.48,2545.88 1242.97,2550.41 1247.01,2552.15 1246.53,2558.19 1245.21,2564.02 1242.65,2570.38 1244.92,2575.14 1249.28,2579.46 1250.67,2584.94 1249.13,2590.94 1248.13,2596.73 1248.6,2601.52 1252.53,2605.87 1256.45,2611.08 1257.34,2617.2 1257.45,2622.32 1257.65,2628.26 1258.75,2635.05 1256.56,2640.83 1256.38,2647.05 1256.93,2652.25 1257.5,2658.28 1258.18,2665.12 1257.45,2670.44 1257.8,2676.23 1255.67,2682.48 1256.35,2687.47" fill="none" stroke="#dc143c" stroke-opacity="0.8" stroke-width="8.33" stroke-linejoin="round" marker-start="url(#mo)" marker-mid="url(#mo)" marker-end="url(#mo)"/>
<line clip-path="url(#pc6)" x1="1227.1" y1="2827.5" x2="1227.1" y2="2102.5" stroke="#808080" stroke-opacity="0.7" stroke-width="8.33" stroke-dasharray="30.83 13.33"/>
<polyline clip-path="url(#pc6)" points="1205.82,2118.18 1205.82,2141.94 1225.95,2164.89 1237.42,2188.84 1243.06,2208.77 1247.09,2225.28 1250.11,2241.99 1252.12,2258.7 1255.14,2283.26 1257.96,2315.87 1260.98,2349.08 1262.18,2381.9 1264,2415.1 1265,2447.91 1266.01,2480.93 1266.01,2514.14 1267.02,2546.96 1267.02,2579.77 1268.02,2612.78 1268.02,2645.8 1269.83,2678.81 1273.86,2705.99" fill="none" stroke="#4682b4" stroke-opacity="0.7" stroke-width="8.33" stroke-linejoin="round" marker-start="url(#ms)" marker-mid="url(#ms)" marker-end="url(#ms)"/>
<rect x="967.6" y="2102.5" width="692" height="725" fill="none" stroke="#000" stroke-width="3.33" />
<line x1="967.6" y1="2827.5" x2="967.6" y2="2842.9" stroke="#000" stroke-width="3.33" />
<text font-size="41.667" text-anchor="middle" transform="translate(966.6 2900) rotate(-30)" y="15">1024</text>
<line x1="1198.27" y1="2827.5" x2="1198.27" y2="2842.9" stroke="#000" stroke-width="3.33" />
<text font-size="41.667" text-anchor="middle" transform="translate(1197.27 2900) rotate(-30)" y="15">1025</text>
<line x1="1428.93" y1="2827.5" x2="1428.93" y2="2842.9" stroke="#000" stroke-width="3.33" />
<text font-size="41.667" text-anchor="middle" transform="translate(1427.93 2900) rotate(-30)" y="15">1026</text>
<line x1="1659.6" y1="2827.5" x2="1659.6" y2="2842.9" stroke="#000" stroke-width="3.33" />
<text font-size="41.667" text-anchor="middle" transform="translate(1658.6 2900) rotate(-30)" y="15">1027</text>
<line x1="952.2" y1="2102.5" x2="967.6" y2="2102.5" stroke="#000" stroke-width="3.33" />
<line x1="952.2" y1="2168.41" x2="967.6" y2="2168.41" stroke="#000" stroke-width="3.33" />
<line x1="952.2" y1="2234.32" x2="967.6" y2="2234.32" stroke="#000" stroke-width="3.33" />
<line x1="952.2" y1="2300.23" x2="967.6" y2="2300.23" stroke="#000" stroke-width="3.33" />
<line x1="952.2" y1="2366.14" x2="967.6" y2="2366.14" stroke="#000" stroke-width="3.33" />
<line x1="952.2" y1="2432.05" x2="967.6" y2="2432.05" stroke="#000" stroke-width="3.33" />
<line x1="952.2" y1="2497.95" x2="967.6" y2="2497.95" stroke="#000" stroke-width="3.33" />
<line x1="952.2" y1="2563.86" x2="967.6" y2="2563.86" stroke="#000" stroke-width="3.33" />
<line x1="952.2" y1="2629.77" x2="967.6" y2="2629.77" stroke="#000" stroke-width="3.33" />
<line x1="952.2" y1="2695.68" x2="967.6" y2="2695.68" stroke="#000" stroke-width="3.33" />
<line x1="952.2" y1="2761.59" x2="967.6" y2="2761.59" stroke="#000" stroke-width="3.33" />
<line x1="952.2" y1="2827.5" x2="967.6" y2="2827.5" stroke="#000" stroke-width="3.33" />
<text x="1313.6" y="2078.2" font-size="41.67" text-anchor="middle" font-weight="bold" fill="#000" >SF11</text>
<text x="1646.1" y="2806.7" font-size="29.17" text-anchor="end" fill="#6b6b6b" >Obs: 2022-12-22</text>
<text x="1313.6" y="2990.6" font-size="37.5" text-anchor="middle" fill="#000" >Density (kg/m³)</text>
</g>
<g>
<line x1="1959.27" y1="2102.5" x2="1959.27" y2="2827.5" stroke="#b0b0b0" stroke-width="3.33" stroke-opacity="0.3"/>
<line x1="2189.93" y1="2102.5" x2="2189.93" y2="2827.5" stroke="#b0b0b0" stroke-width="3.33" stroke-opacity="0.3"/>
<line x1="1728.6" y1="2168.41" x2="2420.6" y2="2168.41" stroke="#b0b0b0" stroke-width="3.33" stroke-opacity="0.3"/>
<line x1="1728.6" y1="2234.32" x2="2420.6" y2="2234.32" stroke="#b0b0b0" stroke-width="3.33" stroke-opacity="0.3"/>
<line x1="1728.6" y1="2300.23" x2="2420.6" y2="2300.23" stroke="#b0b0b0" stroke-width="3.33" stroke-opacity="0.3"/>
<line x1="1728.6" y1="2366.14" x2="2420.6" y2="2366.14" stroke="#b0b0b0" stroke-width="3.33" stroke-opacity="0.3"/>
<line x1="1728.6" y1="2432.05" x2="2420.6" y2="2432.05" stroke="#b0b0b0" stroke-width="3.33" stroke-opacity="0.3"/>
<line x1="1728.6" y1="2497.95" x2="2420.6" y2="2497.95" stroke="#b0b0b0" stroke-width="3.33" stroke-opacity="0.3"/>
<line x1="1728.6" y1="2563.86" x2="2420.6" y2="2563.86" stroke="#b0b0b0" stroke-width="3.33" stroke-opacity="0.3"/>
<line x1="1728.6" y1="2629.77" x2="2420.6" y2="2629.77" stroke="#b0b0b0" stroke-width="3.33" stroke-opacity="0.3"/>
<line x1="1728.6" y1="2695.68" x2="2420.6" y2="2695.68" stroke="#b0b0b0" stroke-width="3.33" stroke-opacity="0.3"/>
<line x1="1728.6" y1="2761.59" x2="2420.6" y2="2761.59" stroke="#b0b0b0" stroke-width="3.33" stroke-opacity="0.3"/>
<clipPath id="pc7"><rect x="1728.6" y="2102.5" width="692" height="725"/></clipPath>
<polyline clip-path="url(#pc7)" points="1997.77,2114.16 1997.27,2116.88 1997.14,2119.82 1996.03,2123.46 1994.2,2125.7 1994.91,2128.35 1993.5,2132.03 1996.08,2134.49 1994.44,2138.11 1994.24,2140.64 1994.1,2143.54 1994.33,2146.81 1993.33,2149.64 1993.17,2152.43 1994.6,2152.84 1997.15,2153.92 2001.26,2153.46 2001.93,2155.1 1999.41,2157.57 1996.36,2159.6 1995.21,2162.08 1997.65,2162.38 2001.14,2162.21 2003.62,2161.99 2005.04,2161.98 2003.27,2163.43 1998.89,2164.69 1997.31,2165.72 1994.34,2167.66 1990.81,2168.66 1993.16,2170.12 1997.08,2171.35 1999.58,2172.09 2000.9,2172.81 2003.47,2172.99 2007.17,2173.47 2009.26,2174.12 2014.66,2174.05 2013.96,2177.28 2015.45,2179.73 2015.89,2182.99 2016.21,2185.51 2015.51,2188.85 2014.19,2191.49 2015.51,2194.04 2014.46,2197.37 2015.1,2200.54 2014.43,2203.31 2013.96,2206.92 2014.07,2207.16" fill="none" stroke="#dc143c" stroke-opacity="0.8" stroke-width="8.33" stroke-linejoin="round" marker-start="url(#mo)" marker-mid="url(#mo)" marker-end="url(#mo)"/>
<line clip-path="url(#pc7)" x1="1988.1" y1="2827.5" x2="1988.1" y2="2102.5" stroke="#808080" stroke-opacity="0.7" stroke-width="8.33" stroke-dasharray="30.83 13.33"/>
<polyline clip-path="url(#pc7)" points="1969.98,2118.99 1969.98,2145.2 1978.08,2170.93 1978.08,2196.89" fill="none" stroke="#4682b4" stroke-opacity="0.7" stroke-width="8.33" stroke-linejoin="round" marker-start="url(#ms)" marker-mid="url(#ms)" marker-end="url(#ms)"/>
<rect x="1728.6" y="2102.5" width="692" height="725" fill="none" stroke="#000" stroke-width="3.33" />
<line x1="1728.6" y1="2827.5" x2="1728.6" y2="2842.9" stroke="#000" stroke-width="3.33" />
<text font-size="41.667" text-anchor="middle" transform="translate(1727.6 2900) rotate(-30)" y="15">1024</text>
<line x1="1959.27" y1="2827.5" x2="1959.27" y2="2842.9" stroke="#000" stroke-width="3.33" />
<text font-size="41.667" text-anchor="middle" transform="translate(1958.27 2900) rotate(-30)" y="15">1025</text>
<line x1="2189.93" y1="2827.5" x2="2189.93" y2="2842.9" stroke="#000" stroke-width="3.33" />
<text font-size="41.667" text-anchor="middle" transform="translate(2188.93 2900) rotate(-30)" y="15">1026</text>
<line x1="2420.6" y1="2827.5" x2="2420.6" y2="2842.9" stroke="#000" stroke-width="3.33" />
<text font-size="41.667" text-anchor="middle" transform="translate(2419.6 2900) rotate(-30)" y="15">1027</text>
<line x1="1713.2" y1="2102.5" x2="1728.6" y2="2102.5" stroke="#000" stroke-width="3.33" />
<line x1="1713.2" y1="2168.41" x2="1728.6" y2="2168.41" stroke="#000" stroke-width="3.33" />
<line x1="1713.2" y1="2234.32" x2="1728.6" y2="2234.32" stroke="#000" stroke-width="3.33" />
<line x1="1713.2" y1="2300.23" x2="1728.6" y2="2300.23" stroke="#000" stroke-width="3.33" />
<line x1="1713.2" y1="2366.14" x2="1728.6" y2="2366.14" stroke="#000" stroke-width="3.33" />
<line x1="1713.2" y1="2432.05" x2="1728.6" y2="2432.05" stroke="#000" stroke-width="3.33" />
<line x1="1713.2" y1="2497.95" x2="1728.6" y2="2497.95" stroke="#000" stroke-width="3.33" />
<line x1="1713.2" y1="2563.86" x2="1728.6" y2="2563.86" stroke="#000" stroke-width="3.33" />
<line x1="1713.2" y1="2629.77" x2="1728.6" y2="2629.77" stroke="#000" stroke-width="3.33" />
<line x1="1713.2" y1="2695.68" x2="1728.6" y2="2695.68" stroke="#000" stroke-width="3.33" />
<line x1="1713.2" y1="2761.59" x2="1728.6" y2="2761.59" stroke="#000" stroke-width="3.33" />
<line x1="1713.2" y1="2827.5" x2="1728.6" y2="2827.5" stroke="#000" stroke-width="3.33" />
<text x="2074.6" y="2078.2" font-size="41.67" text-anchor="middle" font-weight="bold" fill="#000" >6142983</text>
<text x="2407.1" y="2806.7" font-size="29.17" text-anchor="end" fill="#6b6b6b" >Obs: 2022-12-15</text>
<text x="2074.6" y="2990.6" font-size="37.5" text-anchor="middle" fill="#000" >Density (kg/m³)</text>
</g>
<g>
<line x1="2720.27" y1="2102.5" x2="2720.27" y2="2827.5" stroke="#b0b0b0" stroke-width="3.33" stroke-opacity="0.3"/>
<line x1="2950.93" y1="2102.5" x2="2950.93" y2="2827.5" stroke="#b0b0b0" stroke-width="3.33" stroke-opacity="0.3"/>
<line x1="2489.6" y1="2168.41" x2="3181.6" y2="2168.41" stroke="#b0b0b0" stroke-width="3.33" stroke-opacity="0.3"/>
<line x1="2489.6" y1="2234.32" x2="3181.6" y2="2234.32" stroke="#b0b0b0" stroke-width="3.33" stroke-opacity="0.3"/>
<line x1="2489.6" y1="2300.23" x2="3181.6" y2="2300.23" stroke="#b0b0b0" stroke-width="3.33" stroke-opacity="0.3"/>
<line x1="2489.6" y1="2366.14" x2="3181.6" y2="2366.14" stroke="#b0b0b0" stroke-width="3.33" stroke-opacity="0.3"/>
<line x1="2489.6" y1="2432.05" x2="3181.6" y2="2432.05" stroke="#b0b0b0" stroke-width="3.33" stroke-opacity="0.3"/>
<line x1="2489.6" y1="2497.95" x2="3181.6" y2="2497.95" stroke="#b0b0b0" stroke-width="3.33" stroke-opacity="0.3"/>
<line x1="2489.6" y1="2563.86" x2="3181.6" y2="2563.86" stroke="#b0b0b0" stroke-width="3.33" stroke-opacity="0.3"/>
<line x1="2489.6" y1="2629.77" x2="3181.6" y2="2629.77" stroke="#b0b0b0" stroke-width="3.33" stroke-opacity="0.3"/>
<line x1="2489.6" y1="2695.68" x2="3181.6" y2="2695.68" stroke="#b0b0b0" stroke-width="3.33" stroke-opacity="0.3"/>
<line x1="2489.6" y1="2761.59" x2="3181.6" y2="2761.59" stroke="#b0b0b0" stroke-width="3.33" stroke-opacity="0.3"/>
<clipPath id="pc8"><rect x="2489.6" y="2102.5" width="692" height="725"/></clipPath>
<polyline clip-path="url(#pc8)" points="2714,2111.14 2713.8,2114.69 2714.73,2118.07 2718.81,2121.08 2720.58,2124.42 2723.88,2124.51 2727.02,2125.71 2728.55,2126.34 2726.04,2127.56 2721.91,2128.54 2717.97,2129.62 2714.68,2130.31 2709.97,2131.25 2706.54,2132.23 2707.75,2135.48 2709.54,2138.19 2712.95,2138.19 2717.75,2138.96 2719.82,2138.46 2723.55,2139.02 2727.15,2139.46 2729.72,2139 2734.53,2138.84 2732.86,2141.36 2729.76,2144.19 2727.2,2145.98 2725.45,2148.3 2727.38,2151.01 2728.54,2154.35 2731.37,2156.63 2730.81,2158.66 2726.97,2159.56 2724.92,2160.46 2719.61,2160.44 2717.7,2161.59 2717.36,2163.04 2719.92,2164.57 2722.96,2166.03 2727.84,2168.17 2731.44,2170.52 2732.2,2173 2733.63,2175.85 2735.75,2179.31 2738.91,2181.01 2741.36,2182.01 2746.74,2183.83 2747.74,2186.18 2749.39,2188.02 2746.68,2189.26 2742.93,2191.77 2739.13,2193.73 2736.36,2195.44 2736.41,2197.39 2739.18,2198.96 2742.99,2200 2746.43,2201.56 2747.89,2205.05 2746.09,2207.83 2744.29,2212.1 2746.24,2213.6 2750.83,2214.8 2754.46,2217.14 2752.43,2219.6 2750.23,2222.24 2746,2224.35 2749.76,2228.12 2751.84,2231.15 2751.15,2233.6 2750.73,2237.01 2749.8,2240.66 2748.77,2244.49 2750.21,2247.77 2749.78,2250.95 2751,2253.67 2755.74,2255.93 2758.07,2257.96 2758.39,2261.28 2759.46,2264.8 2759.77,2269.07 2759.42,2272.39 2759.15,2276.15 2759.16,2279.93 2757.7,2282.67 2757.81,2286.22 2755.84,2290.13 2757.52,2293.19 2755.66,2296.9 2755.87,2300.89 2756.16,2304.05 2756.23,2307.49 2753.82,2311.68 2755.39,2315.06 2754.56,2318.15 2756.26,2321.79 2755.51,2325.59 2756.25,2329.05 2757.25,2332.55 2757.47,2336.22 2754.54,2339.79 2754.39,2343.04 2753.84,2346.85 2752.89,2350.68 2754.4,2353.64 2752.03,2357.47 2752.85,2359.75" fill="none" stroke="#dc143c" stroke-opacity="0.8" stroke-width="8.33" stroke-linejoin="round" marker-start="url(#mo)" marker-mid="url(#mo)" marker-end="url(#mo)"/>
<line clip-path="url(#pc8)" x1="2749.1" y1="2827.5" x2="2749.1" y2="2102.5" stroke="#808080" stroke-opacity="0.7" stroke-width="8.33" stroke-dasharray="30.83 13.33"/>
<polyline clip-path="url(#pc8)" points="2776,2117.78 2777.01,2141.94 2798.95,2165.89 2817.07,2188.84 2825.12,2208.77 2829.15,2226.08 2832.17,2241.99 2833.18,2258.7 2835.19,2283.26 2836.2,2315.87 2836.2,2342.04" fill="none" stroke="#4682b4" stroke-opacity="0.7" stroke-width="8.33" stroke-linejoin="round" marker-start="url(#ms)" marker-mid="url(#ms)" marker-end="url(#ms)"/>
<rect x="2489.6" y="2102.5" width="692" height="725" fill="none" stroke="#000" stroke-width="3.33" />
<line x1="2489.6" y1="2827.5" x2="2489.6" y2="2842.9" stroke="#000" stroke-width="3.33" />
<text font-size="41.667" text-anchor="middle" transform="translate(2488.6 2900) rotate(-30)" y="15">1024</text>
<line x1="2720.27" y1="2827.5" x2="2720.27" y2="2842.9" stroke="#000" stroke-width="3.33" />
<text font-size="41.667" text-anchor="middle" transform="translate(2719.27 2900) rotate(-30)" y="15">1025</text>
<line x1="2950.93" y1="2827.5" x2="2950.93" y2="2842.9" stroke="#000" stroke-width="3.33" />
<text font-size="41.667" text-anchor="middle" transform="translate(2949.93 2900) rotate(-30)" y="15">1026</text>
<line x1="3181.6" y1="2827.5" x2="3181.6" y2="2842.9" stroke="#000" stroke-width="3.33" />
<text font-size="41.667" text-anchor="middle" transform="translate(3180.6 2900) rotate(-30)" y="15">1027</text>
<line x1="2474.2" y1="2102.5" x2="2489.6" y2="2102.5" stroke="#000" stroke-width="3.33" />
<line x1="2474.2" y1="2168.41" x2="2489.6" y2="2168.41" stroke="#000" stroke-width="3.33" />
<line x1="2474.2" y1="2234.32" x2="2489.6" y2="2234.32" stroke="#000" stroke-width="3.33" />
<line x1="2474.2" y1="2300.23" x2="2489.6" y2="2300.23" stroke="#000" stroke-width="3.33" />
<line x1="2474.2" y1="2366.14" x2="2489.6" y2="2366.14" stroke="#000" stroke-width="3.33" />
<line x1="2474.2" y1="2432.05" x2="2489.6" y2="2432.05" stroke="#000" stroke-width="3.33" />
<line x1="2474.2" y1="2497.95" x2="2489.6" y2="2497.95" stroke="#000" stroke-width="3.33" />
<line x1="2474.2" y1="2563.86" x2="2489.6" y2="2563.86" stroke="#000" stroke-width="3.33" />
<line x1="2474.2" y1="2629.77" x2="2489.6" y2="2629.77" stroke="#000" stroke-width="3.33" />
<line x1="2474.2" y1="2695.68" x2="2489.6" y2="2695.68" stroke="#000" stroke-width="3.33" />
<line x1="2474.2" y1="2761.59" x2="2489.6" y2="2761.59" stroke="#000" stroke-width="3.33" />
<line x1="2474.2" y1="2827.5" x2="2489.6" y2="2827.5" stroke="#000" stroke-width="3.33" />
<text x="2835.6" y="2078.2" font-size="41.67" text-anchor="middle" font-weight="bold" fill="#000" >SC</text>
<text x="3168.1" y="2806.7" font-size="29.17" text-anchor="end" fill="#6b6b6b" >Obs: 2022-12-22</text>
<text x="2835.6" y="2990.6" font-size="37.5" text-anchor="middle" fill="#000" >Density (kg/m³)</text>
</g>
<g>
<line x1="3481.27" y1="2102.5" x2="3481.27" y2="2827.5" stroke="#b0b0b0" stroke-width="3.33" stroke-opacity="0.3"/>
<line x1="3711.93" y1="2102.5" x2="3711.93" y2="2827.5" stroke="#b0b0b0" stroke-width="3.33" stroke-opacity="0.3"/>
<line x1="3250.6" y1="2168.41" x2="3942.6" y2="2168.41" stroke="#b0b0b0" stroke-width="3.33" stroke-opacity="0.3"/>
<line x1="3250.6" y1="2234.32" x2="3942.6" y2="2234.32" stroke="#b0b0b0" stroke-width="3.33" stroke-opacity="0.3"/>
<line x1="3250.6" y1="2300.23" x2="3942.6" y2="2300.23" stroke="#b0b0b0" stroke-width="3.33" stroke-opacity="0.3"/>
<line x1="3250.6" y1="2366.14" x2="3942.6" y2="2366.14" stroke="#b0b0b0" stroke-width="3.33" stroke-opacity="0.3"/>
<line x1="3250.6" y1="2432.05" x2="3942.6" y2="2432.05" stroke="#b0b0b0" stroke-width="3.33" stroke-opacity="0.3"/>
<line x1="3250.6" y1="2497.95" x2="3942.6" y2="2497.95" stroke="#b0b0b0" stroke-width="3.33" stroke-opacity="0.3"/>
<line x1="3250.6" y1="2563.86" x2="3942.6" y2="2563.86" stroke="#b0b0b0" stroke-width="3.33" stroke-opacity="0.3"/>
<line x1="3250.6" y1="2629.77" x2="3942.6" y2="2629.77" stroke="#b0b0b0" stroke-width="3.33" stroke-opacity="0.3"/>
<line x1="3250.6" y1="2695.68" x2="3942.6" y2="2695.68" stroke="#b0b0b0" stroke-width="3.33" stroke-opacity="0.3"/>
<line x1="3250.6" y1="2761.59" x2="3942.6" y2="2761.59" stroke="#b0b0b0" stroke-width="3.33" stroke-opacity="0.3"/>
<clipPath id="pc9"><rect x="3250.6" y="2102.5" width="692" height="725"/></clipPath>
<polyline clip-path="url(#pc9)" points="3465.95,2109.12 3466.88,2112.72 3467.68,2116.47 3463.82,2118.58 3462.61,2120.4 3459.87,2121.79 3461.9,2124.96 3462.46,2127.94 3461.67,2130.19 3457.96,2132.43 3454.97,2134.1 3452.44,2136.36 3455.9,2137.26 3458.47,2138.16 3463.55,2138.04 3463.64,2139.95 3463.18,2142.91 3461.21,2146.25 3461.06,2149.5 3460.25,2153.36 3460.65,2156.12 3457.33,2157.61 3455.27,2157.84 3451.72,2158.99 3448.36,2160.44 3443.83,2161.88 3441.83,2163.84 3440.14,2166.63 3440.97,2166.97 3442.76,2167.43 3446.45,2166.56 3449.97,2166.7 3453.62,2165.69 3456.72,2166.16 3460.16,2165.1 3464.47,2165.17 3469.35,2165.26 3471.99,2164.7 3474.75,2166.26 3477.18,2168.22 3481.64,2169.87 3485.28,2172.17 3488.18,2174.62 3488.46,2176.77 3491.27,2179.48 3490.22,2183.31 3489.03,2186.89 3489.18,2190.78 3487.86,2193.83 3487.84,2197.17 3491.63,2199.69 3493.13,2202.37 3493.66,2204.82 3490.58,2207.61 3488.53,2209.36 3486.62,2211.27 3484.27,2213.88 3481.95,2215.06 3485.6,2217.68 3486.5,2220.06 3490.04,2223.11 3491.28,2225.91 3490.68,2228.81 3489.15,2231.23 3485,2232.71 3483,2234.06 3485.72,2236.62 3489.94,2238.96 3491.02,2241.71 3493.98,2244.56 3491.97,2248.6 3492.53,2252.19 3494.64,2254.55 3496.53,2257.71 3492.58,2260.18 3491.87,2261.84 3494.28,2264.24 3498.54,2267.14 3495.25,2269 3492.89,2271.67 3491.56,2274.68 3492.01,2276.74 3495.21,2279.07 3497.41,2281.04 3497.77,2283.79 3498.26,2287.05 3495.46,2290.29 3496.88,2293.25 3497.49,2296.69 3497.18,2300.68 3498.23,2304.04 3495.86,2307.24 3495.06,2310.86 3494.95,2314.01 3493.1,2317.29 3491.26,2320.52 3494.25,2324.06 3493.5,2327.16 3494.75,2330.49 3495.76,2334.27 3496.45,2338.33 3498.37,2341.69 3495.87,2345.63 3497.54,2349.09 3495.55,2352.41 3496.09,2356.11 3498.21,2359.72 3497.19,2363.32 3497.15,2364.79" fill="none" stroke="#dc143c" stroke-opacity="0.8" stroke-width="8.33" stroke-linejoin="round" marker-start="url(#mo)" marker-mid="url(#mo)" marker-end="url(#mo)"/>
<line clip-path="url(#pc9)" x1="3510.1" y1="2827.5" x2="3510.1" y2="2102.5" stroke="#808080" stroke-opacity="0.7" stroke-width="8.33" stroke-dasharray="30.83 13.33"/>
<polyline clip-path="url(#pc9)" points="3539.02,2117.78 3539.02,2141.94 3540.03,2165.89 3557.14,2188.84 3568.01,2208.77 3571.03,2226.08 3573.04,2241.99 3575.06,2258.7 3576.06,2283.26 3576.06,2313.05" fill="none" stroke="#4682b4" stroke-opacity="0.7" stroke-width="8.33" stroke-linejoin="round" marker-start="url(#ms)" marker-mid="url(#ms)" marker-end="url(#ms)"/>
<rect x="3250.6" y="2102.5" width="692" height="725" fill="none" stroke="#000" stroke-width="3.33" />
<line x1="3250.6" y1="2827.5" x2="3250.6" y2="2842.9" stroke="#000" stroke-width="3.33" />
<text font-size="41.667" text-anchor="middle" transform="translate(3249.6 2900) rotate(-30)" y="15">1024</text>
<line x1="3481.27" y1="2827.5" x2="3481.27" y2="2842.9" stroke="#000" stroke-width="3.33" />
<text font-size="41.667" text-anchor="middle" transform="translate(3480.27 2900) rotate(-30)" y="15">1025</text>
<line x1="3711.93" y1="2827.5" x2="3711.93" y2="2842.9" stroke="#000" stroke-width="3.33" />
<text font-size="41.667" text-anchor="middle" transform="translate(3710.93 2900) rotate(-30)" y="15">1026</text>
<line x1="3942.6" y1="2827.5" x2="3942.6" y2="2842.9" stroke="#000" stroke-width="3.33" />
<text font-size="41.667" text-anchor="middle" transform="translate(3941.6 2900) rotate(-30)" y="15">1027</text>
<line x1="3235.2" y1="2102.5" x2="3250.6" y2="2102.5" stroke="#000" stroke-width="3.33" />
<line x1="3235.2" y1="2168.41" x2="3250.6" y2="2168.41" stroke="#000" stroke-width="3.33" />
<line x1="3235.2" y1="2234.32" x2="3250.6" y2="2234.32" stroke="#000" stroke-width="3.33" />
<line x1="3235.2" y1="2300.23" x2="3250.6" y2="2300.23" stroke="#000" stroke-width="3.33" />
<line x1="3235.2" y1="2366.14" x2="3250.6" y2="2366.14" stroke="#000" stroke-width="3.33" />
<line x1="3235.2" y1="2432.05" x2="3250.6" y2="2432.05" stroke="#000" stroke-width="3.33" />
<line x1="3235.2" y1="2497.95" x2="3250.6" y2="2497.95" stroke="#000" stroke-width="3.33" />
<line x1="3235.2" y1="2563.86" x2="3250.6" y2="2563.86" stroke="#000" stroke-width="3.33" />
<line x1="3235.2" y1="2629.77" x2="3250.6" y2="2629.77" stroke="#000" stroke-width="3.33" />
<line x1="3235.2" y1="2695.68" x2="3250.6" y2="2695.68" stroke="#000" stroke-width="3.33" />
<line x1="3235.2" y1="2761.59" x2="3250.6" y2="2761.59" stroke="#000" stroke-width="3.33" />
<line x1="3235.2" y1="2827.5" x2="3250.6" y2="2827.5" stroke="#000" stroke-width="3.33" />
<text x="3596.6" y="2078.2" font-size="41.67" text-anchor="middle" font-weight="bold" fill="#000" >SC2</text>
<text x="3929.1" y="2806.7" font-size="29.17" text-anchor="end" fill="#6b6b6b" >Obs: 2022-12-22</text>
<text x="3596.6" y="2990.6" font-size="37.5" text-anchor="middle" fill="#000" >Density (kg/m³)</text>
</g>
<rect x="1979.5" y="2675" width="1232" height="67" rx="8" ry="8" fill="#fff" fill-opacity="0.8" stroke="#ccc" stroke-opacity="0.8" stroke-width="4.17"/>
<line x1="1989.6" y1="2705.9" x2="2072.6" y2="2705.9" stroke="#dc143c" stroke-width="8.33" />
<circle cx="2031.1" cy="2705.9" r="12.2" fill="#dc143c"/>
<text x="2097.6" y="2719.4" font-size="37.5" text-anchor="start" fill="#000" >Observed</text>
<line x1="2349.6" y1="2705.9" x2="2432.6" y2="2705.9" stroke="#4682b4" stroke-width="8.33" />
<text x="2459.6" y="2719.4" font-size="37.5" text-anchor="start" fill="#000" >Model</text>
<line x1="2647.4" y1="2706.5" x2="2730.4" y2="2706.5" stroke="#808080" stroke-width="8.33" stroke-dasharray="30.83 13.33"/>
<text x="2752.1" y="2720.2" font-size="37.5" text-anchor="start" fill="#000" >Overall Mean (1025.12)</text>
<clipPath id="mclip"><rect x="4093.5" y="1184.45" width="495" height="1643.05"/></clipPath>
<defs><filter id="b30" x="-50%" y="-50%" width="200%" height="200%"><feGaussianBlur stdDeviation="30"/></filter><filter id="b18" x="-50%" y="-50%" width="200%" height="200%"><feGaussianBlur stdDeviation="16"/></filter><filter id="b8" x="-50%" y="-50%" width="200%" height="200%"><feGaussianBlur stdDeviation="7"/></filter><filter id="b4" x="-50%" y="-50%" width="200%" height="200%"><feGaussianBlur stdDeviation="3.5"/></filter></defs>
<g clip-path="url(#mclip)">
<rect x="4088.5" y="1179.45" width="505" height="1653.05" fill="#1cffdb" stroke="none" stroke-width="0" />
<ellipse cx="4180" cy="1235" rx="190" ry="115" fill="#00dcfe" filter="url(#b30)"/>
<ellipse cx="4310" cy="1320" rx="110" ry="70" fill="#00e0fb" filter="url(#b30)"/>
<ellipse cx="4400" cy="1230" rx="60" ry="60" fill="#02e8f4" filter="url(#b30)"/>
<ellipse cx="4330" cy="1400" rx="60" ry="40" fill="#02e8f4" filter="url(#b30)"/>
<ellipse cx="4085" cy="1650" rx="45" ry="170" fill="#49ffad" filter="url(#b30)"/>
<ellipse cx="4560" cy="1790" rx="90" ry="90" fill="#3cffba" filter="url(#b30)"/>
<ellipse cx="4460" cy="1850" rx="120" ry="50" fill="#30ffc7" filter="url(#b30)"/>
<ellipse cx="4400" cy="2150" rx="260" ry="190" fill="#00dcfe" filter="url(#b30)"/>
<ellipse cx="4430" cy="2400" rx="230" ry="130" fill="#00dcfe" filter="url(#b30)"/>
<ellipse cx="4300" cy="2050" rx="150" ry="110" fill="#00dcfe" filter="url(#b30)"/>
<ellipse cx="4235" cy="2150" rx="70" ry="80" fill="#00bcff" filter="url(#b30)"/>
<ellipse cx="4190" cy="2070" rx="60" ry="70" fill="#00ccff" filter="url(#b30)"/>
<ellipse cx="4470" cy="2480" rx="140" ry="70" fill="#00dcfe" filter="url(#b30)"/>
<ellipse cx="4090" cy="2300" rx="70" ry="220" fill="#49ffad" filter="url(#b30)"/>
<ellipse cx="4170" cy="2560" rx="130" ry="160" fill="#3cffba" filter="url(#b30)"/>
<ellipse cx="4200" cy="2480" rx="100" ry="60" fill="#36ffc1" filter="url(#b30)"/>
<ellipse cx="4120" cy="2760" rx="120" ry="80" fill="#30ffc7" filter="url(#b30)"/>
<ellipse cx="4400" cy="2800" rx="120" ry="40" fill="#1cffdb" filter="url(#b30)"/>
<ellipse cx="4112" cy="1892" rx="28" ry="18" fill="#00dcfe" filter="url(#b18)"/>
<ellipse cx="4520" cy="1960" rx="90" ry="60" fill="#02e8f4" filter="url(#b30)"/>
<ellipse cx="4290" cy="2390" rx="60" ry="50" fill="#13fce4" filter="url(#b18)"/>
<ellipse cx="4575" cy="2290" rx="35" ry="80" fill="#16ffe1" filter="url(#b30)"/>
<ellipse cx="4420" cy="2440" rx="70" ry="40" fill="#06ecf1" filter="url(#b30)"/>
<ellipse cx="4462" cy="1285" rx="62" ry="64" fill="#00a0ff" filter="url(#b18)"/>
<ellipse cx="4468" cy="1278" rx="40" ry="42" fill="#0008ff" filter="url(#b18)"/>
<ellipse cx="4480" cy="1265" rx="28" ry="24" fill="#0000c4" filter="url(#b8)"/>
<path d="M4602.18 1178.7 L4547.78 1178.7 L4547.78 1190.67 L4531.46 1206.99 L4519.5 1224.39 L4511.88 1232.01 L4499.92 1239.19 L4478.16 1245.06 L4493.39 1257.03 L4504.27 1252.68 L4524.94 1240.71 L4534.73 1234.18 L4565.19 1206.99 L4588.47 1186.32 Z" fill="#000080"/>
<ellipse cx="4492" cy="1252" rx="22" ry="14" fill="#00008c" filter="url(#b8)"/>
<path d="M4523.85 1297.28 L4540.6 1281.4 L4559.31 1295.54 L4554.31 1312.51 L4534.73 1301.63 Z" fill="#90ff66" filter="url(#b4)"/>
<ellipse cx="4237" cy="2382" rx="14" ry="10" fill="#0080ff" filter="url(#b8)"/>
<ellipse cx="4283" cy="2732" rx="12" ry="18" fill="#0090ff" filter="url(#b8)"/>
<ellipse cx="4385" cy="2763" rx="20" ry="12" fill="#0090ff" filter="url(#b8)"/>
<ellipse cx="4320" cy="2552" rx="22" ry="14" fill="#00b0ff" filter="url(#b8)"/>
<path d="M4294 2462 L4303 2455 L4308 2478 L4300 2502 L4286 2500 Z" fill="#ff5500" filter="url(#b4)"/>
<path d="M4296 2450 L4306 2452 L4310 2462 L4298 2466 Z" fill="#a00000" filter="url(#b4)"/>
<path d="M4202.93 2386.94 L4222.51 2390.86 L4231.21 2371.28 L4216.64 2379.98 Z" fill="#fff"/>
<path d="M4299.75 2435.46 L4305.62 2447.86 L4296.49 2453.52 Z" fill="#fff"/>
<path d="M4288.22 2677.78 L4275.82 2698.02 L4292.13 2715.86 L4295.83 2697.36 Z" fill="#fff"/>
<path d="M4288.22 2741.97 L4288.44 2758.28 L4357.41 2767.42 L4378.51 2752.19 L4357.41 2745.23 Z" fill="#fff"/>
<path d="M4506.44 1183.05 L4501 1191.76 L4479.25 1198.28 L4459.67 1208.73 L4445.52 1227.66 L4429.21 1242.23 L4432.47 1248.76 L4445.52 1234.18 L4460.32 1213.08 L4469.46 1227.66 L4454.23 1246.59 L4478.16 1245.06 L4499.92 1239.19 L4511.88 1232.01 L4519.5 1224.39 L4531.46 1206.99 L4547.78 1190.67 L4556.49 1183.05 Z" fill="#fff" stroke="#000" stroke-width="3.4" stroke-linejoin="round"/>
<path d="M4590.21 1184.79 L4565.19 1206.99 L4534.73 1234.18 L4524.94 1240.71 L4504.27 1252.68 L4517.32 1272.26 L4516.23 1295.1 L4540.6 1281.4 L4559.31 1295.54 L4554.31 1312.51 L4534.73 1301.63 L4541.26 1317.95 L4546.69 1335.36 L4567.36 1348.41 L4580.42 1364.73 L4581.94 1387.57 L4582.59 1412.59 L4588.47 1437.62 L4602.18 1439.79 L4602.18 1183.05 Z" fill="#fff" stroke="#000" stroke-width="3.4" stroke-linejoin="round"/>
<path d="M4602.18 1704.96 L4588.47 1709.31 L4565.19 1716.92 L4541.26 1723.45 L4519.5 1728.24 L4523.85 1736.07 L4545.61 1736.07 L4570.63 1732.15 L4588.47 1733.24 L4602.18 1733.24 Z" fill="#fff" stroke="#000" stroke-width="3.4" stroke-linejoin="round"/>
<path d="M4086.53 1863.51 L4093.49 1875.48 L4099.58 1888.54 L4114.81 1904.85 L4128.95 1926.61 L4135.05 1948.8 L4132.87 1972.3 L4126.13 1994.06 L4125.04 2018.43 L4142.01 2061.94 L4153.97 2078.91 L4169.21 2101.76 L4174.21 2147.45 L4175.73 2149.35 L4186.61 2167.85 L4195.31 2189.6 L4206.19 2211.36 L4223.6 2226.59 L4245.36 2236.38 L4256.23 2257.05 L4258.85 2279.9 L4219.25 2278.81 L4199.23 2291.21 L4193.79 2313.62 L4201.84 2335.38 L4220.33 2352.78 L4238.83 2364.75 L4262.33 2371.71 L4255.8 2375.63 L4232.3 2368.67 L4216.64 2379.98 L4202.93 2386.94 L4157.89 2376.06 L4153.97 2353.87 L4151.36 2329.94 L4145.27 2306 L4142.01 2284.25 L4132.22 2259.23 L4114.81 2220.06 L4101.76 2175.46 L4098.49 2145 L4099.58 2155.06 L4094.79 2126.78 L4098.49 2103.93 L4093.49 2084.35 L4086.53 2070.21 Z" fill="#fff" stroke="#000" stroke-width="3.4" stroke-linejoin="round"/>
<path d="M4602.18 2425.67 L4588.47 2439.81 L4554.31 2480.06 L4541.26 2493.93 L4517.32 2514.6 L4489.04 2535.27 L4460.75 2554.85 L4439 2566.82 L4417.24 2573.35 L4393.31 2573.35 L4369.37 2567.47 L4347.62 2564.64 L4323.68 2567.91 L4300.84 2565.3 L4279.08 2555.94 L4271.03 2537.45 L4263.2 2541.8 L4242.74 2530.92 L4220.33 2523.96 L4200.32 2511.34 L4184.44 2521.56 L4196.4 2540.06 L4219.25 2546.59 L4236.65 2558.12 L4254.06 2572.26 L4271.03 2587.49 L4284.52 2607.51 L4292.79 2629.92 L4289.96 2650.59 L4288.44 2674.52 L4295.83 2697.36 L4292.13 2720.21 L4288.22 2741.97 L4309.54 2744.58 L4332.38 2744.14 L4357.41 2745.23 L4380.25 2751.76 L4402.01 2758.72 L4424.85 2764.16 L4447.7 2772.43 L4468.37 2784.39 L4485.34 2800.71 L4502.53 2828.13 L4602.18 2839.87 Z" fill="#fff" stroke="#000" stroke-width="3.4" stroke-linejoin="round"/>
<line x1="4341" y1="1184.45" x2="4341" y2="2827.5" stroke="#b0b0b0" stroke-width="2.08" stroke-opacity="0.8"/>
<line x1="4093.5" y1="1404.1" x2="4588.5" y2="1404.1" stroke="#b0b0b0" stroke-width="2.08" stroke-opacity="0.8"/>
<line x1="4093.5" y1="1880.9" x2="4588.5" y2="1880.9" stroke="#b0b0b0" stroke-width="2.08" stroke-opacity="0.8"/>
<line x1="4093.5" y1="2357" x2="4588.5" y2="2357" stroke="#b0b0b0" stroke-width="2.08" stroke-opacity="0.8"/>
<path d="M4284.52 2409.35 L4293.66 2411.53 L4299.31 2427.85 L4299.75 2434.37 L4286.69 2480.06 L4280.17 2500.46 L4274.73 2511.34" fill="none" stroke="#000" stroke-width="7.6" stroke-linejoin="miter" stroke-linecap="butt"/>
<path d="M4293.66 2411.53 L4299.31 2427.85 L4299.75 2434.37 L4286.69 2480.06 L4280.17 2500.46 L4274.73 2511.34" fill="none" stroke="#fff" stroke-width="1.5" stroke-linejoin="miter"/>
<path d="M4447.7 1294.02 L4453.57 1324.48 L4459.67 1354.94 L4462.93 1385.4 L4458.58 1418.03 L4464.02 1450.67 L4464.45 1548.31 L4472.72 1592.91 L4452.05 1633.16 L4431.38 1669.49 L4381.34 1752.82 L4336.74 1807.22 L4292.13 1860.69 L4274.73 1910.29 L4280.17 1966.86 L4319.33 2022.34 L4349.79 2060.42 L4393.31 2104.37 L4425.94 2130.04 L4454.23 2146.36 L4474.9 2167.85 L4498.83 2178.72 L4514.06 2197.22 L4544.52 2222.24 L4553.87 2253.79 L4553.44 2278.15 L4536.9 2297.3 L4510.79 2311.44 L4491.21 2325.59 L4454.23 2337.55 L4428.12 2350.61 L4403.53 2369.54 L4384.6 2388.68 L4350.23 2406.74 L4297.57 2423.49 L4245.36 2433.28 L4206.19 2437.64 L4182.26 2441.55 L4148.54 2465.92 L4136.57 2506.99 L4127.43 2545.06 L4134.39 2583.14 L4144.18 2631 L4162.68 2669.08 L4184.44 2696.28 L4193.14 2707.59 L4222.51 2714.12" fill="none" stroke="#f00" stroke-width="7.3" stroke-linejoin="round"/>
</g>
<rect x="4093.5" y="1184.45" width="495" height="1643.05" fill="none" stroke="#000" stroke-width="3.33" />
<text x="4464.27" y="1313.98" font-size="33.33" text-anchor="start" font-weight="bold" fill="#f00" >MR</text>
<text x="4475.15" y="1537.81" font-size="33.33" text-anchor="start" font-weight="bold" fill="#f00" >OA9S</text>
<text x="4442.08" y="1658.99" font-size="33.33" text-anchor="start" font-weight="bold" fill="#f00" >OA1-DEP</text>
<text x="4302.83" y="1850.19" font-size="33.33" text-anchor="start" font-weight="bold" fill="#f00" >6147030</text>
<text x="4404.01" y="2093.87" font-size="33.33" text-anchor="start" font-weight="bold" fill="#f00" >6142974</text>
<text x="4564.14" y="2267.65" font-size="33.33" text-anchor="start" font-weight="bold" fill="#f00" >LP</text>
<text x="4414.23" y="2359.04" font-size="33.33" text-anchor="start" font-weight="bold" fill="#f00" >SF11</text>
<text x="4360.93" y="2396.24" font-size="33.33" text-anchor="start" font-weight="bold" fill="#f00" >6142983</text>
<text x="4192.96" y="2431.05" font-size="33.33" text-anchor="start" font-weight="bold" fill="#f00" >SC</text>
<text x="4203.84" y="2697.09" font-size="33.33" text-anchor="start" font-weight="bold" fill="#f00" >SC2</text>
<circle cx="4453.57" cy="1324.48" r="10.4" fill="#ff0" stroke="#000" stroke-width="4.17"/>
<circle cx="4464.45" cy="1548.31" r="10.4" fill="#ff0" stroke="#000" stroke-width="4.17"/>
<circle cx="4431.38" cy="1669.49" r="10.4" fill="#ff0" stroke="#000" stroke-width="4.17"/>
<circle cx="4292.13" cy="1860.69" r="10.4" fill="#ff0" stroke="#000" stroke-width="4.17"/>
<circle cx="4393.31" cy="2104.37" r="10.4" fill="#ff0" stroke="#000" stroke-width="4.17"/>
<circle cx="4553.44" cy="2278.15" r="10.4" fill="#ff0" stroke="#000" stroke-width="4.17"/>
<circle cx="4403.53" cy="2369.54" r="10.4" fill="#ff0" stroke="#000" stroke-width="4.17"/>
<circle cx="4350.23" cy="2406.74" r="10.4" fill="#ff0" stroke="#000" stroke-width="4.17"/>
<circle cx="4182.26" cy="2441.55" r="10.4" fill="#ff0" stroke="#000" stroke-width="4.17"/>
<circle cx="4193.14" cy="2707.59" r="10.4" fill="#ff0" stroke="#000" stroke-width="4.17"/>
<line x1="4093.5" y1="2827.5" x2="4093.5" y2="2842.9" stroke="#000" stroke-width="3.33" />
<text x="4093.5" y="2888.4" font-size="41.67" text-anchor="middle" fill="#000" >115.669</text>
<line x1="4341" y1="2827.5" x2="4341" y2="2842.9" stroke="#000" stroke-width="3.33" />
<text x="4341" y="2888.4" font-size="41.67" text-anchor="middle" fill="#000" >115.711</text>
<line x1="4588.5" y1="2827.5" x2="4588.5" y2="2842.9" stroke="#000" stroke-width="3.33" />
<text x="4588.5" y="2888.4" font-size="41.67" text-anchor="middle" fill="#000" >115.753</text>
<line x1="4078.1" y1="1404.1" x2="4093.5" y2="1404.1" stroke="#000" stroke-width="3.33" />
<text x="4054.7" y="1391.2" font-size="41.67" text-anchor="end" fill="#000" transform="rotate(-90 4054.7 1391.2)" >-32.080</text>
<line x1="4078.1" y1="1880.9" x2="4093.5" y2="1880.9" stroke="#000" stroke-width="3.33" />
<text x="4054.7" y="1868" font-size="41.67" text-anchor="end" fill="#000" transform="rotate(-90 4054.7 1868)" >-32.160</text>
<line x1="4078.1" y1="2356.7" x2="4093.5" y2="2356.7" stroke="#000" stroke-width="3.33" />
<text x="4054.7" y="2343.8" font-size="41.67" text-anchor="end" fill="#000" transform="rotate(-90 4054.7 2343.8)" >-32.240</text>
<text x="4341" y="2940.3" font-size="33.33" text-anchor="middle" fill="#000" >Longitude</text>
<text x="4341" y="1160.15" font-size="41.67" text-anchor="middle" font-weight="bold" fill="#000" >Transect Map</text>
</svg>
</body></html>
